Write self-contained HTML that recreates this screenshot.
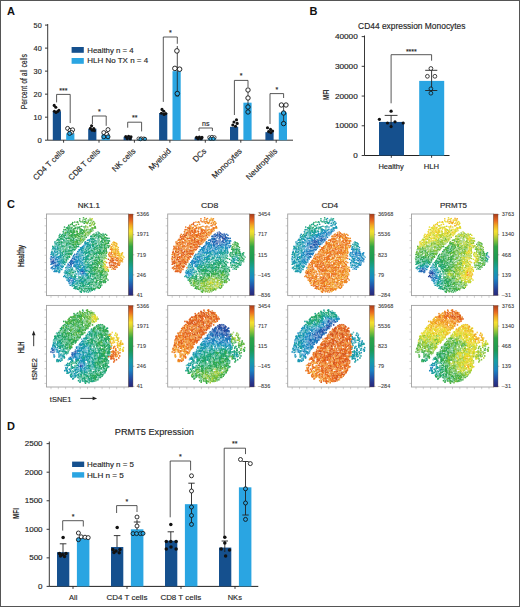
<!DOCTYPE html>
<html><head><meta charset="utf-8"><style>
html,body{margin:0;padding:0;background:#fff;}
body{width:520px;height:607px;overflow:hidden;position:relative;}
svg{position:absolute;left:0;top:0;}
text{font-family:"Liberation Sans",sans-serif;}
</style></head><body>
<svg width="520" height="607" viewBox="0 0 520 607">
<rect x="0.5" y="0.5" width="519" height="606" fill="#fff" stroke="#555" stroke-width="1"/>
<text x="7" y="14.75" font-size="11" text-anchor="start" fill="#111" font-weight="bold">A</text>
<line x1="47.7" y1="24.0" x2="47.7" y2="140.2" stroke="#222" stroke-width="0.9"/>
<line x1="45.0" y1="140.2" x2="47.7" y2="140.2" stroke="#222" stroke-width="0.9"/>
<text x="41.7" y="142.6" font-size="6.8" text-anchor="end" fill="#262626" font-weight="normal" textLength="4.3" lengthAdjust="spacingAndGlyphs" stroke="#262626" stroke-width="0.15">0</text>
<line x1="45.0" y1="117.17999999999999" x2="47.7" y2="117.17999999999999" stroke="#222" stroke-width="0.9"/>
<text x="41.7" y="119.58" font-size="6.8" text-anchor="end" fill="#262626" font-weight="normal" textLength="8.1" lengthAdjust="spacingAndGlyphs" stroke="#262626" stroke-width="0.15">10</text>
<line x1="45.0" y1="94.16" x2="47.7" y2="94.16" stroke="#222" stroke-width="0.9"/>
<text x="41.7" y="96.56" font-size="6.8" text-anchor="end" fill="#262626" font-weight="normal" textLength="8.1" lengthAdjust="spacingAndGlyphs" stroke="#262626" stroke-width="0.15">20</text>
<line x1="45.0" y1="71.13999999999999" x2="47.7" y2="71.13999999999999" stroke="#222" stroke-width="0.9"/>
<text x="41.7" y="73.53999999999999" font-size="6.8" text-anchor="end" fill="#262626" font-weight="normal" textLength="8.1" lengthAdjust="spacingAndGlyphs" stroke="#262626" stroke-width="0.15">30</text>
<line x1="45.0" y1="48.11999999999999" x2="47.7" y2="48.11999999999999" stroke="#222" stroke-width="0.9"/>
<text x="41.7" y="50.51999999999999" font-size="6.8" text-anchor="end" fill="#262626" font-weight="normal" textLength="8.1" lengthAdjust="spacingAndGlyphs" stroke="#262626" stroke-width="0.15">40</text>
<line x1="45.0" y1="25.09999999999998" x2="47.7" y2="25.09999999999998" stroke="#222" stroke-width="0.9"/>
<text x="41.7" y="27.49999999999998" font-size="6.8" text-anchor="end" fill="#262626" font-weight="normal" textLength="8.1" lengthAdjust="spacingAndGlyphs" stroke="#262626" stroke-width="0.15">50</text>
<line x1="47.7" y1="140.2" x2="293" y2="140.2" stroke="#222" stroke-width="0.9"/>
<text transform="translate(26.7,81.6) rotate(-90)" font-size="8.8" text-anchor="middle" fill="#262626" font-weight="normal" textLength="55.2" lengthAdjust="spacingAndGlyphs" stroke="#262626" stroke-width="0.15">Percent of all cells</text>
<rect x="71.60" y="47.00" width="12.20" height="5.80" fill="#15508e"/>
<rect x="71.60" y="58.00" width="12.20" height="5.80" fill="#2aa5e2"/>
<text x="87.3" y="52.5" font-size="7.6" text-anchor="start" fill="#262626" font-weight="normal" textLength="46.4" lengthAdjust="spacingAndGlyphs" stroke="#262626" stroke-width="0.15">Healthy n = 4</text>
<text x="87.3" y="63.2" font-size="7.6" text-anchor="start" fill="#262626" font-weight="normal" textLength="60.8" lengthAdjust="spacingAndGlyphs" stroke="#262626" stroke-width="0.15">HLH No TX n = 4</text>
<rect x="52.80" y="111.19" width="8.20" height="29.01" fill="#15508e"/>
<rect x="66.20" y="133.29" width="8.20" height="6.91" fill="#2aa5e2"/>
<line x1="63.6" y1="140.2" x2="63.6" y2="142.7" stroke="#222" stroke-width="0.9"/>
<text transform="translate(65.2,151.6) rotate(-45)" font-size="8.0" text-anchor="end" fill="#262626" font-weight="normal" stroke="#262626" stroke-width="0.15">CD4 T cells</text>
<rect x="88.20" y="128.69" width="8.20" height="11.51" fill="#15508e"/>
<rect x="101.60" y="134.44" width="8.20" height="5.75" fill="#2aa5e2"/>
<line x1="99.0" y1="140.2" x2="99.0" y2="142.7" stroke="#222" stroke-width="0.9"/>
<text transform="translate(100.6,151.6) rotate(-45)" font-size="8.0" text-anchor="end" fill="#262626" font-weight="normal" stroke="#262626" stroke-width="0.15">CD8 T cells</text>
<rect x="123.60" y="136.75" width="8.20" height="3.45" fill="#15508e"/>
<rect x="137.00" y="138.82" width="8.20" height="1.38" fill="#2aa5e2"/>
<line x1="134.4" y1="140.2" x2="134.4" y2="142.7" stroke="#222" stroke-width="0.9"/>
<text transform="translate(136.0,151.6) rotate(-45)" font-size="8.0" text-anchor="end" fill="#262626" font-weight="normal" stroke="#262626" stroke-width="0.15">NK cells</text>
<rect x="159.10" y="113.04" width="8.20" height="27.16" fill="#15508e"/>
<rect x="172.50" y="71.14" width="8.20" height="69.06" fill="#2aa5e2"/>
<line x1="169.9" y1="140.2" x2="169.9" y2="142.7" stroke="#222" stroke-width="0.9"/>
<text transform="translate(171.5,151.6) rotate(-45)" font-size="8.0" text-anchor="end" fill="#262626" font-weight="normal" stroke="#262626" stroke-width="0.15">Myeloid</text>
<rect x="194.50" y="137.44" width="8.20" height="2.76" fill="#15508e"/>
<rect x="207.90" y="137.90" width="8.20" height="2.30" fill="#2aa5e2"/>
<line x1="205.3" y1="140.2" x2="205.3" y2="142.7" stroke="#222" stroke-width="0.9"/>
<text transform="translate(206.9,151.6) rotate(-45)" font-size="8.0" text-anchor="end" fill="#262626" font-weight="normal" stroke="#262626" stroke-width="0.15">DCs</text>
<rect x="230.00" y="126.85" width="8.20" height="13.35" fill="#15508e"/>
<rect x="243.40" y="102.68" width="8.20" height="37.52" fill="#2aa5e2"/>
<line x1="240.8" y1="140.2" x2="240.8" y2="142.7" stroke="#222" stroke-width="0.9"/>
<text transform="translate(242.4,151.6) rotate(-45)" font-size="8.0" text-anchor="end" fill="#262626" font-weight="normal" stroke="#262626" stroke-width="0.15">Monocytes</text>
<rect x="265.40" y="132.14" width="8.20" height="8.06" fill="#15508e"/>
<rect x="278.80" y="112.58" width="8.20" height="27.62" fill="#2aa5e2"/>
<line x1="276.2" y1="140.2" x2="276.2" y2="142.7" stroke="#222" stroke-width="0.9"/>
<text transform="translate(277.8,151.6) rotate(-45)" font-size="8.0" text-anchor="end" fill="#262626" font-weight="normal" stroke="#262626" stroke-width="0.15">Neutrophils</text>
<polyline points="56.6,102.4 56.6,94.4 70.2,94.4 70.2,123.1" fill="none" stroke="#3a3a3a" stroke-width="0.85"/>
<text x="63.400000000000006" y="92.8" font-size="7" text-anchor="middle" fill="#262626" font-weight="normal" stroke="#262626" stroke-width="0.15">***</text>
<circle cx="54.2" cy="105.4" r="1.55" fill="#111"/>
<circle cx="55.8" cy="107.3" r="1.55" fill="#111"/>
<circle cx="58.9" cy="110.2" r="1.55" fill="#111"/>
<circle cx="54.4" cy="111.3" r="1.55" fill="#111"/>
<circle cx="57.5" cy="111.5" r="1.55" fill="#111"/>
<circle cx="56" cy="112.5" r="1.55" fill="#111"/>
<circle cx="67.6" cy="128.4" r="2.0" fill="#fff" stroke="#111" stroke-width="0.85"/>
<circle cx="70.0" cy="130.4" r="2.0" fill="#fff" stroke="#111" stroke-width="0.85"/>
<circle cx="72.6" cy="129.8" r="2.0" fill="#fff" stroke="#111" stroke-width="0.85"/>
<circle cx="71.4" cy="132.4" r="2.0" fill="#fff" stroke="#111" stroke-width="0.85"/>
<circle cx="69.6" cy="133.4" r="2.0" fill="#2aa5e2" stroke="#111" stroke-width="0.85"/>
<polyline points="92.4,124.0 92.4,116.0 106.2,116.0 106.2,125.8" fill="none" stroke="#3a3a3a" stroke-width="0.85"/>
<text x="99.30000000000001" y="113.9" font-size="7" text-anchor="middle" fill="#262626" font-weight="normal" stroke="#262626" stroke-width="0.15">*</text>
<circle cx="91.6" cy="125.8" r="1.55" fill="#111"/>
<circle cx="90.4" cy="128.4" r="1.55" fill="#111"/>
<circle cx="93.8" cy="128.6" r="1.55" fill="#111"/>
<circle cx="92.2" cy="130.2" r="1.55" fill="#111"/>
<circle cx="94.4" cy="130.6" r="1.55" fill="#111"/>
<circle cx="108" cy="129.6" r="2.0" fill="#fff" stroke="#111" stroke-width="0.85"/>
<circle cx="103.8" cy="132.6" r="2.0" fill="#fff" stroke="#111" stroke-width="0.85"/>
<circle cx="106.8" cy="134.4" r="2.0" fill="#fff" stroke="#111" stroke-width="0.85"/>
<circle cx="103.8" cy="136.8" r="2.0" fill="#2aa5e2" stroke="#111" stroke-width="0.85"/>
<circle cx="108" cy="136.8" r="2.0" fill="#2aa5e2" stroke="#111" stroke-width="0.85"/>
<polyline points="127.7,127.7 127.7,122.2 141.6,122.2 141.6,131.4" fill="none" stroke="#3a3a3a" stroke-width="0.85"/>
<text x="134.65" y="120.0" font-size="7" text-anchor="middle" fill="#262626" font-weight="normal" stroke="#262626" stroke-width="0.15">**</text>
<circle cx="125.8" cy="136.6" r="1.55" fill="#111"/>
<circle cx="128.6" cy="136.2" r="1.55" fill="#111"/>
<circle cx="131" cy="136.8" r="1.55" fill="#111"/>
<circle cx="127.2" cy="138.6" r="1.55" fill="#111"/>
<circle cx="130.2" cy="138.8" r="1.55" fill="#111"/>
<circle cx="138.6" cy="138.6" r="1.6" fill="#fff" stroke="#111" stroke-width="0.75"/>
<circle cx="141.2" cy="138.4" r="1.6" fill="#fff" stroke="#111" stroke-width="0.75"/>
<circle cx="143.8" cy="138.6" r="1.6" fill="#fff" stroke="#111" stroke-width="0.75"/>
<circle cx="140.4" cy="139.2" r="1.6" fill="#2aa5e2" stroke="#111" stroke-width="0.75"/>
<circle cx="145" cy="138.9" r="1.6" fill="#2aa5e2" stroke="#111" stroke-width="0.75"/>
<polyline points="163.3,101.9 163.3,37.0 177.3,37.0 177.3,43.8" fill="none" stroke="#3a3a3a" stroke-width="0.85"/>
<text x="170.3" y="35.0" font-size="7" text-anchor="middle" fill="#262626" font-weight="normal" stroke="#262626" stroke-width="0.15">*</text>
<line x1="177.3" y1="46" x2="177.3" y2="96" stroke="#222" stroke-width="0.8"/>
<line x1="175.6" y1="96" x2="179.0" y2="96" stroke="#222" stroke-width="0.8"/>
<circle cx="162.0" cy="109.4" r="1.55" fill="#111"/>
<circle cx="163.8" cy="111.2" r="1.55" fill="#111"/>
<circle cx="165.8" cy="113.6" r="1.55" fill="#111"/>
<circle cx="161.4" cy="113.2" r="1.55" fill="#111"/>
<circle cx="164" cy="114.4" r="1.55" fill="#111"/>
<circle cx="176.9" cy="50.9" r="2.3" fill="#fff" stroke="#111" stroke-width="0.9"/>
<circle cx="174.9" cy="68.4" r="2.3" fill="#fff" stroke="#111" stroke-width="0.9"/>
<circle cx="179.6" cy="69.2" r="2.3" fill="#fff" stroke="#111" stroke-width="0.9"/>
<circle cx="177.3" cy="93.6" r="2.3" fill="#2aa5e2" stroke="#111" stroke-width="0.9"/>
<polyline points="199.0,131.0 199.0,128.0 212.4,128.0 212.4,131.0" fill="none" stroke="#3a3a3a" stroke-width="0.85"/>
<text x="205.7" y="125.6" font-size="7" text-anchor="middle" fill="#262626" font-weight="normal" stroke="#262626" stroke-width="0.15">ns</text>
<circle cx="196.6" cy="137.4" r="1.55" fill="#111"/>
<circle cx="199.4" cy="137.0" r="1.55" fill="#111"/>
<circle cx="202" cy="137.4" r="1.55" fill="#111"/>
<circle cx="198" cy="138.8" r="1.55" fill="#111"/>
<circle cx="201" cy="138.8" r="1.55" fill="#111"/>
<circle cx="209.4" cy="137.4" r="1.7" fill="#fff" stroke="#111" stroke-width="0.75"/>
<circle cx="212" cy="137" r="1.7" fill="#fff" stroke="#111" stroke-width="0.75"/>
<circle cx="214.4" cy="137.4" r="1.7" fill="#fff" stroke="#111" stroke-width="0.75"/>
<circle cx="210.6" cy="138.8" r="1.7" fill="#2aa5e2" stroke="#111" stroke-width="0.75"/>
<circle cx="213.4" cy="138.8" r="1.7" fill="#2aa5e2" stroke="#111" stroke-width="0.75"/>
<polyline points="234.4,115.0 234.4,80.4 248.0,80.4 248.0,87.0" fill="none" stroke="#3a3a3a" stroke-width="0.85"/>
<text x="241.2" y="78.2" font-size="7" text-anchor="middle" fill="#262626" font-weight="normal" stroke="#262626" stroke-width="0.15">*</text>
<line x1="248" y1="90" x2="248" y2="114" stroke="#222" stroke-width="0.8"/>
<circle cx="236.5" cy="119.8" r="1.55" fill="#111"/>
<circle cx="234" cy="122" r="1.55" fill="#111"/>
<circle cx="237.2" cy="123.4" r="1.55" fill="#111"/>
<circle cx="232.8" cy="125" r="1.55" fill="#111"/>
<circle cx="235.5" cy="126.2" r="1.55" fill="#111"/>
<circle cx="248" cy="90" r="2.2" fill="#fff" stroke="#111" stroke-width="0.9"/>
<circle cx="248" cy="98" r="2.2" fill="#fff" stroke="#111" stroke-width="0.9"/>
<circle cx="248" cy="107" r="2.2" fill="#2aa5e2" stroke="#111" stroke-width="0.9"/>
<circle cx="248" cy="112" r="2.2" fill="#2aa5e2" stroke="#111" stroke-width="0.9"/>
<polyline points="270.0,124.0 270.0,93.6 283.6,93.6 283.6,98.0" fill="none" stroke="#3a3a3a" stroke-width="0.85"/>
<text x="276.8" y="91.6" font-size="7" text-anchor="middle" fill="#262626" font-weight="normal" stroke="#262626" stroke-width="0.15">*</text>
<line x1="283.6" y1="105" x2="283.6" y2="124" stroke="#222" stroke-width="0.8"/>
<circle cx="267.5" cy="127.8" r="1.55" fill="#111"/>
<circle cx="270.5" cy="129.4" r="1.55" fill="#111"/>
<circle cx="272.6" cy="131" r="1.55" fill="#111"/>
<circle cx="268.6" cy="131.6" r="1.55" fill="#111"/>
<circle cx="270.8" cy="132.6" r="1.55" fill="#111"/>
<circle cx="281.4" cy="105" r="2.2" fill="#fff" stroke="#111" stroke-width="0.9"/>
<circle cx="286" cy="105" r="2.2" fill="#fff" stroke="#111" stroke-width="0.9"/>
<circle cx="283.6" cy="113" r="2.2" fill="#2aa5e2" stroke="#111" stroke-width="0.9"/>
<circle cx="283.6" cy="123.6" r="2.2" fill="#2aa5e2" stroke="#111" stroke-width="0.9"/>
<text x="309.6" y="14.75" font-size="11" text-anchor="start" fill="#111" font-weight="bold">B</text>
<text x="358.1" y="28.6" font-size="8.2" text-anchor="start" fill="#262626" font-weight="normal" textLength="107.4" lengthAdjust="spacingAndGlyphs" stroke="#262626" stroke-width="0.15">CD44 expression Monocytes</text>
<line x1="364.5" y1="35.5" x2="364.5" y2="155.5" stroke="#222" stroke-width="0.9"/>
<line x1="361.7" y1="155.5" x2="364.5" y2="155.5" stroke="#222" stroke-width="0.9"/>
<text x="357.8" y="157.95" font-size="6.8" text-anchor="end" fill="#262626" font-weight="normal" textLength="4.5" lengthAdjust="spacingAndGlyphs" stroke="#262626" stroke-width="0.15">0</text>
<line x1="361.7" y1="125.78" x2="364.5" y2="125.78" stroke="#222" stroke-width="0.9"/>
<text x="357.8" y="128.23" font-size="6.8" text-anchor="end" fill="#262626" font-weight="normal" textLength="22.9" lengthAdjust="spacingAndGlyphs" stroke="#262626" stroke-width="0.15">10000</text>
<line x1="361.7" y1="96.06" x2="364.5" y2="96.06" stroke="#222" stroke-width="0.9"/>
<text x="357.8" y="98.51" font-size="6.8" text-anchor="end" fill="#262626" font-weight="normal" textLength="22.9" lengthAdjust="spacingAndGlyphs" stroke="#262626" stroke-width="0.15">20000</text>
<line x1="361.7" y1="66.34" x2="364.5" y2="66.34" stroke="#222" stroke-width="0.9"/>
<text x="357.8" y="68.79" font-size="6.8" text-anchor="end" fill="#262626" font-weight="normal" textLength="22.9" lengthAdjust="spacingAndGlyphs" stroke="#262626" stroke-width="0.15">30000</text>
<line x1="361.7" y1="36.620000000000005" x2="364.5" y2="36.620000000000005" stroke="#222" stroke-width="0.9"/>
<text x="357.8" y="39.07000000000001" font-size="6.8" text-anchor="end" fill="#262626" font-weight="normal" textLength="22.9" lengthAdjust="spacingAndGlyphs" stroke="#262626" stroke-width="0.15">40000</text>
<line x1="364.5" y1="155.5" x2="449.5" y2="155.5" stroke="#222" stroke-width="1.1"/>
<text transform="translate(328.6,94.7) rotate(-90)" font-size="8.4" text-anchor="middle" fill="#262626" font-weight="bold" textLength="10.4" lengthAdjust="spacingAndGlyphs">MFI</text>
<rect x="379.00" y="121.92" width="25.00" height="33.58" fill="#15508e"/>
<rect x="419.20" y="80.90" width="25.00" height="74.60" fill="#2aa5e2"/>
<line x1="391.3" y1="155.5" x2="391.3" y2="157.8" stroke="#222" stroke-width="0.9"/>
<line x1="431.6" y1="155.5" x2="431.6" y2="157.8" stroke="#222" stroke-width="0.9"/>
<text x="378.4" y="168.8" font-size="7.2" text-anchor="start" fill="#262626" font-weight="normal" textLength="25.4" lengthAdjust="spacingAndGlyphs" stroke="#262626" stroke-width="0.15">Healthy</text>
<text x="423.8" y="168.8" font-size="7.2" text-anchor="start" fill="#262626" font-weight="normal" textLength="15.3" lengthAdjust="spacingAndGlyphs" stroke="#262626" stroke-width="0.15">HLH</text>
<polyline points="391.1,103.3 391.1,54.7 431.6,54.7 431.6,60.7" fill="none" stroke="#3a3a3a" stroke-width="0.85"/>
<text x="411.35" y="53.5" font-size="7" text-anchor="middle" fill="#262626" font-weight="normal" stroke="#262626" stroke-width="0.15">****</text>
<line x1="431.6" y1="70.3" x2="431.6" y2="90.5" stroke="#222" stroke-width="0.9"/>
<line x1="425.2" y1="70.3" x2="437.3" y2="70.3" stroke="#222" stroke-width="0.9"/>
<line x1="425.2" y1="90.5" x2="437.3" y2="90.5" stroke="#222" stroke-width="0.9"/>
<circle cx="430.9" cy="68.5" r="1.9" fill="#fff" stroke="#111" stroke-width="0.8"/>
<circle cx="427.4" cy="76.3" r="1.9" fill="#fff" stroke="#111" stroke-width="0.8"/>
<circle cx="434.9" cy="76.3" r="1.9" fill="#fff" stroke="#111" stroke-width="0.8"/>
<circle cx="430.9" cy="88.8" r="1.9" fill="#2aa5e2" stroke="#111" stroke-width="0.8"/>
<circle cx="430.9" cy="93.2" r="1.9" fill="#2aa5e2" stroke="#111" stroke-width="0.8"/>
<line x1="391.1" y1="115.4" x2="391.1" y2="126" stroke="#222" stroke-width="0.9"/>
<line x1="384.7" y1="115.4" x2="397.5" y2="115.4" stroke="#222" stroke-width="0.9"/>
<circle cx="391.1" cy="111.2" r="1.6" fill="#111"/>
<circle cx="379.4" cy="119.3" r="1.6" fill="#111"/>
<circle cx="387.5" cy="123" r="1.6" fill="#111"/>
<circle cx="395" cy="121.8" r="1.6" fill="#111"/>
<circle cx="403.2" cy="123" r="1.6" fill="#111"/>
<circle cx="391.1" cy="126.6" r="1.6" fill="#111"/>
<text x="7" y="207.6" font-size="11" text-anchor="start" fill="#111" font-weight="bold">C</text>
<text x="77.8" y="208.0" font-size="7.9" text-anchor="start" fill="#262626" font-weight="normal" textLength="22.2" lengthAdjust="spacingAndGlyphs" stroke="#262626" stroke-width="0.15">NK1.1</text>
<text x="201" y="208.0" font-size="7.9" text-anchor="start" fill="#262626" font-weight="normal" textLength="17.3" lengthAdjust="spacingAndGlyphs" stroke="#262626" stroke-width="0.15">CD8</text>
<text x="321.5" y="208.0" font-size="7.9" text-anchor="start" fill="#262626" font-weight="normal" textLength="16.8" lengthAdjust="spacingAndGlyphs" stroke="#262626" stroke-width="0.15">CD4</text>
<text x="440" y="208.0" font-size="7.9" text-anchor="start" fill="#262626" font-weight="normal" textLength="27" lengthAdjust="spacingAndGlyphs" stroke="#262626" stroke-width="0.15">PRMT5</text>
<defs><linearGradient id="cbar" x1="0" y1="1" x2="0" y2="0"><stop offset="0" stop-color="#282878"/><stop offset="0.06" stop-color="#26388f"/><stop offset="0.12" stop-color="#2255aa"/><stop offset="0.21" stop-color="#1a86c4"/><stop offset="0.33" stop-color="#16a0a0"/><stop offset="0.45" stop-color="#1b9a55"/><stop offset="0.6" stop-color="#2ea545"/><stop offset="0.68" stop-color="#8cc43a"/><stop offset="0.75" stop-color="#e0d830"/><stop offset="0.79" stop-color="#f5e030"/><stop offset="0.86" stop-color="#f2a822"/><stop offset="0.92" stop-color="#e86820"/><stop offset="1.0" stop-color="#a83c1c"/></linearGradient></defs>
<path d="M44.5 218.50h2M44.5 225.85h2M44.5 233.20h2M44.5 240.55h2M44.5 247.90h2M44.5 255.25h2M44.5 262.60h2M44.5 269.95h2M44.5 277.30h2M44.5 284.65h2M44.5 292.00h2M51.00 295.6v2.2M58.30 295.6v2.2M65.60 295.6v2.2M72.90 295.6v2.2M80.20 295.6v2.2M87.50 295.6v2.2M94.80 295.6v2.2M102.10 295.6v2.2M109.40 295.6v2.2M116.70 295.6v2.2M124.00 295.6v2.2" stroke="#a0a0a0" stroke-width="0.5"/>
<rect x="46.5" y="214.0" width="82.0" height="81.6" fill="none" stroke="#a0a0a0" stroke-width="0.9"/>
<rect x="128.5" y="214.0" width="4.5" height="81.6" fill="url(#cbar)" stroke="#6a5040" stroke-width="0.35"/>
<line x1="133.0" y1="214.6" x2="134.3" y2="214.6" stroke="#777" stroke-width="0.5"/>
<text x="136.8" y="216.35" font-size="4.9" text-anchor="start" fill="#3a3a3a" font-weight="normal" textLength="12.2" lengthAdjust="spacingAndGlyphs" stroke="#3a3a3a" stroke-width="0.08">5366</text>
<line x1="133.0" y1="234.7" x2="134.3" y2="234.7" stroke="#777" stroke-width="0.5"/>
<text x="136.8" y="236.45" font-size="4.9" text-anchor="start" fill="#3a3a3a" font-weight="normal" textLength="12.2" lengthAdjust="spacingAndGlyphs" stroke="#3a3a3a" stroke-width="0.08">1971</text>
<line x1="133.0" y1="254.79999999999998" x2="134.3" y2="254.79999999999998" stroke="#777" stroke-width="0.5"/>
<text x="136.8" y="256.54999999999995" font-size="4.9" text-anchor="start" fill="#3a3a3a" font-weight="normal" textLength="9.149999999999999" lengthAdjust="spacingAndGlyphs" stroke="#3a3a3a" stroke-width="0.08">719</text>
<line x1="133.0" y1="274.9" x2="134.3" y2="274.9" stroke="#777" stroke-width="0.5"/>
<text x="136.8" y="276.65" font-size="4.9" text-anchor="start" fill="#3a3a3a" font-weight="normal" textLength="9.149999999999999" lengthAdjust="spacingAndGlyphs" stroke="#3a3a3a" stroke-width="0.08">246</text>
<line x1="133.0" y1="295.0" x2="134.3" y2="295.0" stroke="#777" stroke-width="0.5"/>
<text x="136.8" y="296.75" font-size="4.9" text-anchor="start" fill="#3a3a3a" font-weight="normal" textLength="6.1" lengthAdjust="spacingAndGlyphs" stroke="#3a3a3a" stroke-width="0.08">41</text>
<path d="M44.5 309.90h2M44.5 317.25h2M44.5 324.60h2M44.5 331.95h2M44.5 339.30h2M44.5 346.65h2M44.5 354.00h2M44.5 361.35h2M44.5 368.70h2M44.5 376.05h2M44.5 383.40h2M51.00 387.0v2.2M58.30 387.0v2.2M65.60 387.0v2.2M72.90 387.0v2.2M80.20 387.0v2.2M87.50 387.0v2.2M94.80 387.0v2.2M102.10 387.0v2.2M109.40 387.0v2.2M116.70 387.0v2.2M124.00 387.0v2.2" stroke="#a0a0a0" stroke-width="0.5"/>
<rect x="46.5" y="305.4" width="82.0" height="81.6" fill="none" stroke="#a0a0a0" stroke-width="0.9"/>
<rect x="128.5" y="305.4" width="4.5" height="81.6" fill="url(#cbar)" stroke="#6a5040" stroke-width="0.35"/>
<line x1="133.0" y1="306.0" x2="134.3" y2="306.0" stroke="#777" stroke-width="0.5"/>
<text x="136.8" y="307.75" font-size="4.9" text-anchor="start" fill="#3a3a3a" font-weight="normal" textLength="12.2" lengthAdjust="spacingAndGlyphs" stroke="#3a3a3a" stroke-width="0.08">5366</text>
<line x1="133.0" y1="326.1" x2="134.3" y2="326.1" stroke="#777" stroke-width="0.5"/>
<text x="136.8" y="327.85" font-size="4.9" text-anchor="start" fill="#3a3a3a" font-weight="normal" textLength="12.2" lengthAdjust="spacingAndGlyphs" stroke="#3a3a3a" stroke-width="0.08">1971</text>
<line x1="133.0" y1="346.2" x2="134.3" y2="346.2" stroke="#777" stroke-width="0.5"/>
<text x="136.8" y="347.95" font-size="4.9" text-anchor="start" fill="#3a3a3a" font-weight="normal" textLength="9.149999999999999" lengthAdjust="spacingAndGlyphs" stroke="#3a3a3a" stroke-width="0.08">719</text>
<line x1="133.0" y1="366.3" x2="134.3" y2="366.3" stroke="#777" stroke-width="0.5"/>
<text x="136.8" y="368.05" font-size="4.9" text-anchor="start" fill="#3a3a3a" font-weight="normal" textLength="9.149999999999999" lengthAdjust="spacingAndGlyphs" stroke="#3a3a3a" stroke-width="0.08">246</text>
<line x1="133.0" y1="386.4" x2="134.3" y2="386.4" stroke="#777" stroke-width="0.5"/>
<text x="136.8" y="388.15" font-size="4.9" text-anchor="start" fill="#3a3a3a" font-weight="normal" textLength="6.1" lengthAdjust="spacingAndGlyphs" stroke="#3a3a3a" stroke-width="0.08">41</text>
<path d="M165.7 218.50h2M165.7 225.85h2M165.7 233.20h2M165.7 240.55h2M165.7 247.90h2M165.7 255.25h2M165.7 262.60h2M165.7 269.95h2M165.7 277.30h2M165.7 284.65h2M165.7 292.00h2M172.20 295.6v2.2M179.50 295.6v2.2M186.80 295.6v2.2M194.10 295.6v2.2M201.40 295.6v2.2M208.70 295.6v2.2M216.00 295.6v2.2M223.30 295.6v2.2M230.60 295.6v2.2M237.90 295.6v2.2M245.20 295.6v2.2" stroke="#a0a0a0" stroke-width="0.5"/>
<rect x="167.7" y="214.0" width="82.0" height="81.6" fill="none" stroke="#a0a0a0" stroke-width="0.9"/>
<rect x="249.7" y="214.0" width="4.5" height="81.6" fill="url(#cbar)" stroke="#6a5040" stroke-width="0.35"/>
<line x1="254.2" y1="214.6" x2="255.5" y2="214.6" stroke="#777" stroke-width="0.5"/>
<text x="258.0" y="216.35" font-size="4.9" text-anchor="start" fill="#3a3a3a" font-weight="normal" textLength="12.2" lengthAdjust="spacingAndGlyphs" stroke="#3a3a3a" stroke-width="0.08">3454</text>
<line x1="254.2" y1="234.7" x2="255.5" y2="234.7" stroke="#777" stroke-width="0.5"/>
<text x="258.0" y="236.45" font-size="4.9" text-anchor="start" fill="#3a3a3a" font-weight="normal" textLength="9.149999999999999" lengthAdjust="spacingAndGlyphs" stroke="#3a3a3a" stroke-width="0.08">717</text>
<line x1="254.2" y1="254.79999999999998" x2="255.5" y2="254.79999999999998" stroke="#777" stroke-width="0.5"/>
<text x="258.0" y="256.54999999999995" font-size="4.9" text-anchor="start" fill="#3a3a3a" font-weight="normal" textLength="9.149999999999999" lengthAdjust="spacingAndGlyphs" stroke="#3a3a3a" stroke-width="0.08">115</text>
<line x1="254.2" y1="274.9" x2="255.5" y2="274.9" stroke="#777" stroke-width="0.5"/>
<text x="258.0" y="276.65" font-size="4.9" text-anchor="start" fill="#3a3a3a" font-weight="normal" textLength="12.2" lengthAdjust="spacingAndGlyphs" stroke="#3a3a3a" stroke-width="0.08">–145</text>
<line x1="254.2" y1="295.0" x2="255.5" y2="295.0" stroke="#777" stroke-width="0.5"/>
<text x="258.0" y="296.75" font-size="4.9" text-anchor="start" fill="#3a3a3a" font-weight="normal" textLength="12.2" lengthAdjust="spacingAndGlyphs" stroke="#3a3a3a" stroke-width="0.08">–836</text>
<path d="M165.7 309.90h2M165.7 317.25h2M165.7 324.60h2M165.7 331.95h2M165.7 339.30h2M165.7 346.65h2M165.7 354.00h2M165.7 361.35h2M165.7 368.70h2M165.7 376.05h2M165.7 383.40h2M172.20 387.0v2.2M179.50 387.0v2.2M186.80 387.0v2.2M194.10 387.0v2.2M201.40 387.0v2.2M208.70 387.0v2.2M216.00 387.0v2.2M223.30 387.0v2.2M230.60 387.0v2.2M237.90 387.0v2.2M245.20 387.0v2.2" stroke="#a0a0a0" stroke-width="0.5"/>
<rect x="167.7" y="305.4" width="82.0" height="81.6" fill="none" stroke="#a0a0a0" stroke-width="0.9"/>
<rect x="249.7" y="305.4" width="4.5" height="81.6" fill="url(#cbar)" stroke="#6a5040" stroke-width="0.35"/>
<line x1="254.2" y1="306.0" x2="255.5" y2="306.0" stroke="#777" stroke-width="0.5"/>
<text x="258.0" y="307.75" font-size="4.9" text-anchor="start" fill="#3a3a3a" font-weight="normal" textLength="12.2" lengthAdjust="spacingAndGlyphs" stroke="#3a3a3a" stroke-width="0.08">3454</text>
<line x1="254.2" y1="326.1" x2="255.5" y2="326.1" stroke="#777" stroke-width="0.5"/>
<text x="258.0" y="327.85" font-size="4.9" text-anchor="start" fill="#3a3a3a" font-weight="normal" textLength="9.149999999999999" lengthAdjust="spacingAndGlyphs" stroke="#3a3a3a" stroke-width="0.08">717</text>
<line x1="254.2" y1="346.2" x2="255.5" y2="346.2" stroke="#777" stroke-width="0.5"/>
<text x="258.0" y="347.95" font-size="4.9" text-anchor="start" fill="#3a3a3a" font-weight="normal" textLength="9.149999999999999" lengthAdjust="spacingAndGlyphs" stroke="#3a3a3a" stroke-width="0.08">115</text>
<line x1="254.2" y1="366.3" x2="255.5" y2="366.3" stroke="#777" stroke-width="0.5"/>
<text x="258.0" y="368.05" font-size="4.9" text-anchor="start" fill="#3a3a3a" font-weight="normal" textLength="12.2" lengthAdjust="spacingAndGlyphs" stroke="#3a3a3a" stroke-width="0.08">–145</text>
<line x1="254.2" y1="386.4" x2="255.5" y2="386.4" stroke="#777" stroke-width="0.5"/>
<text x="258.0" y="388.15" font-size="4.9" text-anchor="start" fill="#3a3a3a" font-weight="normal" textLength="12.2" lengthAdjust="spacingAndGlyphs" stroke="#3a3a3a" stroke-width="0.08">–836</text>
<path d="M285.7 218.50h2M285.7 225.85h2M285.7 233.20h2M285.7 240.55h2M285.7 247.90h2M285.7 255.25h2M285.7 262.60h2M285.7 269.95h2M285.7 277.30h2M285.7 284.65h2M285.7 292.00h2M292.20 295.6v2.2M299.50 295.6v2.2M306.80 295.6v2.2M314.10 295.6v2.2M321.40 295.6v2.2M328.70 295.6v2.2M336.00 295.6v2.2M343.30 295.6v2.2M350.60 295.6v2.2M357.90 295.6v2.2M365.20 295.6v2.2" stroke="#a0a0a0" stroke-width="0.5"/>
<rect x="287.7" y="214.0" width="82.0" height="81.6" fill="none" stroke="#a0a0a0" stroke-width="0.9"/>
<rect x="369.7" y="214.0" width="4.5" height="81.6" fill="url(#cbar)" stroke="#6a5040" stroke-width="0.35"/>
<line x1="374.2" y1="214.6" x2="375.5" y2="214.6" stroke="#777" stroke-width="0.5"/>
<text x="378.0" y="216.35" font-size="4.9" text-anchor="start" fill="#3a3a3a" font-weight="normal" textLength="15.25" lengthAdjust="spacingAndGlyphs" stroke="#3a3a3a" stroke-width="0.08">36968</text>
<line x1="374.2" y1="234.7" x2="375.5" y2="234.7" stroke="#777" stroke-width="0.5"/>
<text x="378.0" y="236.45" font-size="4.9" text-anchor="start" fill="#3a3a3a" font-weight="normal" textLength="12.2" lengthAdjust="spacingAndGlyphs" stroke="#3a3a3a" stroke-width="0.08">5536</text>
<line x1="374.2" y1="254.79999999999998" x2="375.5" y2="254.79999999999998" stroke="#777" stroke-width="0.5"/>
<text x="378.0" y="256.54999999999995" font-size="4.9" text-anchor="start" fill="#3a3a3a" font-weight="normal" textLength="9.149999999999999" lengthAdjust="spacingAndGlyphs" stroke="#3a3a3a" stroke-width="0.08">823</text>
<line x1="374.2" y1="274.9" x2="375.5" y2="274.9" stroke="#777" stroke-width="0.5"/>
<text x="378.0" y="276.65" font-size="4.9" text-anchor="start" fill="#3a3a3a" font-weight="normal" textLength="6.1" lengthAdjust="spacingAndGlyphs" stroke="#3a3a3a" stroke-width="0.08">79</text>
<line x1="374.2" y1="295.0" x2="375.5" y2="295.0" stroke="#777" stroke-width="0.5"/>
<text x="378.0" y="296.75" font-size="4.9" text-anchor="start" fill="#3a3a3a" font-weight="normal" textLength="12.2" lengthAdjust="spacingAndGlyphs" stroke="#3a3a3a" stroke-width="0.08">–284</text>
<path d="M285.7 309.90h2M285.7 317.25h2M285.7 324.60h2M285.7 331.95h2M285.7 339.30h2M285.7 346.65h2M285.7 354.00h2M285.7 361.35h2M285.7 368.70h2M285.7 376.05h2M285.7 383.40h2M292.20 387.0v2.2M299.50 387.0v2.2M306.80 387.0v2.2M314.10 387.0v2.2M321.40 387.0v2.2M328.70 387.0v2.2M336.00 387.0v2.2M343.30 387.0v2.2M350.60 387.0v2.2M357.90 387.0v2.2M365.20 387.0v2.2" stroke="#a0a0a0" stroke-width="0.5"/>
<rect x="287.7" y="305.4" width="82.0" height="81.6" fill="none" stroke="#a0a0a0" stroke-width="0.9"/>
<rect x="369.7" y="305.4" width="4.5" height="81.6" fill="url(#cbar)" stroke="#6a5040" stroke-width="0.35"/>
<line x1="374.2" y1="306.0" x2="375.5" y2="306.0" stroke="#777" stroke-width="0.5"/>
<text x="378.0" y="307.75" font-size="4.9" text-anchor="start" fill="#3a3a3a" font-weight="normal" textLength="15.25" lengthAdjust="spacingAndGlyphs" stroke="#3a3a3a" stroke-width="0.08">36968</text>
<line x1="374.2" y1="326.1" x2="375.5" y2="326.1" stroke="#777" stroke-width="0.5"/>
<text x="378.0" y="327.85" font-size="4.9" text-anchor="start" fill="#3a3a3a" font-weight="normal" textLength="12.2" lengthAdjust="spacingAndGlyphs" stroke="#3a3a3a" stroke-width="0.08">5536</text>
<line x1="374.2" y1="346.2" x2="375.5" y2="346.2" stroke="#777" stroke-width="0.5"/>
<text x="378.0" y="347.95" font-size="4.9" text-anchor="start" fill="#3a3a3a" font-weight="normal" textLength="9.149999999999999" lengthAdjust="spacingAndGlyphs" stroke="#3a3a3a" stroke-width="0.08">823</text>
<line x1="374.2" y1="366.3" x2="375.5" y2="366.3" stroke="#777" stroke-width="0.5"/>
<text x="378.0" y="368.05" font-size="4.9" text-anchor="start" fill="#3a3a3a" font-weight="normal" textLength="6.1" lengthAdjust="spacingAndGlyphs" stroke="#3a3a3a" stroke-width="0.08">79</text>
<line x1="374.2" y1="386.4" x2="375.5" y2="386.4" stroke="#777" stroke-width="0.5"/>
<text x="378.0" y="388.15" font-size="4.9" text-anchor="start" fill="#3a3a3a" font-weight="normal" textLength="12.2" lengthAdjust="spacingAndGlyphs" stroke="#3a3a3a" stroke-width="0.08">–284</text>
<path d="M409.5 218.50h2M409.5 225.85h2M409.5 233.20h2M409.5 240.55h2M409.5 247.90h2M409.5 255.25h2M409.5 262.60h2M409.5 269.95h2M409.5 277.30h2M409.5 284.65h2M409.5 292.00h2M416.00 295.6v2.2M423.30 295.6v2.2M430.60 295.6v2.2M437.90 295.6v2.2M445.20 295.6v2.2M452.50 295.6v2.2M459.80 295.6v2.2M467.10 295.6v2.2M474.40 295.6v2.2M481.70 295.6v2.2M489.00 295.6v2.2" stroke="#a0a0a0" stroke-width="0.5"/>
<rect x="411.5" y="214.0" width="82.0" height="81.6" fill="none" stroke="#a0a0a0" stroke-width="0.9"/>
<rect x="493.5" y="214.0" width="4.5" height="81.6" fill="url(#cbar)" stroke="#6a5040" stroke-width="0.35"/>
<line x1="498.0" y1="214.6" x2="499.3" y2="214.6" stroke="#777" stroke-width="0.5"/>
<text x="501.8" y="216.35" font-size="4.9" text-anchor="start" fill="#3a3a3a" font-weight="normal" textLength="12.2" lengthAdjust="spacingAndGlyphs" stroke="#3a3a3a" stroke-width="0.08">3763</text>
<line x1="498.0" y1="234.7" x2="499.3" y2="234.7" stroke="#777" stroke-width="0.5"/>
<text x="501.8" y="236.45" font-size="4.9" text-anchor="start" fill="#3a3a3a" font-weight="normal" textLength="12.2" lengthAdjust="spacingAndGlyphs" stroke="#3a3a3a" stroke-width="0.08">1340</text>
<line x1="498.0" y1="254.79999999999998" x2="499.3" y2="254.79999999999998" stroke="#777" stroke-width="0.5"/>
<text x="501.8" y="256.54999999999995" font-size="4.9" text-anchor="start" fill="#3a3a3a" font-weight="normal" textLength="9.149999999999999" lengthAdjust="spacingAndGlyphs" stroke="#3a3a3a" stroke-width="0.08">468</text>
<line x1="498.0" y1="274.9" x2="499.3" y2="274.9" stroke="#777" stroke-width="0.5"/>
<text x="501.8" y="276.65" font-size="4.9" text-anchor="start" fill="#3a3a3a" font-weight="normal" textLength="9.149999999999999" lengthAdjust="spacingAndGlyphs" stroke="#3a3a3a" stroke-width="0.08">139</text>
<line x1="498.0" y1="295.0" x2="499.3" y2="295.0" stroke="#777" stroke-width="0.5"/>
<text x="501.8" y="296.75" font-size="4.9" text-anchor="start" fill="#3a3a3a" font-weight="normal" textLength="9.149999999999999" lengthAdjust="spacingAndGlyphs" stroke="#3a3a3a" stroke-width="0.08">–31</text>
<path d="M409.5 309.90h2M409.5 317.25h2M409.5 324.60h2M409.5 331.95h2M409.5 339.30h2M409.5 346.65h2M409.5 354.00h2M409.5 361.35h2M409.5 368.70h2M409.5 376.05h2M409.5 383.40h2M416.00 387.0v2.2M423.30 387.0v2.2M430.60 387.0v2.2M437.90 387.0v2.2M445.20 387.0v2.2M452.50 387.0v2.2M459.80 387.0v2.2M467.10 387.0v2.2M474.40 387.0v2.2M481.70 387.0v2.2M489.00 387.0v2.2" stroke="#a0a0a0" stroke-width="0.5"/>
<rect x="411.5" y="305.4" width="82.0" height="81.6" fill="none" stroke="#a0a0a0" stroke-width="0.9"/>
<rect x="493.5" y="305.4" width="4.5" height="81.6" fill="url(#cbar)" stroke="#6a5040" stroke-width="0.35"/>
<line x1="498.0" y1="306.0" x2="499.3" y2="306.0" stroke="#777" stroke-width="0.5"/>
<text x="501.8" y="307.75" font-size="4.9" text-anchor="start" fill="#3a3a3a" font-weight="normal" textLength="12.2" lengthAdjust="spacingAndGlyphs" stroke="#3a3a3a" stroke-width="0.08">3763</text>
<line x1="498.0" y1="326.1" x2="499.3" y2="326.1" stroke="#777" stroke-width="0.5"/>
<text x="501.8" y="327.85" font-size="4.9" text-anchor="start" fill="#3a3a3a" font-weight="normal" textLength="12.2" lengthAdjust="spacingAndGlyphs" stroke="#3a3a3a" stroke-width="0.08">1340</text>
<line x1="498.0" y1="346.2" x2="499.3" y2="346.2" stroke="#777" stroke-width="0.5"/>
<text x="501.8" y="347.95" font-size="4.9" text-anchor="start" fill="#3a3a3a" font-weight="normal" textLength="9.149999999999999" lengthAdjust="spacingAndGlyphs" stroke="#3a3a3a" stroke-width="0.08">468</text>
<line x1="498.0" y1="366.3" x2="499.3" y2="366.3" stroke="#777" stroke-width="0.5"/>
<text x="501.8" y="368.05" font-size="4.9" text-anchor="start" fill="#3a3a3a" font-weight="normal" textLength="9.149999999999999" lengthAdjust="spacingAndGlyphs" stroke="#3a3a3a" stroke-width="0.08">139</text>
<line x1="498.0" y1="386.4" x2="499.3" y2="386.4" stroke="#777" stroke-width="0.5"/>
<text x="501.8" y="388.15" font-size="4.9" text-anchor="start" fill="#3a3a3a" font-weight="normal" textLength="9.149999999999999" lengthAdjust="spacingAndGlyphs" stroke="#3a3a3a" stroke-width="0.08">–31</text>
<text transform="translate(23.8,256.0) rotate(-90)" font-size="8.8" text-anchor="middle" fill="#262626" font-weight="normal" textLength="21.9" lengthAdjust="spacingAndGlyphs" stroke="#262626" stroke-width="0.3">Healthy</text>
<text transform="translate(23.6,347.4) rotate(-90)" font-size="8.6" text-anchor="middle" fill="#262626" font-weight="normal" textLength="11.6" lengthAdjust="spacingAndGlyphs" stroke="#262626" stroke-width="0.35">HLH</text>
<text transform="translate(36.6,369.0) rotate(-90)" font-size="7.4" text-anchor="middle" fill="#262626" font-weight="normal" textLength="21.7" lengthAdjust="spacingAndGlyphs" stroke="#262626" stroke-width="0.15">tSNE2</text>
<line x1="33.7" y1="346.2" x2="33.7" y2="334" stroke="#222" stroke-width="0.9"/>
<polygon points="33.7,330.4 31.9,335.2 35.5,335.2" fill="#222"/>
<text x="49.8" y="402.1" font-size="7.4" text-anchor="start" fill="#262626" font-weight="normal" textLength="21.7" lengthAdjust="spacingAndGlyphs" stroke="#262626" stroke-width="0.15">tSNE1</text>
<line x1="80.3" y1="398.4" x2="93.5" y2="398.4" stroke="#222" stroke-width="0.9"/>
<polygon points="97.1,398.4 92.6,396.6 92.6,400.2" fill="#222"/>
<g transform="translate(46.5,214.0) scale(0.25)" fill="none" stroke-width="6.8" stroke-linecap="round"><path stroke="#253b91" d="M0 0m27 184h0"/><path stroke="#24459b" d="M0 0m97 198h0m2 5h0m46 27h0"/><path stroke="#2350a6" d="M0 0m101 184h0m3 5h0m-85 3h0m16 5h0m55 9h0m55 31h0m-43 29h0"/><path stroke="#225baf" d="M0 0m104 177h0m-86 5h0m93 0h0m-89 7h0m6 0h0m71-3h0m-74 7h0m2-3h0m1 7h0m-2 2h0m63 4h0m-54 3h0m58 59h0"/><path stroke="#2066b4" d="M0 0m117 183h0m-85 10h0m60 1h0m8 1h0m5 3h0m-70 5h0m3 2h0m9 0h0m93 25h0m-46 34h0m11 1h0"/><path stroke="#1e71b8" d="M0 0m113 161h0m8 2h0m-102 7h0m9 3h0m4-2h0m-12 3h0m93 2h0m-75 5h0m-3 2h0m8 5h0m54 0h0m6 2h0m-7 2h0m11 2h0m-84 2h0m-2 3h0m76 2h0m-52 2h0m-17 5h0m11 1h0m59-1h0m1 0h0m-76 4h0m-4 4h0m3-1h0m105 5h0m10 8h0m13 3h0m-13 6h0m11 0h0m-50 21h0"/><path stroke="#1c7cbd" d="M0 0m109 166h0m-83 7h0m84 5h0m12-2h0m-84 3h0m-2 7h0m87 4h0m-86 4h0m7-3h0m68 1h0m-64 4h0m61 1h0m-91 4h0m68-1h0m-43 5h0m68-2h0m-2 5h0m-74 3h0m62 1h0m15-2h0m41 20h0m-122 0h0m10 0h0m96 10h0m12-1h0m-7 4h0m-45 13h0m-8 4h0m-1 9h0m3-1h0m11 4h0m-8 3h0"/><path stroke="#1a88c2" d="M0 0m125 150h0m-3 7h0m4 3h0m-11 9h0m5 1h0m6-2h0m-19 3h0m-59 6h0m64-2h0m14 0h0m-72 8h0m72 1h0m-16 5h0m20 0h0m-11 3h0m2 4h0m-71 4h0m82 0h0m-78 7h0m29 1h0m42 0h0m-35 5h0m28-2h0m-91 7h0m5 0h0m5-3h0m104 7h0m-107 2h0m104 2h0m5-1h0m6 1h0m1-4h0m-118 7h0m101-2h0m-83 7h0m43 19h0m8 4h0"/><path stroke="#1991c3" d="M0 0m150 125h0m-2 4h0m-5 5h0m-3 7h0m-10 2h0m4-1h0m-3 5h0m7 9h0m-7 4h0m-93 8h0m9 4h0m82 0h0m6 5h0m-91 5h0m74-1h0m11 1h0m10-2h0m-91 9h0m73-2h0m3 0h0m9 1h0m-16 4h0m21-1h0m-14 4h0m7 0h0m2 1h0m-81 5h0m65 3h0m2-1h0m6-1h0m21 3h0m-88 3h0m-10 3h0m15 3h0m61-2h0m22 1h0m-100 2h0m5 0h0m77 1h0m14 1h0m7-2h0m-112 4h0m8 1h0m91 2h0m-47 1h0m42 0h0m14-1h0m-17 9h0m6 5h0m18 0h0m-69 9h0m64-2h0m-68 12h0m28 4h0m-25 5h0m29-2h0m2 0h0m-6 5h0m-15 11h0m12-1h0m-2 3h0m0 5h0"/><path stroke="#1895b7" d="M0 0m164 105h0m4-1h0m6-2h0m-20 12h0m0 4h0m3 2h0m7 2h0m-20 8h0m-8 5h0m3 0h0m4 3h0m-6 3h0m-105 8h0m112 0h0m-122 5h0m107-2h0m-99 3h0m20 1h0m94-1h0m-126 7h0m2-2h0m15 4h0m100 0h0m5 0h0m-112 3h0m20 3h0m6-1h0m75 0h0m14-3h0m-104 8h0m5-1h0m94-1h0m-87 4h0m77 1h0m20 4h0m-32 7h0m-63 3h0m91 2h0m-87 3h0m83 1h0m2 0h0m-79 9h0m53-2h0m13 0h0m4-1h0m11 0h0m-29 7h0m3-3h0m11 3h0m-86 1h0m24-1h0m23 4h0m-46 3h0m79 1h0m10-4h0m-77 5h0m-17 6h0m3 2h0m33 0h0m8 0h0m43 2h0m-89 1h0m16 1h0m74 4h0m30 2h0m-82 2h0m65 4h0m17 0h0m-88 7h0m7 1h0m10 5h0m0 8h0m37 1h0m-7 4h0m-7 3h0m0-2h0m5 2h0m-9 2h0m-10 11h0"/><path stroke="#189aaa" d="M0 0m172 105h0m-16 6h0m16 0h0m-13 6h0m-4 6h0m8 0h0m10 5h0m-136 2h0m113 4h0m-124 1h0m4 1h0m14-2h0m111 7h0m10-1h0m-18 6h0m-104 3h0m97-2h0m-104 5h0m2 1h0m101 1h0m-119 0h0m36 2h0m-30 3h0m3 0h0m-1 4h0m120 4h0m-87 5h0m59 1h0m34 0h0m-7 4h0m8 3h0m-94 5h0m83-1h0m-89 2h0m5 1h0m78 1h0m-89 2h0m84 3h0m-81 4h0m10 13h0m-3 2h0m90-2h0m5 0h0m-72 4h0m37 1h0m33 1h0m-104 4h0m13 2h0m-8 3h0m39-3h0m68 4h0m3-1h0m-116 4h0m31 5h0m6-1h0m76 7h0m-87 6h0m55-3h0m27 5h0m6 2h0m-26 2h0m-47 5h0m62-2h0m-38 6h0m18 5h0m6 1h0m-11 5h0m8 0h0m-24 5h0m2 8h0"/><path stroke="#189e9e" d="M0 0m52 107h0m111 7h0m3 4h0m3 5h0m4 2h0m-7 4h0m-38 1h0m32 1h0m-125 5h0m-10 3h0m5 1h0m4-1h0m123 2h0m-123 5h0m3-3h0m16 3h0m87 0h0m-118 3h0m32-1h0m104 1h0m-114 3h0m109 2h0m11 0h0m-101 1h0m85 2h0m2-3h0m11 3h0m-116 2h0m-20 5h0m14-2h0m3 1h0m13 2h0m77-2h0m23 0h0m-97 3h0m77 3h0m-78 3h0m-2 3h0m94-1h0m-85 6h0m4 3h0m65 1h0m12 1h0m10 4h0m-97 2h0m5 2h0m3-3h0m84 8h0m-89 0h0m12 4h0m81 2h0m7 2h0m-25 1h0m3 0h0m29 1h0m-10 4h0m-81 3h0m27 1h0m33-1h0m23 0h0m-41 5h0m-26 4h0m62 2h0m-65 3h0m33-2h0m-51 7h0m8-1h0m0-1h0m0 6h0m12 2h0m28 0h0m44 0h0m-79 4h0m76 1h0m5 0h0m-19 3h0m-65 5h0m16-3h0m17 3h0m1-3h0m47 4h0m-60 0h0m11 4h0m30-4h0m-8 7h0m13-1h0m9 1h0m-24 5h0m7 4h0m2-3h0m4 2h0m-26 7h0m3 2h0m20-3h0m-29 5h0m-10 3h0m-1 5h0"/><path stroke="#17a291" d="M0 0m188 101h0m-8 2h0m8 6h0m7-2h0m-162 5h0m148 0h0m-14 3h0m21-1h0m-14 8h0m3 2h0m11 2h0m16 0h0m-175 6h0m21 0h0m138-2h0m-28 6h0m6-2h0m23 4h0m-146 0h0m105 1h0m-106 3h0m6 2h0m42 1h0m55 0h0m23 4h0m8-1h0m-102 4h0m83 4h0m-100 6h0m6 3h0m3-3h0m92 7h0m1 4h0m3-2h0m-93 6h0m97 1h0m-107 2h0m99-2h0m19 3h0m-19 5h0m-91 1h0m3 6h0m96-2h0m13-1h0m-107 5h0m3 0h0m-8 3h0m31 19h0m66-2h0m-60 7h0m50-1h0m3-1h0m-63 6h0m21 3h0m44 0h0m9-1h0m-80 8h0m21-2h0m-24 5h0m10 6h0m18-1h0m62 0h0m-89 4h0m44 3h0m14-1h0m-4 10h0m13-1h0m10-1h0m-45 7h0m23-1h0m9 2h0m6-1h0m11 1h0m-39 3h0m-6 3h0m37 1h0m-11 2h0m7 2h0m13 0h0m-30 2h0m-9 5h0m-20 2h0m14 2h0m13 0h0m-21 2h0m8 6h0m58 5h0m11 2h0m-38 5h0"/><path stroke="#19a485" d="M0 0m54 81h0m123 8h0m4 2h0m-93 6h0m89 0h0m-128 4h0m133 0h0m11 3h0m-145 3h0m22-1h0m109 4h0m22-2h0m-166 10h0m3-1h0m5-2h0m24 0h0m-29 4h0m3 3h0m8-2h0m-10 3h0m47 1h0m-61 5h0m19-1h0m14 2h0m8-4h0m99 2h0m20 1h0m-9 2h0m0 3h0m-110 3h0m107-2h0m-122 3h0m31 3h0m86-2h0m3-1h0m-113 6h0m101 2h0m9-3h0m-91 5h0m84-1h0m26 3h0m-130 1h0m96 0h0m14 3h0m-109 1h0m102 0h0m-88 9h0m92 1h0m4-1h0m7-2h0m-106 8h0m93-1h0m8-1h0m-103 4h0m18 1h0m83-2h0m-5 5h0m-5 5h0m4 1h0m6 1h0m-97 6h0m8 3h0m76 0h0m10 10h0m2-4h0m0 4h0m7 0h0m9 1h0m-16 6h0m-33 1h0m44 3h0m-70 17h0m-30 1h0m19 2h0m70-2h0m11 9h0m-2 6h0m-74 2h0m12-2h0m61 3h0m-70 2h0m4 2h0m2-2h0m26 3h0m39-3h0m-46 4h0m13 3h0m-13 1h0m39 0h0m-16 11h0m-21 7h0m-14 4h0m29-1h0m15 0h0m3 1h0m-30 4h0m11-2h0m-6 6h0m32 0h0m-59 3h0m6-2h0m23 1h0m5 0h0m22 1h0m12 1h0m-71 4h0m8-2h0m-2 4h0m56 7h0m-37 4h0m16 1h0m16 1h0"/><path stroke="#1da578" d="M0 0m85 71h0m-17 5h0m17 0h0m121 5h0m0 6h0m18 0h0m-173 6h0m10-2h0m137 1h0m10 1h0m-163 8h0m21-1h0m124-1h0m-121 6h0m115 3h0m55-1h0m-193 7h0m178-2h0m-167 5h0m127-1h0m11 0h0m5 0h0m-139 3h0m25 0h0m112 1h0m20 0h0m-170 6h0m4-3h0m26 2h0m105 0h0m22 2h0m-110 4h0m106-1h0m20 3h0m-171 5h0m55 3h0m96-2h0m5 0h0m-139 5h0m10 0h0m35 0h0m67-1h0m-99 6h0m102-1h0m-115 3h0m20 1h0m14-1h0m70 3h0m-84 3h0m7 1h0m5-2h0m3 1h0m82-1h0m-120 2h0m13 1h0m79 0h0m14 0h0m1-1h0m15 3h0m4-3h0m11 4h0m-119 3h0m8-2h0m90 0h0m-107 4h0m8 7h0m100 0h0m-100 3h0m104 0h0m-31 5h0m20 0h0m5-4h0m-99 5h0m0 4h0m80 4h0m4 2h0m-12 2h0m32 2h0m-26 5h0m28-4h0m-13 9h0m6-1h0m-15 5h0m10 2h0m-4 2h0m7 3h0m-78 8h0m0-4h0m-3 8h0m75-1h0m11 0h0m-6 8h0m6-2h0m6 1h0m-6 2h0m-82 8h0m89 4h0m-22 0h0m0 3h0m7 0h0m18 3h0m-18 2h0m4 1h0m3 1h0m7 0h0m-34 3h0m29-1h0m18 4h0m-42 2h0m-18 6h0m29-1h0m8-2h0m15 1h0m-57 5h0m37-3h0m-29 5h0m3 6h0m8-2h0m2-1h0m35 3h0m-47 1h0m4 4h0m11-1h0m4 0h0m2 1h0m50-1h0m-85 5h0m46-2h0m25 0h0m-66 4h0m-14 2h0m2 3h0m5 1h0m21-4h0m21 1h0m-7 6h0m15-1h0m-40 9h0m21-2h0"/><path stroke="#21a56c" d="M0 0m80 55h0m19 13h0m4 8h0m108 1h0m-21 3h0m8 2h0m-127 2h0m4 1h0m137 0h0m-141 3h0m110 0h0m7 2h0m14-1h0m-146 2h0m16 3h0m5 2h0m49 0h0m57 2h0m2-1h0m25-3h0m40 3h0m-169 2h0m128 2h0m-154 1h0m52 0h0m118 2h0m-150 5h0m7-2h0m13 1h0m15-1h0m80 3h0m-139 0h0m7 1h0m4 1h0m146-1h0m-156 3h0m31 2h0m144-1h0m-174 6h0m27-1h0m103 1h0m-123 3h0m20 1h0m38 0h0m96-2h0m-107 5h0m14 2h0m78-2h0m-141 6h0m33-3h0m0 2h0m6-1h0m99 1h0m9 0h0m11 1h0m-105 0h0m7 2h0m73-1h0m27 3h0m-162 1h0m53 2h0m82 0h0m-106 2h0m14 2h0m5 0h0m77 1h0m12-2h0m20-2h0m2 3h0m-141 2h0m12 3h0m3-1h0m5-3h0m1 2h0m77 1h0m43 0h0m22-2h0m-159 5h0m110 0h0m18 0h0m-13 3h0m7-1h0m0 3h0m7 0h0m-130 4h0m5-3h0m5 3h0m90-1h0m-77 3h0m87 4h0m-110 4h0m9-1h0m6 3h0m86-1h0m8 0h0m9 4h0m15 1h0m-125 1h0m103 7h0m-3 8h0m17-1h0m-29 3h0m19 4h0m-8 8h0m-3 5h0m11-1h0m-8 6h0m17-3h0m-27 6h0m7 3h0m-5 3h0m2 4h0m-86 7h0m101-1h0m-95 4h0m69-1h0m21 2h0m15-1h0m-20 3h0m19 5h0m6 0h0m-12 6h0m11 4h0m-21 5h0m27-1h0m2 1h0m-37 3h0m9 2h0m-8 5h0m4 0h0m43-3h0m3 3h0m-56 4h0m-4 4h0m31 1h0m-27 3h0m35 0h0m-55 1h0m-22 11h0m8 2h0m30 1h0m5 0h0m2-1h0m7 6h0m-43 3h0m2-2h0m33 4h0"/><path stroke="#24a55f" d="M0 0m86 52h0m44 1h0m-47 4h0m14 7h0m43-2h0m-48 6h0m15 0h0m31-2h0m-59 10h0m121 0h0m9-1h0m-134 5h0m142 2h0m10-1h0m9 0h0m-173 1h0m5 3h0m33 1h0m11-4h0m3 3h0m83 0h0m2-1h0m-149 3h0m9 0h0m150 2h0m-123 3h0m14-1h0m-39 6h0m20 0h0m11-2h0m13 0h0m99 3h0m14-3h0m13-1h0m8 2h0m-184 2h0m2 2h0m4 1h0m17-2h0m31 0h0m20 0h0m91 0h0m9 3h0m-188 3h0m79 0h0m111 1h0m13-1h0m-158 2h0m1 3h0m-27 3h0m12-1h0m15 2h0m12-2h0m123 1h0m-144 3h0m19 1h0m11-2h0m13 5h0m67 1h0m5-2h0m37 1h0m-127 3h0m5 2h0m19-2h0m84 2h0m-150 5h0m4 1h0m6 0h0m141 0h0m37-1h0m-145 5h0m126-1h0m3 1h0m3 3h0m-144 1h0m92 6h0m19 0h0m1 5h0m25-3h0m10 3h0m-173 0h0m143 3h0m17-3h0m5 2h0m-140 5h0m127-2h0m-22 3h0m-7 11h0m12 5h0m-20 4h0m26 2h0m-130 3h0m115 1h0m4 1h0m-5 1h0m10 1h0m2 2h0m-7 6h0m4 3h0m-16 4h0m20-1h0m2 6h0m-4 6h0m-13 2h0m-12 6h0m5 5h0m39-1h0m-31 5h0m19 0h0m-106 4h0m69 0h0m29 2h0m-9 3h0m-4 4h0m3 1h0m19-2h0m8 3h0m-35 4h0m31 0h0m19-2h0m-39 10h0m15-3h0m-10 6h0m32 8h0m-71 5h0m25-1h0m15 2h0m15-4h0m4 3h0m-3 4h0m-39 4h0m8-1h0m12-1h0m14 2h0m-31 2h0m8 3h0m13 3h0m-47 3h0m-22 2h0m30 3h0m25 0h0m19-3h0m-66 6h0m2 1h0m11 0h0m2-3h0m1 0h0m12 0h0m-20 9h0"/><path stroke="#28a652" d="M0 0m146 32h0m-43 10h0m-14 3h0m-17 7h0m19-1h0m0 6h0m8 1h0m32-2h0m-44 6h0m20-2h0m9-2h0m-10 6h0m38-1h0m-58 4h0m27 1h0m-46 2h0m33 3h0m9 0h0m-17 5h0m14 0h0m28-4h0m9 1h0m-54 6h0m31 0h0m4 1h0m21-2h0m41 3h0m8 2h0m36 1h0m-138 1h0m38 3h0m86 0h0m-150 1h0m68 0h0m57-1h0m45 3h0m-142 4h0m14 0h0m136 0h0m-145 4h0m45-1h0m83-1h0m-130 4h0m8 3h0m26-1h0m107-3h0m12 4h0m-151 1h0m120 2h0m2-2h0m13 0h0m18 1h0m-142 4h0m-17 4h0m12-2h0m130 2h0m12-2h0m1 3h0m-157 4h0m4-1h0m12 2h0m17-2h0m6 1h0m78-1h0m13 0h0m15 1h0m9-3h0m-23 6h0m8 0h0m-114 4h0m103 1h0m15-2h0m10-1h0m7 0h0m-127 4h0m79 4h0m8 0h0m7-4h0m13 0h0m16 4h0m-166 1h0m18 0h0m125 1h0m-148 4h0m38 1h0m83-1h0m31 6h0m4-3h0m-20 5h0m-13 2h0m25 3h0m-11 4h0m1-2h0m15 3h0m-133 3h0m97 0h0m28-1h0m-3 4h0m3-2h0m-129 7h0m107-2h0m8 1h0m-9 5h0m10 0h0m5 0h0m7 0h0m-2 2h0m-6 11h0m9 2h0m-26 4h0m26-1h0m-31 10h0m22-1h0m-33 4h0m18-2h0m-11 11h0m10-2h0m20 2h0m-27 3h0m25-2h0m-17 7h0m6-1h0m21 5h0m-28 2h0m2 9h0m13-1h0m10 0h0m17-1h0m-22 5h0m4 2h0m-18 4h0m4 0h0m10-2h0m9 2h0m9 3h0m-7 5h0m-12 2h0m4 7h0m-13 3h0m28-1h0m12 0h0m-43 3h0m34 3h0m-18 1h0m-23 3h0m15 1h0m4 10h0m6-1h0m-24 12h0m9-1h0m5 2h0m-30 1h0m6 3h0m6-2h0"/><path stroke="#34a94a" d="M0 0m133 19h0m20 11h0m5 3h0m-53 1h0m46 3h0m-49 2h0m6 8h0m5 0h0m12 6h0m9-2h0m16 0h0m45 2h0m-109 4h0m12-2h0m14 3h0m3-3h0m9 2h0m-54 5h0m106-1h0m-99 1h0m20 5h0m13 2h0m13 0h0m11-1h0m12-2h0m-56 8h0m7-2h0m26-1h0m16 0h0m6 3h0m4-4h0m-2 7h0m-41 3h0m28 2h0m86 0h0m-122 1h0m3 0h0m15 1h0m15-1h0m110 2h0m-147 2h0m12-1h0m6 2h0m16 0h0m-30 3h0m7 1h0m40-2h0m14 3h0m61-2h0m-103 3h0m-27 5h0m59 0h0m76-1h0m-105 5h0m5 3h0m-19 6h0m16 2h0m1-3h0m93 1h0m16-1h0m14-1h0m-145 8h0m24-4h0m-23 9h0m123 1h0m-113 7h0m4 1h0m123 9h0m0 5h0m-22 11h0m9 0h0m-14 6h0m18 4h0m-6 5h0m-21 9h0m-5 3h0m15-2h0m-22 10h0m17-1h0m15 1h0m-17 5h0m-4 8h0m1-2h0m-9 5h0m26 0h0m-24 7h0m-4 6h0m35 1h0m2-1h0m-39 4h0m21 1h0m-9 4h0m28-1h0m-13 5h0m7 0h0m-27 7h0m34-1h0m1 8h0m-29 7h0m12 5h0m8 1h0m18-2h0m-11 7h0m-31 3h0m14 0h0m15 5h0m7 0h0m-17 1h0m-8 4h0m5 14h0"/><path stroke="#48b045" d="M0 0m148 15h0m6 6h0m-21 6h0m24 1h0m-44 4h0m11-1h0m1 3h0m13-3h0m-42 11h0m32-1h0m46-3h0m-33 11h0m53 1h0m-92 3h0m94 3h0m-14 4h0m3-1h0m-75 5h0m24-2h0m15 4h0m-29 2h0m34 0h0m27 0h0m-103 5h0m27-1h0m8 2h0m9-2h0m47 0h0m7-1h0m-102 5h0m56 2h0m7 0h0m-13 0h0m16 0h0m-16 7h0m-9 4h0m27-1h0m-23 3h0m21 1h0m-4 5h0m98 0h0m-137 7h0m137 4h0m-113 2h0m22 2h0m-26 3h0m122 1h0m-127 4h0m3 1h0m124-2h0m1 16h0m-9 4h0m2 16h0m6 3h0m-4 7h0m-2 8h0m-15 10h0m6 2h0m-12 8h0m3-2h0m-6 4h0m11 5h0m-3 6h0m-12 7h0m17-2h0m-18 5h0m17 1h0m-33 7h0m43 0h0m-23 3h0m9 1h0m7 1h0m12 0h0m-29 3h0m19 9h0m13 3h0m-9 8h0m9-2h0m0 6h0m-5 4h0m-7 6h0"/><path stroke="#5db740" d="M0 0m159 18h0m-14 10h0m23-1h0m-1 5h0m-48 11h0m70 0h0m-32 5h0m16-1h0m20 6h0m-1 3h0m-55 3h0m25 2h0m22-3h0m-25 8h0m-7 7h0m12 0h0m9 3h0m-87 8h0m52 1h0m15 0h0m2-2h0m-36 4h0m37 0h0m74 3h0m-105 3h0m27-1h0m1 8h0m-7 4h0m-12 6h0m2-2h0m13-1h0m-34 3h0m15 6h0m101 60h0m-17 21h0m13-2h0m0 23h0m-8 12h0m13 4h0m12 9h0"/><path stroke="#71bd3c" d="M0 0m171 24h0m7 1h0m10 5h0m-25 5h0m1 3h0m29-1h0m-3 5h0m-13 5h0m5 8h0m4 0h0m-33 5h0m20 4h0m4 3h0m-3 4h0m-18 6h0m6-1h0m7 3h0m-33 24h0m4 4h0m101 47h0m-2 14h0"/><path stroke="#8bc538" d="M0 0m177 20h0m3 5h0m-21 11h0m24 1h0m1-2h0m-27 17h0m8 0h0m-5 29h0m-22 21h0m97 74h0m-9 31h0m21 22h0"/><path stroke="#a8ce34" d="M0 0m181 43h0m59 135h0m-6 11h0m-6 9h0m4 3h0m-2 7h0m-3 3h0m18 10h0m2 4h0"/><path stroke="#c6d630" d="M0 0m183 19h0m48 171h0m3 11h0"/><path stroke="#e3de2c" d="M0 0m292 163h0m9 4h0m-69 46h0m1 5h0"/><path stroke="#edd629" d="M0 0m282 129h0m-8 25h0m17 3h0m8 1h0m2 5h0m-66 44h0"/><path stroke="#efc627" d="M0 0m269 112h0m-1 5h0m9-2h0m5 5h0m-4 7h0m-1 11h0m-7 3h0m-3 3h0m14-1h0m7 7h0m-1 3h0m-10 15h0m17 2h0m6 6h0m-60 42h0"/><path stroke="#f0b625" d="M0 0m261 121h0m11 0h0m-4 2h0m4 0h0m3 5h0m12 6h0m0 9h0m-26 7h0m14-1h0m2 6h0m27 0h0m-3 5h0m-12 4h0m7 11h0m4 2h0m5 3h0m-8 5h0"/><path stroke="#f2a622" d="M0 0m279 119h0m-14 9h0m14 0h0m-20 3h0m0 3h0m1 5h0m5 0h0m10 2h0m0 5h0m-6 7h0m17 5h0m-15 3h0m6-2h0m-14 4h0m22 3h0m-35 1h0m15 2h0m6-1h0m19-1h0m2 20h0m-47 26h0"/><path stroke="#f09621" d="M0 0m271 114h0m-10 30h0m-10 12h0m2-2h0m30 3h0m-13 2h0m3-1h0m4 6h0m-9 16h0m21-1h0m7 5h0m7 0h0m-3 5h0m-12 3h0"/><path stroke="#ee8721" d="M0 0m262 143h0m21 5h0m-13 27h0m15 2h0m-25 1h0m27 5h0m-13 11h0m9 4h0m10 2h0m-18 11h0"/><path stroke="#ec7720" d="M0 0m256 141h0m-7 20h0m9 8h0m19 4h0m3 4h0m5-2h0m-22 6h0m17 5h0m3 1h0m-43 7h0m22-4h0m25 6h0m6-2h0m-8 10h0m6 1h0"/><path stroke="#e9681f" d="M0 0m260 155h0m-2 5h0m-5 8h0m5 5h0m17 10h0m8 2h0m-27 7h0m12 2h0m-16 2h0m17 0h0m6 1h0m1 3h0m10 1h0m-21 4h0m4 2h0m9 2h0m2-1h0m-7 6h0"/><path stroke="#df5e1f" d="M0 0m264 177h0m1 10h0m-13 8h0m25 2h0m-24 7h0m2 9h0m12 5h0"/><path stroke="#d5561e" d="M0 0m248 181h0m7 5h0m13 0h0m-6 9h0m-3 9h0m10 0h0m-11 2h0m14 2h0m2 13h0"/><path stroke="#ca4d1e" d="M0 0m260 188h0"/><path stroke="#7487bd" d="M0 0m36 198h0"/><path stroke="#748dc3" d="M0 0m18 188h0"/><path stroke="#7394ca" d="M0 0m25 179h0"/><path stroke="#729bcf" d="M0 0m106 184h0m-4 84h0"/><path stroke="#71a1d2" d="M0 0m115 172h0"/><path stroke="#70a8d4" d="M0 0m16 177h0m3-1h0m12 2h0m7 23h0m49 6h0m9 60h0"/><path stroke="#6faed7" d="M0 0m126 162h0m-91 25h0m9 9h0m-15 14h0m54 1h0m60 30h0m-53 34h0"/><path stroke="#6eb6da" d="M0 0m49 182h0m66 16h0m-80 23h0m17-1h0m77 21h0m7 0h0"/><path stroke="#6dbbdb" d="M0 0m124 178h0m10-3h0m-4 17h0m-73 8h0m-33 22h0m55 0h0m72 20h0"/><path stroke="#6cbdd4" d="M0 0m158 125h0m-6 4h0m-18 21h0m-8 5h0m-94 4h0m9 9h0m100 16h0m-1 17h0m-53 15h0m-4 4h0m44 16h0m26 8h0m-12 6h0m-20 8h0m4 2h0"/><path stroke="#6cc0cc" d="M0 0m153 134h0m-113 5h0m-10 4h0m106 10h0m-84 2h0m-15 5h0m96-1h0m-101 8h0m110 6h0m-86 10h0m6 17h0m-11 11h0m48 6h0m-16 31h0"/><path stroke="#6cc3c5" d="M0 0m176 119h0m-142 5h0m9-1h0m139 12h0m-4 4h0m-141 8h0m110 1h0m-96 10h0m92 3h0m1-1h0m-6 8h0m-75 8h0m86 18h0m3 7h0m-1 3h0m-85 2h0m22 19h0m7-2h0m15 2h0m57-2h0m-121 4h0m27 5h0m28 9h0m16-2h0m-24 7h0m28 3h0m38 3h0m1-1h0m12 12h0m-52 8h0"/><path stroke="#6cc5bd" d="M0 0m176 104h0m-140 11h0m136 1h0m-123 13h0m12 4h0m-38 9h0m142 3h0m-115 3h0m126 5h0m-103 4h0m75 7h0m2 25h0m10 18h0m-45 28h0m39 21h0m-10 8h0m-15 11h0m30 3h0m-35 4h0m-23 4h0"/><path stroke="#6dc6b6" d="M0 0m203 98h0m-145 6h0m-21 6h0m159 0h0m-4 5h0m-121 5h0m141 0h0m-19 9h0m-6 5h0m-134 2h0m112 0h0m-101 5h0m127 8h0m6 15h0m-122 3h0m99-1h0m-96 12h0m87 20h0m8 26h0m-68 2h0m3 3h0m-3 24h0m71 2h0m-12 8h0m-38 5h0m37 2h0m6-3h0m-16 6h0m49 6h0m-71 9h0m-8 6h0m22 5h0m32 10h0"/><path stroke="#6fc7ae" d="M0 0m70 67h0m-1 15h0m4 20h0m134 0h0m-127 7h0m10 2h0m111 1h0m6 1h0m8 4h0m-158 2h0m-24 10h0m20 1h0m24-1h0m9 1h0m119 1h0m-120 10h0m15-2h0m83 0h0m-103 5h0m74 2h0m-72 7h0m16 0h0m83 0h0m-108 29h0m13-1h0m95 1h0m4 4h0m-105 6h0m95-1h0m-76 38h0m63 3h0m-56 7h0m8 43h0m26 0h0m31 10h0m-7 9h0m-30 3h0m23-2h0"/><path stroke="#72c7a7" d="M0 0m199 74h0m7-3h0m20 7h0m-144 4h0m3 0h0m-4 6h0m121 0h0m-125 5h0m72-3h0m-82 5h0m32 3h0m138 3h0m-187 8h0m26-1h0m-7 2h0m142 5h0m-120 9h0m7 1h0m-17 5h0m115-3h0m27 2h0m13 0h0m-136 2h0m-16 3h0m-18 4h0m5 6h0m33 9h0m91-1h0m-10 7h0m-104 7h0m122 1h0m-133 12h0m6 9h0m87 1h0m20-2h0m-2 4h0m-23 5h0m27 27h0m-81 20h0m82 9h0m35 2h0m-49 14h0m10-1h0m6 15h0m7 3h0m-17 2h0m3 3h0m-25 3h0m7-1h0m-25 2h0"/><path stroke="#74c79f" d="M0 0m96 55h0m-13 10h0m-5 2h0m109 21h0m9 8h0m-80 6h0m78-4h0m-78 6h0m90 2h0m5 0h0m-141 10h0m8 19h0m135 2h0m-141 4h0m149 0h0m1 5h0m-116 2h0m95 1h0m-24 17h0m-103 5h0m100 6h0m32 4h0m-35 4h0m26 20h0m-12 2h0m-86 26h0m97-1h0m35 13h0m-41 4h0m8 0h0m14 10h0m-18 4h0m-2 8h0m-12 6h0m2 1h0m7 13h0m5 0h0m-36 15h0"/><path stroke="#76c897" d="M0 0m92 61h0m-12 6h0m2 11h0m149 4h0m-94 0h0m79 3h0m5 3h0m4 5h0m-11 1h0m-123 11h0m40 5h0m111-1h0m-33 3h0m-108 4h0m-27 10h0m150 14h0m-3 9h0m-132 4h0m94 9h0m32 8h0m5-1h0m17-3h0m-46 5h0m27 29h0m-10 34h0m31 7h0m-41 2h0m8-1h0m5 2h0m23 9h0m-27 2h0m1 20h0m-15 5h0m13-1h0m13-1h0m-25 9h0m14 1h0"/><path stroke="#7dc992" d="M0 0m167 24h0m-47 9h0m-26 15h0m18 1h0m9 4h0m31 1h0m-50 7h0m22 0h0m55-2h0m-7 6h0m43 14h0m-51 7h0m-71 5h0m18 2h0m10 1h0m32 2h0m-15 20h0m102 8h0m-124 3h0m126 3h0m-35 12h0m29 1h0m-1 17h0m-17 13h0m-15 5h0m24-1h0m-8 4h0m1 17h0m5 5h0m-10 17h0m7 0h0m-19 6h0m7 25h0m12-1h0m3 10h0m-26 29h0"/><path stroke="#89ce8f" d="M0 0m147 22h0m39 44h0m-16 2h0m-35 17h0m32 1h0m-24 10h0m7 1h0m-24 4h0m106 16h0m-96 3h0m96 44h0m-8 3h0m-12 3h0m17 3h0m-6 7h0m-10 39h0m28 13h0m-7 3h0m-5 23h0"/><path stroke="#96d28c" d="M0 0m181 28h0m-13 33h0m-5 7h0m-14 12h0m17 3h0m-18 4h0m-8 23h0m-4 6h0m91 46h0m-2 19h0m-16 40h0m27 18h0m7-1h0"/><path stroke="#a2d58a" d="M0 0m177 33h0m14 0h0m-19 47h0m-42 14h0m101 86h0m-1 35h0"/><path stroke="#b1da88" d="M0 0m174 17h0m11 23h0m-25 36h0m2 6h0m-21 14h0m93 125h0"/><path stroke="#cbdc5b" d="M0 0m240 225h0"/><path stroke="#dde059" d="M0 0m236 225h0"/><path stroke="#f4e055" d="M0 0m277 134h0m-38 88h0"/><path stroke="#f5d753" d="M0 0m269 119h0m-2 15h0m5 2h0m35 33h0m-71 23h0"/><path stroke="#f6cd52" d="M0 0m281 161h0m29 12h0m-76 40h0"/><path stroke="#f7c450" d="M0 0m266 114h0m-10 22h0m28 3h0m-15 10h0m10-1h0m-14 5h0m18 1h0m13 11h0m-40 9h0m35-2h0m-4 2h0m5 5h0m-31 42h0"/><path stroke="#f6ba50" d="M0 0m255 127h0m42 63h0m7 1h0"/><path stroke="#f5b150" d="M0 0m239 211h0"/><path stroke="#f4a74f" d="M0 0m272 174h0m19 21h0"/><path stroke="#f29e4f" d="M0 0m255 160h0m33 29h0m-18 21h0m13 3h0"/><path stroke="#ec984f" d="M0 0m258 182h0m20 0h0m-21 10h0m-3 15h0m25 7h0m-9 7h0"/><path stroke="#e6944e" d="M0 0m275 201h0m-17 10h0m6 2h0"/></g>
<g transform="translate(167.7,214.0) scale(0.25)" fill="none" stroke-width="6.8" stroke-linecap="round"><path stroke="#253b91" d="M0 0m200 76h0m21 23h0"/><path stroke="#24459b" d="M0 0m206 81h0m11 1h0m-5 3h0m-2 9h0m22 0h0m-5 5h0m-48 11h0m16 6h0m5 0h0"/><path stroke="#2350a6" d="M0 0m209 75h0m2 2h0m16 4h0m-41 2h0m8 2h0m4 0h0m2-1h0m30 2h0m-42 4h0m14-1h0m4-2h0m10 3h0m-25 0h0m29 1h0m-35 6h0m34-2h0m-29 4h0m35-1h0m-4 9h0m-13 4h0"/><path stroke="#225baf" d="M0 0m220 82h0m-43 7h0m33 0h0m-29 2h0m17 1h0m10 1h0m28 0h0m-31 5h0m29-1h0m10 0h0m-56 4h0m21 0h0m21 1h0m-50 1h0m45 1h0m-37 5h0m7-2h0m6 1h0m18 1h0m13 2h0m-38 8h0m36 5h0"/><path stroke="#2066b4" d="M0 0m190 80h0m51 5h0m-11 5h0m-48 11h0m-10 4h0m2-3h0m19 2h0m45-2h0m-48 8h0m49-3h0m-67 4h0m9 1h0m35 0h0m7 1h0m1-1h0m-40 4h0m4-2h0m39 1h0m8 1h0m-52 5h0m15-1h0m10 0h0m28 1h0m-24 4h0m-7 2h0m-95 62h0"/><path stroke="#1e71b8" d="M0 0m198 82h0m38-1h0m-55 7h0m43-1h0m16 9h0m10 1h0m-86 8h0m70 3h0m-78 3h0m11 4h0m-13 3h0m20 4h0m15-1h0m29-1h0m3 0h0m18-1h0m-84 4h0m28 2h0m5 1h0m26-3h0m-15 5h0m-55 2h0m57 0h0m-58 4h0m23 0h0m74 1h0m-81 11h0m-33 14h0m3 9h0m-9 4h0m2 3h0m4-1h0m2 2h0m1 5h0m-25 7h0m3 5h0"/><path stroke="#1c7cbd" d="M0 0m177 97h0m6 1h0m-15 6h0m82 2h0m-16 1h0m12 3h0m-87 7h0m89 0h0m-82 1h0m79 0h0m-82 5h0m14 1h0m48 0h0m-77 5h0m17-1h0m8 0h0m12 1h0m19-3h0m15 3h0m32-3h0m-55 7h0m9 0h0m42 1h0m-58 4h0m-49 3h0m8-2h0m7 2h0m46-2h0m-56 6h0m-5 2h0m18 2h0m29 1h0m-77 28h0m3-2h0m5 5h0m-1 2h0m-25 11h0m13 4h0m-27 33h0m2 2h0"/><path stroke="#1a88c2" d="M0 0m245 105h0m-61 3h0m68 0h0m-98 6h0m9 0h0m84 0h0m-90 6h0m74 0h0m-81 5h0m14-3h0m5 1h0m53 1h0m12 3h0m10-1h0m-94 8h0m26-3h0m27 3h0m10-3h0m5-1h0m3 3h0m29-3h0m-114 5h0m24 1h0m13-1h0m18 0h0m-57 7h0m34 1h0m11 0h0m-48 4h0m30 0h0m11 2h0m10-1h0m-43 6h0m-1 2h0m10 1h0m-35 4h0m51 4h0m-55 1h0m11 4h0m6-2h0m-22 9h0m-3 7h0m25 0h0m-29 4h0m6 2h0m21-3h0m141 0h0m-169 5h0m16 0h0m26-1h0m-41 7h0m12-1h0m-10 6h0m-1 5h0m11 0h0m-10 14h0m-27 12h0m6 0h0m2 4h0m8-2h0"/><path stroke="#1991c3" d="M0 0m232 106h0m7 10h0m-111 14h0m48 4h0m12-4h0m23 4h0m5 0h0m15-4h0m-92 5h0m4 3h0m75 0h0m13-4h0m6 4h0m-100 3h0m28-1h0m3-1h0m23 2h0m6-1h0m34-1h0m8 2h0m-109 2h0m10 3h0m45-1h0m8-1h0m20-2h0m-88 8h0m19-1h0m24 0h0m8-1h0m29 2h0m25-3h0m-101 5h0m24 2h0m0-3h0m11 3h0m7 0h0m-27 1h0m6-1h0m7 2h0m27 0h0m16-2h0m-44 5h0m37 2h0m-45 6h0m14 2h0m-8 4h0m-19 4h0m14-3h0m-10 6h0m-40 6h0m17 2h0m7 2h0m10-2h0m-16 4h0m2 0h0m-19 3h0m11 8h0m5 1h0m-17 4h0m13 2h0m-30 4h0m17 12h0m-24 13h0m10 0h0m7 1h0m-19 6h0m12-2h0"/><path stroke="#1895b7" d="M0 0m173 125h0m-7 4h0m-6 2h0m64 5h0m10-1h0m-77 6h0m14-3h0m35 1h0m-25 7h0m23-1h0m11 0h0m-48 9h0m21-2h0m-66 5h0m39 0h0m46 0h0m32 1h0m-108 2h0m59-2h0m-69 5h0m11 0h0m3 1h0m40-2h0m5 1h0m-65 6h0m55-1h0m-63 3h0m22 1h0m30 1h0m22 1h0m-69 1h0m-1 7h0m34 3h0m23-2h0m-47 4h0m9 2h0m-9 7h0m3-1h0m-27 6h0m35-1h0m-17 10h0m3-3h0m-28 6h0m2 9h0m1 2h0m1 2h0m-11 1h0m7 2h0m-10 3h0m4 1h0m13 0h0m7 1h0m-12 3h0m-9 8h0"/><path stroke="#189aaa" d="M0 0m147 146h0m90 1h0m2-1h0m-33 6h0m4 1h0m17-3h0m-67 5h0m33 0h0m7 2h0m33-2h0m-63 4h0m16 2h0m11-3h0m24 2h0m-86 9h0m23 0h0m29-2h0m12 0h0m-37 4h0m6 0h0m30 2h0m10 0h0m-42 5h0m104-3h0m-116 7h0m23-1h0m91-1h0m-135 4h0m29-2h0m113 1h0m-15 5h0m-127 5h0m22-1h0m101 0h0m-125 3h0m2 1h0m9 1h0m-53 6h0m28 1h0m2-1h0m6-1h0m8 1h0m-43 3h0m0 8h0m28-3h0m-29 12h0m7 7h0m2 10h0m-3 5h0m-9 3h0"/><path stroke="#189e9e" d="M0 0m228 146h0m4-3h0m-20 5h0m3 1h0m25 1h0m-41 0h0m33 2h0m-18 3h0m3 2h0m2-2h0m10 3h0m-58 0h0m6 2h0m24 2h0m-61 2h0m15-1h0m13 1h0m44-1h0m-69 3h0m47 3h0m17-1h0m-69 4h0m48 0h0m-39 5h0m48-1h0m7-2h0m78 3h0m-132 4h0m7-1h0m3-2h0m0 3h0m21-3h0m3 0h0m26 2h0m52-2h0m-116 6h0m14 2h0m35-2h0m75 2h0m-130 2h0m17 1h0m125-3h0m-136 7h0m-4 4h0m-54 3h0m60 5h0m-63 3h0m53-1h0m-32 9h0m0 6h0m-29 5h0m40 2h0m-39 22h0m3 4h0"/><path stroke="#17a291" d="M0 0m241 154h0m-28 3h0m13 0h0m45 4h0m-32 7h0m-76 8h0m22 1h0m12 8h0m1-1h0m4 3h0m-36 4h0m19 2h0m30-2h0m8 1h0m39-2h0m6 4h0m-6 1h0m7 1h0m-140 8h0m-4 4h0m155 0h0m-183 4h0m61 0h0m-60 5h0m30-1h0m5-2h0m4 1h0m23 0h0m-41 5h0m8 0h0m-19 10h0m109-2h0m-108 6h0m-9 12h0m-31 4h0m13 3h0"/><path stroke="#19a485" d="M0 0m224 153h0m-6 11h0m3-2h0m56 2h0m-27 3h0m15 2h0m-87 3h0m42 1h0m4-1h0m53 1h0m-67 4h0m8-2h0m46 2h0m21-2h0m-111 7h0m29-1h0m60 0h0m-75 4h0m30-2h0m6 2h0m-20 4h0m-44 2h0m4 2h0m27-1h0m21 1h0m28 1h0m12 2h0m22-2h0m-116 8h0m27 0h0m20-1h0m15-1h0m-76 3h0m10 1h0m137 1h0m-162 5h0m10-3h0m45 0h0m74-1h0m-112 7h0m8-3h0m32 3h0m6-2h0m40 2h0m-109 5h0m19-1h0m22-2h0m6 0h0m14 2h0m56 1h0m-117 9h0m10 0h0m35 1h0m-40 3h0m6 5h0m-41 17h0m18-2h0m-25 5h0m2 1h0m-6 7h0"/><path stroke="#1da578" d="M0 0m291 157h0m10 3h0m-66 5h0m54-1h0m-59 3h0m47 1h0m-64 5h0m20 0h0m-2 3h0m4 0h0m50 1h0m20 3h0m-92 2h0m42 4h0m28-1h0m-91 1h0m29 2h0m13 1h0m49-2h0m17 2h0m-121 1h0m16 2h0m26-1h0m67 1h0m-136 3h0m21 0h0m11 2h0m17 1h0m27 0h0m24-3h0m23 2h0m-110 5h0m2-4h0m19 0h0m4 3h0m44 0h0m52 0h0m-125 5h0m41-1h0m57-1h0m26 0h0m-118 5h0m1-1h0m49-2h0m13 2h0m39-1h0m9 2h0m-154 3h0m40-1h0m14 2h0m95 1h0m-154 1h0m30 0h0m40 1h0m1-1h0m6 0h0m18-1h0m-57 6h0m-8 6h0m6 0h0m26-3h0m50 1h0m-78 6h0m-33 10h0m17 0h0m-35 8h0m7 5h0m-12 3h0m4 1h0"/><path stroke="#21a56c" d="M0 0m270 141h0m5 0h0m0 8h0m-24 7h0m26-1h0m22 3h0m-29 1h0m7 0h0m15 4h0m-34 6h0m13-1h0m30-1h0m-43 6h0m38 2h0m-56 3h0m8 3h0m-36 5h0m84-2h0m1 1h0m-95 7h0m6-1h0m23-1h0m-81 8h0m47-3h0m12 0h0m5 2h0m13-2h0m50 2h0m6 1h0m-71 2h0m20 1h0m61-1h0m-126 2h0m7 0h0m5 2h0m4-1h0m14-1h0m56 2h0m16 0h0m-90 2h0m28 1h0m13 1h0m15-1h0m-101 3h0m47 2h0m15-1h0m7 2h0m42 0h0m10 0h0m-103 3h0m25 2h0m44-1h0m6 1h0m6 0h0m34 0h0m-131 4h0m38-2h0m29 0h0m26 1h0m-98 2h0m7 3h0m50-2h0m2 1h0m32 0h0m-96 4h0m33 0h0m19 1h0m52-1h0m-90 1h0m10 1h0m88 3h0m-89 5h0m-7 4h0m5 0h0m-49 7h0m7 1h0m10 2h0m1-3h0m-13 4h0m4 5h0"/><path stroke="#24a55f" d="M0 0m279 128h0m-23 13h0m5 3h0m6 0h0m-6 6h0m14-4h0m13 4h0m-35 4h0m7 1h0m26 3h0m18-3h0m-55 6h0m14 2h0m22 3h0m16-3h0m-7 7h0m-7 13h0m5 4h0m-86 10h0m81-1h0m6-2h0m-101 5h0m84 1h0m-11 5h0m-92 2h0m21 1h0m32-1h0m46 1h0m-123 2h0m25 3h0m31 0h0m11 0h0m6-2h0m5 0h0m48 0h0m-71 5h0m-63 6h0m13-1h0m24 0h0m19 0h0m30 1h0m18-1h0m-100 1h0m5 0h0m10 4h0m3-1h0m61 0h0m23 0h0m-110 3h0m8 2h0m26-1h0m5-3h0m6 3h0m14-2h0m6 3h0m45-1h0m-120 6h0m10 2h0m11 0h0m4-1h0m21-2h0m9 1h0m-15 4h0m-54 5h0m126 0h0m5-1h0m-130 3h0m41 2h0m-20 4h0m2 2h0m-23 4h0m-25 2h0m23 1h0m18-2h0m111 0h0m-155 5h0m141 2h0"/><path stroke="#28a652" d="M0 0m271 114h0m8 5h0m-2 19h0m-15 5h0m19 0h0m6 0h0m-4 5h0m-14 5h0m18 0h0m-4 4h0m-25 3h0m15-2h0m-20 10h0m37-1h0m10 9h0m0 1h0m3 7h0m-100 19h0m-2 11h0m-9 7h0m82 0h0m-131 4h0m40 1h0m27 4h0m14-1h0m12 0h0m-69 2h0m40 1h0m10 2h0m7 0h0m-79 3h0m12 0h0m19 0h0m22-1h0m13-1h0m-51 5h0m4 0h0m24 1h0m5-2h0m4 2h0m6-1h0m13-1h0m15 1h0m-103 3h0m12 0h0m17 0h0m4 2h0m5 0h0m36 0h0m4 0h0m2 3h0m24 0h0m2 0h0m-104 3h0m97 2h0m12 3h0m-103 5h0m79-1h0m-102 2h0m133 2h0m-121 8h0m-31 3h0"/><path stroke="#34a94a" d="M0 0m269 112h0m-1 5h0m4 4h0m3 7h0m3-1h0m9 7h0m-27 5h0m14 15h0m15 25h0m-78 47h0m-20 4h0m28 0h0m-26 6h0m9 0h0m30-2h0m-54 6h0m4-2h0m44 3h0m-51 3h0m8-1h0m6 0h0m3 1h0m-45 4h0m87-1h0m-90 3h0m23 0h0m-37 5h0m13 3h0m1-4h0m71 1h0m-75 5h0m9 0h0m4-1h0m66 3h0m-126 3h0m1-1h0m17-2h0m7 3h0m16 1h0m7-2h0m93 0h0m-127 3h0m34 3h0m-32 0h0m111 3h0m8 1h0m1-1h0m-137 5h0m10 2h0m11 12h0m-3 5h0m6 2h0m24 9h0m35 2h0"/><path stroke="#48b045" d="M0 0m277 115h0m5 5h0m-14 3h0m4 0h0m10 6h0m-23 5h0m6 5h0m-57 88h0m-20 9h0m-12 10h0m-15 4h0m28 0h0m13-2h0m-26 3h0m20 3h0m34-2h0m9-2h0m-36 5h0m7-1h0m-112 4h0m109 0h0m27 2h0m-111 5h0m44 1h0m-76 2h0m25 1h0m12 0h0m8-2h0m17 3h0m-44 2h0m13 0h0m94-2h0m-95 6h0m3 2h0m-9 2h0m100 5h0m-92 3h0m-8 2h0m8 6h0m6 6h0"/><path stroke="#5db740" d="M0 0m261 121h0m4 7h0m-6 3h0m-38 104h0m-1 6h0m-9 1h0m8 3h0m6 0h0m-50 4h0m9 0h0m31 0h0m-52 5h0m11-1h0m18 3h0m-18 2h0m49 3h0m-118 4h0m25 1h0m20 0h0m6-1h0m45 1h0m14-3h0m15 3h0m-142 3h0m55-2h0m4 2h0m90 1h0m-123 2h0m19 0h0m8 2h0m85-4h0m-78 5h0m-30 6h0m-16 4h0m27-1h0m28-2h0m64 2h0m-117 4h0m5-2h0m31 3h0m32 0h0m-53 1h0m36 2h0m-37 3h0m15-1h0m73 1h0m1-1h0m4 3h0m-89 1h0m2 3h0m45-3h0m18 3h0m-8 3h0m4 1h0m9-2h0m-50 3h0m-7 4h0m4 3h0"/><path stroke="#71bd3c" d="M0 0m216 243h0m-49 10h0m-17 2h0m45 2h0m-37 4h0m5-3h0m15 1h0m-24 4h0m59-1h0m-111 4h0m57 2h0m54 1h0m19-1h0m-71 5h0m18 0h0m4 0h0m52 1h0m-131 3h0m1-3h0m4 3h0m46 0h0m56-2h0m7 0h0m-80 4h0m9 1h0m31 1h0m8-1h0m-91 5h0m10-2h0m6 2h0m36 0h0m6 1h0m13 4h0m50-1h0m-85 5h0m11-3h0m5 0h0m22 1h0m46 1h0m-84 4h0m57 0h0m9-1h0m-56 4h0m2 1h0m7-3h0m4 3h0m17-2h0m3 1h0m7 1h0m0-3h0m-27 10h0m18-2h0m-21 5h0m9 0h0"/><path stroke="#8bc538" d="M0 0m169 259h0m19 1h0m12 0h0m-17 2h0m23 3h0m-19 3h0m-85 4h0m91 0h0m26-1h0m-87 6h0m85 0h0m-73 2h0m18 1h0m38 2h0m10-3h0m-64 4h0m9 0h0m18 2h0m35 0h0m-63 1h0m4 4h0m11-1h0m3 8h0m-24 2h0m17-1h0m13 2h0m-5 5h0m-15 2h0m18 5h0"/><path stroke="#a8ce34" d="M0 0m181 260h0m5 3h0m-8 3h0m21 3h0m4-2h0m-33 6h0m8-2h0m8 1h0m15 2h0m-65 3h0m8-2h0m24 2h0m5 0h0m23-3h0m-31 7h0m4 0h0m-34 4h0m46-2h0m-45 5h0m28 1h0m25-3h0m13 3h0m-25 3h0m4 1h0m21-1h0m-66 4h0m21 2h0m36 1h0"/><path stroke="#c6d630" d="M0 0m159 273h0m39 6h0m-6 6h0m-16 14h0"/><path stroke="#e3de2c" d="M0 0m173 274h0m39 7h0"/><path stroke="#f2a622" d="M0 0m177 20h0m1 5h0m-14 13h0m-34 15h0m62 3h0m-37 27h0m-73 14h0"/><path stroke="#f09621" d="M0 0m171 24h0m-3 3h0m16 8h0m-56 6h0m62 1h0m-71 1h0m54 4h0m-39 4h0m23 1h0m-74 5h0m113-1h0m-59 3h0m25 2h0m-22 1h0m-20 6h0m34 0h0m27 0h0m-68 6h0m39 18h0m-21 13h0m-32 2h0m-17 34h0m5 20h0m-62 3h0m43 19h0m11 9h0m-27 9h0m11 5h0m14 9h0"/><path stroke="#ee8721" d="M0 0m159 18h0m-5 3h0m29-2h0m-3 6h0m-35 3h0m12 0h0m-44 4h0m40-2h0m5 3h0m9-1h0m21-2h0m-37 7h0m8-1h0m4-1h0m20 2h0m10 0h0m-19 1h0m-66 9h0m42 4h0m43 2h0m2 0h0m-83 5h0m19-2h0m55-1h0m-2 3h0m-40 5h0m29 1h0m-14 2h0m-54 6h0m40 2h0m24-2h0m-101 4h0m69 2h0m25-2h0m-108 5h0m91-1h0m-44 3h0m0 3h0m-41 1h0m52 1h0m13 5h0m20-3h0m-51 7h0m14 0h0m-63 4h0m13-1h0m91-1h0m-80 6h0m67-2h0m-88 4h0m34 0h0m67 0h0m-49 5h0m10 0h0m33 0h0m-100 3h0m9-1h0m60 6h0m18 1h0m-91 2h0m9 3h0m61-1h0m-80 7h0m33-2h0m50 1h0m-13 4h0m-69 5h0m79 1h0m-42 3h0m45 0h0m-58 4h0m33 4h0m-57 3h0m-12 7h0m2-2h0m38 6h0m11 4h0m23 3h0m-37 13h0m12 1h0m-35 6h0m43 2h0m-49 4h0m35-1h0m-15 17h0m-1 5h0"/><path stroke="#ec7720" d="M0 0m148 15h0m-15 4h0m0 8h0m-9 4h0m1 3h0m13-3h0m8 1h0m-50 10h0m-7 3h0m92-2h0m8 0h0m-76 4h0m28 2h0m16-1h0m37 2h0m-122 2h0m19-1h0m11 2h0m63-1h0m-85 3h0m18 0h0m-11 7h0m20-2h0m9-2h0m60 3h0m6-1h0m-85 4h0m52 2h0m-57 2h0m7 0h0m11 1h0m-43 1h0m23 4h0m32-2h0m1-1h0m26-1h0m3 3h0m22-2h0m2 0h0m-91 5h0m21 2h0m28-4h0m9 1h0m30 1h0m-67 4h0m14 1h0m4-3h0m0 4h0m36-1h0m9-2h0m-57 3h0m4 2h0m8 1h0m14 0h0m15 0h0m-59 2h0m12-1h0m24 4h0m-58 4h0m15-2h0m14-1h0m4 1h0m35 0h0m19 1h0m-33 3h0m10 1h0m-46 2h0m40 0h0m23 1h0m-111 5h0m63 1h0m41-2h0m-71 5h0m35-2h0m30 0h0m-107 5h0m28 1h0m1-1h0m44 0h0m-49 5h0m10-2h0m12 1h0m4 0h0m42-2h0m-87 5h0m15 2h0m8-2h0m25 0h0m21 3h0m8-1h0m-63 2h0m8 1h0m18 1h0m2 0h0m6-1h0m42-1h0m-62 3h0m55 4h0m-84 0h0m13 2h0m22-1h0m19 2h0m4-2h0m-69 4h0m4 1h0m36 1h0m-32 2h0m59 0h0m-56 4h0m62 2h0m-25 2h0m3 1h0m3 1h0m14-3h0m-58 6h0m14 4h0m6 0h0m21 3h0m-14 6h0m19 0h0m-54 2h0m10 1h0m9 4h0m10 0h0m-9 5h0m3-1h0m4-1h0m14 2h0m-47 12h0m6 0h0m20 0h0m12-2h0m-23 7h0m26-1h0m7 0h0m-47 3h0m12 1h0m0 6h0m10 0h0m-10 3h0m-12 6h0m12-1h0m8 0h0m5 0h0m-26 4h0m10 3h0m12-1h0m17 5h0m-22 3h0"/><path stroke="#e9681f" d="M0 0m105 34h0m-2 8h0m74 5h0m-91 5h0m39 1h0m-34 4h0m8 1h0m16-3h0m9 2h0m58-2h0m-112 7h0m115-3h0m-108 3h0m29 2h0m4 0h0m24-2h0m-48 5h0m21 1h0m6 0h0m21 0h0m4-2h0m8 0h0m31 1h0m-99 6h0m7-2h0m12 1h0m3 1h0m39-2h0m-65 5h0m5 0h0m13 2h0m11-2h0m44 1h0m9 0h0m-81 3h0m14 1h0m45 1h0m6-4h0m-72 7h0m18-1h0m12-1h0m33 0h0m-80 4h0m41 0h0m23 2h0m4-2h0m9 1h0m14 0h0m-91 5h0m5-2h0m42 0h0m21 0h0m-42 5h0m11 1h0m5-2h0m24-1h0m-61 4h0m6 3h0m4-1h0m15-1h0m18 2h0m39 1h0m6-2h0m-47 4h0m23-1h0m1 2h0m4 1h0m-73 1h0m18-1h0m17 1h0m1 3h0m48-2h0m-90 6h0m5-4h0m37 4h0m34 0h0m1-3h0m-30 5h0m5 1h0m3 1h0m8-3h0m8 0h0m13 1h0m-89 6h0m8-2h0m31 0h0m11 1h0m31-1h0m2 0h0m-20 3h0m14 2h0m-93 4h0m82-1h0m9 0h0m-58 6h0m8-3h0m31 1h0m19 0h0m-81 4h0m9-2h0m61 1h0m6-1h0m7 2h0m-93 3h0m18-1h0m8 0h0m-9 4h0m6 2h0m29 0h0m27 1h0m-82 4h0m64 1h0m3-1h0m-67 5h0m35-3h0m10 0h0m-47 3h0m43 1h0m24 2h0m7 1h0m8-1h0m-76 2h0m3 0h0m16 0h0m19-1h0m32 3h0m-61 3h0m4-2h0m16 3h0m17-1h0m28-1h0m-46 6h0m19-2h0m19 2h0m-66 4h0m18 0h0m17-1h0m16-1h0m8 2h0m1-3h0m-5 7h0m-43 2h0m6 3h0m41-4h0m-67 4h0m60 1h0m2 0h0m-55 10h0m2-3h0m26 1h0m5 0h0m8-1h0m-18 6h0m-27 3h0m22 6h0m4 0h0m-8 4h0m15-2h0m4 1h0m1 4h0m4 2h0m4-4h0m-48 6h0m8 2h0m21 2h0m-14 4h0m8 3h0m5 2h0m-16 1h0m6 0h0"/><path stroke="#df5e1f" d="M0 0m153 60h0m-56 7h0m26 2h0m-14 4h0m55 0h0m-34 5h0m-67 4h0m12 3h0m-4 3h0m85-1h0m-95 4h0m5 0h0m68 0h0m-72 6h0m44-2h0m-57 6h0m30-2h0m31 0h0m-13 4h0m-2 5h0m39 2h0m-76 1h0m15 1h0m42-2h0m6 0h0m-86 8h0m70-4h0m-10 6h0m7 3h0m-58 5h0m80 2h0m-43 5h0m-5 5h0m38 1h0m-56 3h0m32 1h0m-47 4h0m52-1h0m-51 4h0m30 0h0m27-1h0m-2 5h0m-22 5h0m5-3h0m-54 5h0m29-1h0m9 0h0m24 1h0m-42 7h0m-29 0h0m9 3h0m4-2h0m7 3h0m28-2h0m14 2h0m-43 7h0m26-1h0m-37 4h0m8-1h0m1 3h0m18-3h0m7 2h0m-18 3h0m28 1h0m-22 1h0m3 7h0m5-1h0m-39 5h0m55 1h0m-35 3h0m-1 10h0m14 0h0m5 4h0m-3 6h0m-21 4h0m9 1h0m9 4h0m3-3h0"/><path stroke="#d5561e" d="M0 0m102 39h0m-16 18h0m29 28h0m-60 17h0m-17 15h0m20 13h0m33 1h0m-41 7h0m6 1h0m49 2h0m-71 5h0m19 0h0m-15 7h0m40-1h0m-20 3h0m34 2h0m-50 6h0m-22 11h0m39 6h0m21 7h0m-36 4h0m28 4h0m-5 3h0m-30 21h0"/><path stroke="#ca4d1e" d="M0 0m71 84h0m36 18h0m-22 41h0m-53 6h0m35 1h0m-48 42h0m9 5h0m22 3h0m-22 8h0m34 2h0"/><path stroke="#7481b6" d="M0 0m225 93h0"/><path stroke="#748dc3" d="M0 0m199 74h0m16 5h0m6 9h0m-15 18h0m-10 4h0"/><path stroke="#7394ca" d="M0 0m206 71h0m-19 17h0m20 14h0m4 4h0m-10 6h0m6 1h0"/><path stroke="#729bcf" d="M0 0m226 78h0m5 4h0m-35 14h0m18-2h0m-38 10h0m33 8h0m-17 3h0"/><path stroke="#71a1d2" d="M0 0m216 85h0m-13 13h0m-9 0h0m17 17h0m-35 4h0m17 10h0m-40 5h0"/><path stroke="#70a8d4" d="M0 0m202 88h0m35 13h0m5 8h0m-27 8h0m-3 3h0m-25 14h0m-9 5h0m-72 45h0"/><path stroke="#6faed7" d="M0 0m172 116h0m-14 9h0m-6 4h0m44-2h0m40 2h0m-54 6h0m13 17h0"/><path stroke="#6eb6da" d="M0 0m232 117h0m-49 22h0m-29 7h0m-21 13h0m-9 19h0m-29 45h0"/><path stroke="#6dbbdb" d="M0 0m240 124h0m-17 5h0m19 1h0m-77 6h0m0 9h0m57 1h0m-86 7h0m-10 2h0m0 7h0m59-3h0m-43 14h0m-8 2h0m7 9h0m-26 14h0m-42 34h0m10 16h0"/><path stroke="#6cbdd4" d="M0 0m207 142h0m29 1h0m-89 5h0m44 1h0m10 0h0m-67 1h0m10 10h0m53 4h0m-20 2h0m26 1h0m-54 27h0m-62 22h0m18 10h0m-6 7h0m2 8h0m-8 5h0"/><path stroke="#6cc0cc" d="M0 0m205 131h0m16 10h0m3-1h0m-3 9h0m-38 13h0m-35 2h0m-33 8h0m157 2h0m-98 3h0m7 5h0m25-1h0m-35 4h0m87-3h0m-108 7h0m-20 3h0m28 4h0m-59 21h0m-16 3h0m-4 2h0m9 3h0m11 4h0"/><path stroke="#6cc3c5" d="M0 0m213 137h0m-37 16h0m5 0h0m-43 15h0m36-2h0m44 7h0m60 9h0m-115 7h0m94 3h0"/><path stroke="#6cc5bd" d="M0 0m143 161h0m84 1h0m5 2h0m-12 5h0m4-2h0m-33 4h0m21-1h0m17 3h0m-64 25h0m-25 3h0m-57 10h0m178 10h0m-153 8h0m-4 14h0"/><path stroke="#6dc6b6" d="M0 0m235 160h0m-20 10h0m41 4h0m-53 4h0m16 3h0m4-1h0m-38 6h0m-2 1h0m-8 4h0m6 0h0m110 4h0m-71 3h0m55 3h0m-188 6h0m73 0h0m-50 18h0m52 7h0"/><path stroke="#6fc7ae" d="M0 0m307 169h0m-20 5h0m-62 7h0m6-1h0m57 9h0m9 1h0m-145 11h0m-1 3h0m83 9h0m49 0h0m-116 10h0m-52 12h0m2 4h0"/><path stroke="#72c7a7" d="M0 0m284 139h0m-47 27h0m-10 11h0m-30 28h0m28-2h0m-40 4h0m69 0h0m16 3h0m-31 1h0m19 0h0m-28 4h0m49-1h0m-70 7h0m4-2h0m2 1h0m55 1h0m-164 18h0m23 2h0m14 0h0"/><path stroke="#74c79f" d="M0 0m269 149h0m-4 4h0m-10 7h0m26 1h0m15 4h0m-5 7h0m-55 20h0m28 21h0m-42 7h0m17 2h0m-66 2h0m12-1h0m18 3h0m37-1h0m-44 7h0m-69 4h0m107-1h0m5 6h0m-134 12h0m20 7h0"/><path stroke="#76c897" d="M0 0m255 127h0m22 7h0m-21 2h0m23 12h0m25 43h0m-86 9h0m16 21h0m2 4h0m-28 9h0m33-2h0m-90 10h0m92-4h0m-142 48h0"/><path stroke="#7dc992" d="M0 0m266 114h0m6 22h0m38 37h0m-18 6h0m-156 62h0m100-2h0m-83 5h0m45-1h0m8-1h0m-85 7h0m20 1h0m19 1h0m50 0h0m-89 7h0m108 0h0m-4 2h0m-61 3h0m-68 4h0m-6 8h0"/><path stroke="#89ce8f" d="M0 0m269 119h0m14 35h0m-85 95h0m-39 3h0m75 1h0m-108 15h0m-6 3h0m9 4h0m9 19h0m-4 10h0"/><path stroke="#96d28c" d="M0 0m267 134h0m-36 111h0m-41 4h0m-4 3h0m36-2h0m-68 6h0m53-1h0m14-1h0m-9 5h0m-4 16h0m-94 7h0m74 0h0m31-4h0m-95 4h0m57 8h0m-58 4h0"/><path stroke="#a2d58a" d="M0 0m211 244h0m-39 19h0m-70 5h0m67-1h0m-38 21h0m77 0h0m-45 4h0m31-1h0m-37 11h0m1 4h0"/><path stroke="#b1da88" d="M0 0m176 255h0m18 8h0m-12 4h0m-29 6h0m39-2h0m-33 7h0m23 0h0m11 2h0m13-1h0m-66 3h0m38 5h0m-33 12h0m32 10h0"/><path stroke="#cbdc5b" d="M0 0m144 264h0m19 6h0m9-2h0m30 11h0m-7 6h0m-1 2h0m-38 6h0m15-1h0m18-1h0m-25 10h0"/><path stroke="#dde059" d="M0 0m199 289h0"/><path stroke="#eee556" d="M0 0m180 277h0"/><path stroke="#f7c450" d="M0 0m172 80h0m-35 2h0"/><path stroke="#f6ba50" d="M0 0m174 17h0m17 16h0m-97 15h0m27 5h0m-25 2h0m90 11h0m-23 2h0m-3 8h0m6 7h0m-55 10h0m42 3h0m-63 15h0m-15 56h0m-37 34h0"/><path stroke="#f5b150" d="M0 0m147 22h0m20 2h0m14 4h0m-61 5h0m65 7h0m-93 21h0m-14 6h0m92 1h0m-89 20h0m-4 5h0m22 5h0m27 3h0m-68 3h0m58 0h0m-66 5h0m26-1h0m4 1h0m-46 15h0m19 6h0m0 6h0m-16 11h0m67 6h0m-52 2h0m11 21h0"/><path stroke="#f4a74f" d="M0 0m177 33h0m-65 16h0m40 5h0m-50 7h0m22 0h0m55-2h0m-7 6h0m-102 2h0m79 13h0m-64 2h0m79 4h0m-97 9h0m63-1h0m11 2h0m2 0h0m-70 6h0m67 8h0m-39 6h0m-58 7h0m48 1h0m7 1h0m-49 4h0m15 12h0m8 0h0m-42 2h0m76 5h0m-33 9h0m-41 10h0m-16 10h0m15 1h0m-6 1h0m45 0h0m3 3h0m13-1h0m-42 15h0m8 24h0"/><path stroke="#f29e4f" d="M0 0m83 65h0m-3 2h0m82 15h0m5 4h0m-19 1h0m-55 4h0m56-1h0m-28 4h0m29 3h0m-34 5h0m-25 3h0m-54 5h0m94 0h0m-62 0h0m-33 5h0m100 1h0m-79 3h0m79 1h0m-62 6h0m7 4h0m5 0h0m-25 3h0m39-2h0m-22 4h0m6-1h0m-18 4h0m19 3h0m15-2h0m-29 5h0m9 0h0m-30 4h0m-18 11h0m5 1h0m4 8h0m40-2h0m-62 10h0m30 6h0m29-4h0m-43 9h0m41 1h0m-19 12h0m5 0h0m-38 22h0m11-1h0"/><path stroke="#ec984f" d="M0 0m168 61h0m-33 24h0m-65 31h0m68 0h0m-67 4h0m-38 9h0m44 0h0m39-2h0m-76 12h0m49 14h0m-15 18h0m-18 12h0m-38 5h0m18 10h0m10 29h0"/><path stroke="#e6944e" d="M0 0m82 78h0m0 4h0m-13 0h0m-46 60h0m59 11h0m16 0h0m-47 5h0m29 34h0m-14 14h0m-15 5h0"/><path stroke="#df8e4e" d="M0 0m29 210h0"/></g>
<g transform="translate(287.7,214.0) scale(0.25)" fill="none" stroke-width="6.8" stroke-linecap="round"><path stroke="#253b91" d="M0 0m109 115h0"/><path stroke="#24459b" d="M0 0m140 107h0m-25 14h0"/><path stroke="#2350a6" d="M0 0m136 97h0m-16 6h0m11 2h0m-21 2h0m-4 5h0m9-2h0m-8 12h0m-3 1h0m5 2h0m-18 6h0m6 1h0m-20 29h0"/><path stroke="#225baf" d="M0 0m140 92h0m-35 14h0m16-1h0m15 3h0m13-1h0m-49 5h0m10 0h0m7 3h0m5 5h0m-20 3h0m16 2h0m-27 8h0m1 36h0m-7 4h0"/><path stroke="#2066b4" d="M0 0m145 74h0m-11 17h0m-4 8h0m-23 3h0m-12 6h0m4-1h0m35 3h0m-13 0h0m1 4h0m1-3h0m-25 6h0m3 1h0m4-4h0m-10 6h0m17 0h0m12 0h0m4 3h0m-33 8h0m17 0h0m4 1h0m-11 3h0m6-1h0m3 7h0m-34 8h0m6 1h0m8 8h0m8-1h0m-15 4h0m183-2h0m17 24h0m5 4h0"/><path stroke="#1e71b8" d="M0 0m184 58h0m-3 10h0m-19 8h0m-24 9h0m-8 5h0m-5 3h0m-17 4h0m30 5h0m6-2h0m5-1h0m4 1h0m-56 3h0m49 1h0m-67 12h0m4 0h0m47 0h0m-50 4h0m11 1h0m-5 3h0m21 4h0m9 0h0m8 2h0m-43 5h0m12 4h0m16 2h0m-32 3h0m8-1h0m19 2h0m-15 4h0m6-1h0m182 7h0m-200 4h0m5-1h0m195 6h0m12 0h0m-203 6h0m199 7h0m-217 6h0m10 0h0m2 0h0m203 2h0m0 2h0"/><path stroke="#1c7cbd" d="M0 0m152 73h0m17-1h0m-22 5h0m-2 3h0m24-1h0m-27 9h0m14-1h0m-4 5h0m-26 4h0m-47 3h0m20 2h0m26 5h0m11-3h0m-48 7h0m0 4h0m-10 11h0m21 10h0m19 1h0m-36 5h0m23 0h0m-15 4h0m9 0h0m13-1h0m150-1h0m-168 3h0m167 4h0m-194 1h0m7 1h0m4 0h0m9 0h0m14-1h0m173 3h0m-182 3h0m159-1h0m9-1h0m23 2h0m3 1h0m-190 3h0m177-3h0m-191 7h0m8-2h0m10 0h0m177 5h0m13-1h0m-221 10h0m12 0h0m204-2h0m15 1h0m-262 3h0m267 1h0m-2 4h0m-236 3h0m219 14h0m-27 3h0m14 10h0m2-3h0"/><path stroke="#1a88c2" d="M0 0m164 38h0m21 21h0m-36 7h0m10 0h0m5 7h0m10-2h0m2 0h0m-20 6h0m17-1h0m-49 2h0m10 4h0m26-1h0m-45 4h0m9 0h0m7-2h0m24 0h0m-43 5h0m-14 3h0m7 1h0m54 1h0m-65 4h0m23-3h0m-36 5h0m29 0h0m-23 8h0m56 5h0m-50 4h0m32-2h0m-39 5h0m44 2h0m-70 3h0m61 6h0m-63 4h0m14-3h0m4 9h0m180 1h0m31 2h0m-213 4h0m3 1h0m198-2h0m0 3h0m13 1h0m-221 0h0m202 3h0m-219 3h0m13-1h0m24 2h0m12-1h0m192 1h0m13-2h0m-240 3h0m207 3h0m6-2h0m24 1h0m-246 5h0m8 0h0m9-1h0m191-1h0m22 3h0m7-3h0m9 0h0m-228 4h0m185 2h0m13-1h0m23 2h0m-275 0h0m38 2h0m4 0h0m16-1h0m15 2h0m172 4h0m6-2h0m-211 5h0m209 0h0m21-1h0m7 5h0m-274 5h0m33-3h0m5 1h0m11 2h0m209-3h0m-222 5h0m5 2h0m16-1h0m177 0h0m32 0h0m5 2h0m0 6h0m-24 4h0m16 0h0m6 1h0m-233 3h0m211-1h0m9 2h0m2-1h0m-13 10h0m-211 1h0"/><path stroke="#1991c3" d="M0 0m178 25h0m12 17h0m-9 1h0m13 7h0m-18 11h0m6-1h0m-9 4h0m-27 2h0m-7 5h0m10-1h0m-19 8h0m7 0h0m6-3h0m-19 7h0m16-4h0m13 7h0m-59 2h0m12-1h0m9 3h0m13-1h0m-27 3h0m18 0h0m-37 6h0m-37 4h0m45-2h0m-48 6h0m55-1h0m-27 2h0m5 3h0m7-2h0m-24 4h0m4 1h0m11 0h0m-16 5h0m10-2h0m-1 16h0m193 3h0m1 5h0m-193 5h0m200 0h0m20 9h0m-231 3h0m197-2h0m46 4h0m-41 2h0m-201 2h0m9 0h0m-38 5h0m41 3h0m181-3h0m3 1h0m12 1h0m-7 4h0m-207 3h0m229 1h0m16-2h0m4 2h0m-256 5h0m20-2h0m21-2h0m-24 7h0m194 1h0m13 0h0m7-3h0m22 2h0m-217 2h0m220 2h0m-32 5h0m-233 3h0m17 0h0m23-2h0m177 0h0m17 1h0m6 1h0m-249 2h0m26 2h0m9-3h0m12 4h0m203-2h0m-238 5h0m215-1h0m-186 6h0m188 3h0m-236 3h0m255 5h0m-221 4h0"/><path stroke="#1895b7" d="M0 0m159 18h0m29 12h0m-14 8h0m15 5h0m-16 4h0m-16 5h0m8 0h0m30 1h0m-9 2h0m6 1h0m-52 6h0m4 1h0m10 5h0m23-1h0m-110 3h0m38 2h0m17 0h0m1-1h0m-31 7h0m11-2h0m31-2h0m-80 7h0m21-1h0m45 1h0m-4 3h0m-65 9h0m94-3h0m-57 7h0m5-2h0m13 0h0m-50 3h0m2 2h0m8 0h0m3 5h0m-36 7h0m28 1h0m-12 7h0m4 1h0m27 4h0m-22 5h0m220-3h0m4 2h0m-238 5h0m6 4h0m16-1h0m211 1h0m10-4h0m-257 6h0m4-1h0m17-1h0m214 1h0m-228 4h0m11 1h0m213 0h0m20-1h0m-259 6h0m10 0h0m22-1h0m229 0h0m-247 4h0m8 0h0m-24 2h0m38 1h0m-32 4h0m19 0h0m204 2h0m-221 2h0m11-1h0m-1 6h0m16 1h0m4-3h0m243 1h0m-275 6h0m13 1h0m5-1h0m3-1h0m20 0h0m14 2h0m196-1h0m-222 2h0m-17 6h0m210 0h0m15 0h0m-245 1h0m9 2h0m1 5h0m15-1h0m222-1h0m-240 6h0m7 0h0m12-2h0m9 0h0m13-1h0m4 3h0m192-3h0m-239 6h0m34 0h0m15-1h0m190 0h0m12-1h0m13 2h0m-220 2h0m-24 7h0m4 0h0m15 5h0m-14 1h0m-4 6h0m2-2h0m31 0h0m-29 5h0m-14 4h0m5 1h0m3 2h0m5 2h0m-6 1h0"/><path stroke="#189aaa" d="M0 0m180 25h0m-27 5h0m40 7h0m-16 10h0m-43 4h0m59 2h0m-11 2h0m14 1h0m-43 4h0m9 1h0m-85 1h0m57 0h0m-21 6h0m25-2h0m-60 7h0m12 1h0m23 0h0m-45 2h0m11 0h0m-8 8h0m4 1h0m26-2h0m0 3h0m-50 1h0m20 1h0m48-1h0m-53 4h0m6 3h0m-10 7h0m-10 6h0m-6 7h0m5-4h0m218 2h0m-234 6h0m8-3h0m-2 7h0m238-3h0m3 1h0m-14 3h0m-243 6h0m41-3h0m-37 6h0m21 0h0m12-2h0m197 1h0m-224 5h0m-10 3h0m31 0h0m-14 3h0m16 2h0m-20 9h0m19-2h0m-37 9h0m9-1h0m6 5h0m7-1h0m218 15h0m-224 8h0m18-3h0m-6 6h0m212-1h0m-241 4h0m8-2h0m10 4h0m12-4h0m-21 7h0m20-1h0m204 0h0m25 1h0m6 1h0m-262 1h0m29 1h0m13 6h0m202-1h0m-230 1h0m4 3h0m15-2h0m204-1h0m-223 5h0m8 0h0m-21 4h0m9 15h0m6 0h0m13 4h0m3-3h0"/><path stroke="#189e9e" d="M0 0m145 28h0m22 4h0m-4 3h0m20 2h0m-42 12h0m16-1h0m-27 5h0m-43 9h0m50-3h0m-27 5h0m-18 4h0m7 0h0m24 1h0m11-1h0m-49 3h0m24 2h0m-3 5h0m0 2h0m-38 5h0m18-1h0m26-2h0m-56 9h0m5 0h0m26 1h0m-25 5h0m-7 5h0m-7 5h0m-10 10h0m14-3h0m219 0h0m6 1h0m-239 4h0m23 0h0m200 2h0m11 0h0m-233 2h0m9 3h0m4-3h0m-22 13h0m240 5h0m5 0h0m-222 5h0m-31 8h0m-4 8h0m30 8h0m-20 3h0m4-2h0m-12 3h0m-2 27h0m17 2h0m10 0h0m-17 5h0m244 0h0m-213 4h0m4 2h0m-36 4h0m5 0h0m5-3h0m14 0h0m-14 4h0m8 1h0m16 2h0m-29 7h0"/><path stroke="#17a291" d="M0 0m154 21h0m17 3h0m-14 4h0m11-1h0m-43 7h0m26 3h0m33-2h0m-82 4h0m26 2h0m22 10h0m-70 4h0m32 3h0m3-3h0m-45 7h0m36 2h0m-20 3h0m24 2h0m10-1h0m-23 4h0m3 1h0m-15 3h0m4 5h0m9 2h0m-6 4h0m-15 9h0m-33 32h0m221 0h0m10 0h0m-249 7h0m17 3h0m-9 8h0m9 3h0m-18 15h0m23 13h0m-13 6h0m-12 29h0"/><path stroke="#19a485" d="M0 0m183 19h0m-25 14h0m-62 9h0m23 1h0m-11 4h0m-36 5h0m19-1h0m34 2h0m-42 4h0m15-2h0m26 2h0m7-1h0m-24 4h0m9-2h0m-19 6h0m10 4h0m-44 14h0m-3 5h0m-11 14h0m223 22h0m7 5h0m-242 2h0m-7 25h0"/><path stroke="#1da578" d="M0 0m133 19h0m44 1h0m-44 7h0m-9 4h0m14 0h0m21 5h0m-56 6h0m-14 3h0m24 2h0m-27 5h0m5 5h0m8 1h0m-2 9h0m-23 9h0m194 41h0"/><path stroke="#21a56c" d="M0 0m148 15h0m-2 17h0m-41 2h0m-19 23h0"/><path stroke="#24a55f" d="M0 0m102 53h0"/><path stroke="#28a652" d="M0 0m113 32h0"/><path stroke="#f0b625" d="M0 0m133 203h0m17 28h0m-15 21h0m80 3h0m-100 25h0m29-1h0m58 13h0"/><path stroke="#f2a622" d="M0 0m163 114h0m26 7h0m-29 15h0m8 3h0m69 8h0m2-1h0m-79 9h0m57 2h0m-37 6h0m41-1h0m-22 5h0m-1 17h0m26 1h0m-100 10h0m73 0h0m9 2h0m-88 10h0m78 4h0m36 2h0m-109 5h0m110 0h0m-76 2h0m35 1h0m-32 5h0m-7 4h0m71-1h0m-115 5h0m64 0h0m30 6h0m13-1h0m15 1h0m8 4h0m-153 4h0m77 6h0m64-1h0m-46 7h0m18 9h0m-26 8h0m0-3h0m38 1h0m-93 6h0m71 5h0m-33 12h0"/><path stroke="#f09621" d="M0 0m230 90h0m-49 1h0m39 0h0m20 5h0m4 1h0m-23 2h0m-21 17h0m48 1h0m-75 8h0m41-2h0m-66 6h0m57-2h0m-9 6h0m9 0h0m8-2h0m5 7h0m19 0h0m3-3h0m-92 4h0m17 1h0m6-2h0m-41 5h0m10 4h0m18 2h0m-5 2h0m14 3h0m43-1h0m17-3h0m14 4h0m-91 0h0m64 1h0m5 0h0m7 2h0m3 1h0m4-3h0m-77 4h0m34-1h0m-81 8h0m11 4h0m38-1h0m49-1h0m23-1h0m-44 5h0m38 0h0m-77 5h0m38 0h0m25 0h0m8-2h0m-89 7h0m26-2h0m22 1h0m-76 3h0m43 0h0m49 0h0m19 2h0m1-4h0m-116 6h0m7 1h0m12-1h0m17 0h0m88 0h0m-109 4h0m32 1h0m35-3h0m16 2h0m13-1h0m7 0h0m16-1h0m-47 7h0m30 0h0m-24 4h0m2-2h0m42 2h0m-60 1h0m28 3h0m-112 1h0m104 2h0m26 0h0m6-1h0m-68 5h0m16 1h0m42 0h0m29 0h0m-112 1h0m16 1h0m21 0h0m7 3h0m1 3h0m67 0h0m-100 1h0m18 3h0m5 3h0m68 1h0m-91 8h0m7-1h0m30-1h0m16 1h0m4 0h0m-117 3h0m75 1h0m-13 3h0m29 3h0m35-4h0m5 1h0m28 0h0m-144 3h0m14 0h0m120 2h0m0-1h0m-129 4h0m91 3h0m-82 4h0m16-3h0m62 1h0m-23 3h0m38-1h0m8 2h0m19 0h0m-152 4h0m23 1h0m18 0h0m7 1h0m20 0h0m80 0h0m-142 3h0m14-3h0m85 2h0m16-1h0m-44 6h0m20 0h0m4 0h0m45 1h0m-136 4h0m2-3h0m11-1h0m16 2h0m27-1h0m7 2h0m63-2h0m-71 5h0m53 2h0m-65 3h0m20-2h0m18 2h0m19 0h0m16 0h0m7 0h0m-43 4h0m44 0h0m-39 3h0m4 1h0m7 4h0m9-1h0m10-2h0m-78 8h0m28-4h0m12 2h0m0-2h0m18 3h0m6-2h0m-10 6h0m-29 3h0m-3 3h0m16 1h0"/><path stroke="#ee8721" d="M0 0m190 80h0m37 1h0m9 0h0m-50 2h0m12 2h0m43 0h0m-64 4h0m25 0h0m4-2h0m-15 3h0m45 3h0m-59 4h0m6 1h0m27-4h0m40 3h0m-68 4h0m6 0h0m37-3h0m2 1h0m3 3h0m-37 2h0m52 1h0m-66 5h0m5-2h0m6 2h0m29-1h0m15-1h0m-78 3h0m52 0h0m16 1h0m8-1h0m-73 6h0m8-2h0m17 1h0m4-2h0m51 2h0m-73 2h0m28 1h0m37 1h0m-81 5h0m5-2h0m8 0h0m14 1h0m6 1h0m39-1h0m3 0h0m5 0h0m-64 5h0m19 0h0m34 0h0m-69 5h0m26-3h0m0 3h0m12-4h0m15 4h0m28-4h0m16 4h0m3-4h0m-19 4h0m3 1h0m-79 6h0m46-2h0m5 0h0m33 2h0m-99 5h0m5-1h0m2 1h0m32-3h0m49 3h0m4-3h0m-107 7h0m36-3h0m7 2h0m4 0h0m15 1h0m28-1h0m15-2h0m10 3h0m-101 4h0m14 0h0m11 0h0m35-4h0m7 2h0m-84 5h0m16-1h0m10 1h0m45-2h0m7 2h0m7 0h0m32 1h0m-113 2h0m67 1h0m-61 2h0m23 0h0m9 2h0m48-2h0m-83 6h0m19-2h0m-41 4h0m13 2h0m18-1h0m21 1h0m9-2h0m10 1h0m20 1h0m35 0h0m-105 4h0m67-1h0m40 0h0m-117 5h0m90-1h0m-91 3h0m28 2h0m73-2h0m-115 7h0m7-1h0m11-2h0m3 0h0m6 2h0m8-1h0m54-2h0m42 3h0m-127 5h0m48-2h0m11-1h0m19 2h0m38-1h0m17 2h0m-143 4h0m12-1h0m41 1h0m51 0h0m8-3h0m18 0h0m1 3h0m-61 0h0m38 3h0m7-1h0m8 0h0m-131 3h0m10 0h0m17 1h0m1 0h0m50-2h0m12 2h0m24-1h0m-120 5h0m42 0h0m11-1h0m31 2h0m40-2h0m10-1h0m13 2h0m-133 4h0m15-2h0m42 0h0m24 3h0m14-2h0m13 2h0m-107 4h0m30-1h0m32-1h0m24 2h0m12-2h0m5-1h0m3 2h0m17 1h0m6 1h0m13 0h0m-121 2h0m17 2h0m61-1h0m32 0h0m-86 4h0m38-2h0m9 2h0m21 1h0m13-1h0m-149 2h0m8 0h0m13 3h0m19-1h0m8-2h0m3 2h0m45 0h0m5-3h0m2 4h0m13 0h0m17-3h0m11 3h0m11-1h0m-158 5h0m8-1h0m0-1h0m4 1h0m44-2h0m39 0h0m50 3h0m7 0h0m-136 2h0m4 1h0m35-2h0m7 1h0m3 1h0m39 0h0m17-1h0m28-1h0m11-1h0m-140 6h0m6 0h0m39 0h0m30-1h0m15-1h0m6 3h0m9 0h0m29 0h0m-153 5h0m40-2h0m53 1h0m26-1h0m27 1h0m6 0h0m-123 3h0m45 0h0m8 0h0m6 2h0m14-1h0m14 1h0m19-2h0m24 0h0m-156 3h0m6 2h0m16-3h0m13 1h0m5-1h0m14 1h0m46 0h0m54 1h0m-127 2h0m92 3h0m8-2h0m7-1h0m-121 6h0m9-2h0m9 1h0m5 2h0m46 0h0m5-3h0m11 0h0m14 2h0m12 0h0m41-1h0m-155 5h0m25-2h0m2 0h0m43 3h0m27-3h0m3 1h0m15 3h0m5-1h0m7-3h0m33 2h0m-139 3h0m34 3h0m37-4h0m35 3h0m14-3h0m5 2h0m-130 4h0m7 0h0m5 0h0m19 0h0m37 1h0m8-2h0m15 1h0m8 2h0m15-4h0m3 1h0m1 2h0m6-3h0m3 3h0m6 1h0m-126 3h0m27 0h0m32 0h0m49 0h0m-115 3h0m60 0h0m3 1h0m4 0h0m9 0h0m-76 4h0m27-1h0m18 1h0m10-3h0m24 1h0m-41 6h0m5-3h0m8 0h0m-34 4h0m12 4h0m11-3h0m13 1h0m60 1h0m-97 2h0m5 1h0m10-2h0m73 1h0m-84 3h0m2 3h0m15-2h0m37 0h0m5-1h0m-41 10h0m-5 2h0m40 0h0"/><path stroke="#ec7720" d="M0 0m200 76h0m11 1h0m-5 4h0m14 1h0m-8 3h0m-31 3h0m35 2h0m8-3h0m-39 10h0m20 1h0m14-3h0m15 2h0m-25 4h0m-45 4h0m4-1h0m12-1h0m45 1h0m7 2h0m6-4h0m12 4h0m-62 3h0m7-2h0m6 1h0m20-1h0m18 0h0m13 1h0m-98 6h0m69-1h0m23-3h0m-51 6h0m32-1h0m20-1h0m-73 8h0m9-1h0m35-1h0m3 0h0m15 1h0m3-2h0m6-1h0m-81 4h0m5 1h0m19 3h0m-23 2h0m34 0h0m5-2h0m40 0h0m-116 4h0m16 0h0m16 1h0m41-1h0m15 4h0m2-4h0m-79 5h0m4-1h0m0 4h0m30-3h0m18 0h0m-54 6h0m3 0h0m51 0h0m6-1h0m34-1h0m-97 3h0m59 2h0m-62 3h0m13 2h0m38-1h0m30 0h0m-83 4h0m42 2h0m17-2h0m44 0h0m-88 3h0m17 2h0m23-1h0m-71 5h0m18-1h0m40-2h0m6 2h0m9 1h0m-11 1h0m43 2h0m17 1h0m-120 4h0m11-1h0m9 1h0m8-3h0m44 1h0m52 1h0m-85 5h0m27 1h0m27-1h0m12 0h0m-116 4h0m6 1h0m2-3h0m10 1h0m4-1h0m9 2h0m31 1h0m36-4h0m-63 6h0m15 2h0m4-4h0m0 3h0m16 1h0m8-4h0m21 3h0m37-3h0m-129 4h0m15 2h0m7 0h0m25 2h0m4-4h0m6 1h0m20 2h0m9 0h0m-98 1h0m24 4h0m32-1h0m-63 5h0m25-2h0m16 1h0m5-2h0m64 1h0m10 1h0m9-2h0m-121 4h0m5 3h0m47-3h0m-55 6h0m35-1h0m26 2h0m7 0h0m20 0h0m-74 1h0m14-1h0m4 2h0m32 2h0m22-3h0m14-1h0m-99 6h0m11 0h0m30-1h0m40-1h0m56 1h0m-145 6h0m0 1h0m34-2h0m22 1h0m3-3h0m32 2h0m5 1h0m41-2h0m-145 3h0m22 2h0m15-1h0m18 0h0m27 0h0m25 1h0m-48 6h0m13-1h0m20-1h0m29 0h0m24 2h0m-135 0h0m1 2h0m1 2h0m5 0h0m0-4h0m51 0h0m5 4h0m67-1h0m9-1h0m16 1h0m-139 5h0m25-3h0m12 3h0m14-1h0m23 0h0m14-2h0m14 3h0m7-2h0m30 1h0m-150 4h0m110-1h0m-59 5h0m9 0h0m54-2h0m27-1h0m-163 5h0m74 0h0m44 0h0m27 2h0m-137 4h0m12 0h0m33-2h0m29 0h0m4 2h0m28-2h0m17 2h0m-22 4h0m31 0h0m-146 1h0m24 3h0m22 0h0m52-3h0m7 3h0m65-3h0m-160 5h0m9 2h0m13 0h0m49-2h0m-20 4h0m6 2h0m4-1h0m9 0h0m70 2h0m4-1h0m-130 4h0m25 0h0m16 1h0m7-2h0m26 2h0m48-3h0m19 1h0m-118 5h0m12 0h0m8-2h0m17 3h0m84 0h0m-115 2h0m3 0h0m36 1h0m-57 4h0m20 1h0m8-1h0m12-2h0m42 5h0m12-1h0m12 0h0m2 2h0m-117 4h0m16 0h0m110-1h0m-117 4h0m5-2h0m51 3h0m6 1h0m36-1h0m-92 8h0m26-1h0m27 1h0m48 0h0m-95 2h0m27 2h0m11 0h0m17-2h0m3 1h0m7 1h0m-17 4h0m15-1h0m13-1h0m-50 3h0m7 1h0m23-1h0m-33 7h0"/><path stroke="#e9681f" d="M0 0m209 75h0m8 7h0m-23 3h0m6-1h0m30 2h0m-20 3h0m-12 3h0m34 2h0m-42 5h0m-16 3h0m-2 9h0m44 1h0m19 4h0m-81 2h0m3 2h0m51 0h0m4 5h0m22 2h0m17-1h0m-30 7h0m-85 2h0m30-1h0m23 4h0m35-2h0m-67 5h0m2 5h0m22 0h0m4-1h0m19 0h0m11 0h0m-39 3h0m29 2h0m19 3h0m-67 3h0m43-2h0m13 3h0m-43 2h0m27-1h0m24 2h0m-100 3h0m14 1h0m5 0h0m28 0h0m-6 5h0m-33 3h0m33-1h0m51 2h0m-100 3h0m36-2h0m14 2h0m-15 5h0m31-3h0m23 9h0m2 2h0m-108 3h0m23 0h0m41-1h0m4 2h0m27-1h0m-70 4h0m12 0h0m7 1h0m2 0h0m-56 3h0m100-2h0m46 3h0m-88 2h0m10 1h0m-39 6h0m14 0h0m39-2h0m16-1h0m-66 4h0m16-1h0m30 1h0m39 2h0m19-2h0m-80 6h0m10-1h0m62-2h0m-110 8h0m-15 1h0m42 0h0m7 3h0m45 0h0m5-2h0m-51 4h0m65 2h0m-124 1h0m0 3h0m26 0h0m36-4h0m48 6h0m-68 4h0m44 0h0m14 0h0m-93 4h0m55-1h0m2 0h0m33 1h0m8-1h0m19 2h0m0 3h0m-93 5h0m28 1h0m7-4h0m23 3h0m-81 3h0m11 0h0m46 2h0m1-4h0m95 2h0m-86 3h0m1 4h0m-11 4h0m16 1h0m-18 6h0m45-2h0m-48 7h0m-33 4h0m41 0h0m-10 5h0m13 2h0m15-1h0m-51 3h0m18 5h0m19 1h0m10 13h0"/><path stroke="#df5e1f" d="M0 0m198 82h0m-10 8h0m-16 15h0m62 2h0m-53 5h0m17 8h0m-25 8h0m38 6h0m2 8h0m-12 20h0m-31 6h0m61 8h0m-100 19h0m42 0h0m-54 8h0m27 2h0m-47 3h0m74-1h0m17 8h0m-63 5h0m-37 9h0m88 30h0m-84 5h0m-3 4h0m56 1h0m-38 1h0m87 4h0m-73 14h0m46 4h0m-28 8h0"/><path stroke="#d5561e" d="M0 0m208 93h0m-40 50h0m22 26h0m-41 57h0m-69 12h0m35 52h0m32 1h0"/><path stroke="#748dc3" d="M0 0m100 131h0"/><path stroke="#7394ca" d="M0 0m98 125h0"/><path stroke="#729bcf" d="M0 0m126 101h0m-35 23h0"/><path stroke="#71a1d2" d="M0 0m160 76h0m-19 20h0m9 1h0m3-1h0m-37 8h0m-15 12h0m35 0h0m-52 18h0m16 5h0m183 15h0m-208 13h0"/><path stroke="#70a8d4" d="M0 0m149 80h0m-12 2h0m12 8h0m-28 4h0m22 2h0m-27 6h0m24 8h0m-2 6h0m-52 14h0m30-3h0m-10 21h0m-24 5h0m22 0h0m-31 29h0m231 9h0"/><path stroke="#6faed7" d="M0 0m186 66h0m-16 2h0m-8 14h0m4 1h0m-55 10h0m-12 5h0m32 12h0m-41 1h0m46 9h0m-59 9h0m4 1h0m4 11h0m4 12h0m176 0h0m16 8h0m-200 5h0m210 6h0m-228 4h0m7 3h0m8-1h0m210 11h0m-208 3h0m190 18h0"/><path stroke="#6eb6da" d="M0 0m168 61h0m-5 7h0m9 12h0m-37 5h0m32 1h0m-3 0h0m-87 7h0m53 1h0m-50 15h0m-9 11h0m3 6h0m4 9h0m206 4h0m-204 5h0m-43 3h0m36 10h0m182 3h0m17 14h0m15 0h0m-201 7h0m206-2h0m-35 13h0m40-2h0m-6 5h0m-229 5h0m208 21h0"/><path stroke="#6dbbdb" d="M0 0m148 87h0m-57 18h0m-21 11h0m199 3h0m-197 22h0m-42 2h0m41 1h0m198 5h0m38 20h0m-233 2h0m182 3h0m54-1h0m-32 9h0m-234 14h0m231 5h0m-17 10h0m6 2h0m15 1h0m-18 7h0"/><path stroke="#6cbdd4" d="M0 0m177 33h0m14 0h0m-19 32h0m-90 13h0m11 13h0m-20 11h0m-15 2h0m18 4h0m-7 2h0m-33 5h0m-2 9h0m-1 5h0m16 0h0m4 1h0m8 3h0m-8 3h0m203 0h0m-233 6h0m41-1h0m2-3h0m32 15h0m-47 5h0m245 7h0m-255 3h0m-25 9h0m9 2h0m24 3h0m7 1h0m202-1h0m-240 6h0m18 10h0m30 8h0m188 1h0m-202 13h0"/><path stroke="#6cc0cc" d="M0 0m181 28h0m4 12h0m-6 19h0m-94 23h0m-4 6h0m-14 7h0m-30 15h0m20 9h0m-14 4h0m-3 16h0m10 9h0m229 0h0m-242 12h0m-18 16h0m57 12h0m-19 12h0m-28 10h0m22 1h0m232 2h0m-237 14h0"/><path stroke="#6cc3c5" d="M0 0m174 17h0m-7 7h0m-46 29h0m31 1h0m-50 7h0m-19 4h0m-1 17h0m-32 27h0m227 25h0m-10 0h0m-215 21h0m-20 4h0m0 8h0m-1 11h0m4 9h0m3 14h0m-14 21h0"/><path stroke="#6cc5bd" d="M0 0m70 67h0m8 0h0m-9 15h0m197 32h0m-11 13h0m17 9h0m-237 85h0"/><path stroke="#6dc6b6" d="M0 0m124 61h0m-44 6h0"/><path stroke="#6fc7ae" d="M0 0m147 22h0m-27 11h0m-26 15h0m18 1h0m-16 6h0m-4 6h0"/><path stroke="#f6cd52" d="M0 0m210 251h0"/><path stroke="#f7c450" d="M0 0m214 94h0m-9 37h0m31 12h0m-16 26h0m-46 8h0m32 4h0m-43 8h0m-11 12h0m73 2h0m-142 8h0m113 21h0m38 3h0m0 18h0m-70 10h0m-11 10h0m29 5h0m26-3h0m-20 7h0m-54 22h0m43 5h0"/><path stroke="#f6ba50" d="M0 0m203 98h0m-9 0h0m13 15h0m-31 6h0m66 11h0m-60 5h0m-17 10h0m67 19h0m-17 6h0m14 3h0m-26 5h0m24-1h0m-8 4h0m12-1h0m-60 5h0m14 1h0m-36 8h0m16 4h0m53 2h0m21 11h0m-9 4h0m-21 6h0m-130 1h0m9 3h0m148 0h0m-131 1h0m-6 7h0m44 8h0m10 3h0m58 0h0m-25 8h0m-65 6h0m55-3h0m36 4h0m13 1h0m-33 11h0m-102 4h0m39 0h0m51 2h0m-2 10h0m3 3h0m-58 4h0m40-2h0m8 0h0m-7 9h0"/><path stroke="#f5b150" d="M0 0m231 82h0m-6 11h0m-14 13h0m31 3h0m-70 7h0m20-1h0m19 0h0m-59 14h0m84 0h0m-49 5h0m-34 0h0m68 7h0m3-1h0m-90 10h0m47 3h0m-48 6h0m11 1h0m91 0h0m-38 4h0m30-2h0m-24 5h0m-61 6h0m49-2h0m-67 7h0m57 4h0m42-2h0m2 1h0m-75 8h0m33-2h0m-2 4h0m55 1h0m-78 4h0m62 2h0m-69 6h0m46 1h0m-110 2h0m98 0h0m49 6h0m-21 6h0m21 2h0m5 1h0m-129 3h0m57-2h0m36 3h0m37-1h0m-78 7h0m46 2h0m33-2h0m-114 4h0m-26 5h0m138 0h0m4-3h0m-37 4h0m25 3h0m-148 3h0m10-2h0m66 6h0m62 2h0m-49 9h0m22 0h0m-98 4h0m6 1h0m67-1h0m13 0h0m-23 11h0m43 1h0m17-1h0m-20 11h0m-54 10h0"/><path stroke="#f4a74f" d="M0 0m199 74h0m27 4h0m-39 10h0m34 0h0m-25 8h0m41 5h0m-41 9h0m13 2h0m6 5h0m-3 3h0m-54 5h0m35 4h0m30 0h0m-58 7h0m48 1h0m-59 9h0m53-4h0m-16 7h0m-55 4h0m40 0h0m-50 2h0m0 7h0m22 2h0m-10 4h0m39-2h0m47 1h0m-118 17h0m24 8h0m45-1h0m-60 7h0m-28 18h0m128 4h0m-120 3h0m78 1h0m-74 5h0m9 0h0m9 10h0m19 2h0m100-2h0m-38 4h0m-8 6h0m8 0h0m-93 4h0m117-3h0m-15 5h0m-82 5h0m1 8h0m46 0h0m-52 3h0m-6 11h0m92-3h0m-66 3h0m55 3h0m-1 2h0m-38 6h0m38-2h0m-56 3h0m19 8h0"/><path stroke="#f29e4f" d="M0 0m206 71h0m9 8h0m-13 9h0m-26 16h0m25 8h0m31 5h0m8 7h0m-44 3h0m-18 12h0m44 7h0m-75 2h0m74 1h0m-26 3h0m-52 9h0m40 1h0m54 4h0m-122 6h0m97-2h0m6 3h0m-84 2h0m7 9h0m-58 36h0m139 0h0m-37 3h0m-112 9h0m42 3h0m-9 4h0m23 2h0m-25 2h0m37 7h0m19 1h0m-6 5h0m75 2h0m-85 6h0m19 6h0m-62 16h0m30 2h0m77 0h0"/><path stroke="#ec984f" d="M0 0m216 85h0m-10 21h0m1-4h0m-24 37h0m18 10h0m-27 17h0m-34 35h0m20 6h0m-9 35h0m-27 40h0m65 9h0m-31 15h0"/><path stroke="#e6944e" d="M0 0m185 159h0m-86 58h0m22 32h0m72 31h0"/></g>
<g transform="translate(411.5,214.0) scale(0.25)" fill="none" stroke-width="6.8" stroke-linecap="round"><path stroke="#253b91" d="M0 0m85 239h0m-12 7h0"/><path stroke="#24459b" d="M0 0m45 220h0m27 14h0m12-1h0m-4 5h0m-5 1h0m8 6h0m-14 5h0m7 1h0"/><path stroke="#2350a6" d="M0 0m39 225h0m3 2h0m36 4h0m2 1h0"/><path stroke="#225baf" d="M0 0m47 229h0m36-2h0m-42 3h0m37 4h0m10 2h0m-3 8h0m-3 9h0m-3 2h0"/><path stroke="#2066b4" d="M0 0m37 219h0m11 1h0m5 5h0m22 2h0m-38 3h0m16 1h0m27 2h0m8 24h0m10 1h0"/><path stroke="#1e71b8" d="M0 0m44 217h0m6 17h0m42 3h0m0 3h0m1 13h0m4 3h0m4 1h0m-19 7h0"/><path stroke="#1c7cbd" d="M0 0m37 215h0m-3 9h0m58-2h0m-60 7h0m64 1h0m1 3h0m-2 12h0m-9 3h0m14-2h0m5 5h0m-19 5h0m3 4h0m4 5h0"/><path stroke="#1a88c2" d="M0 0m46 215h0m5 0h0m5 4h0m5 3h0m28 1h0m1 6h0m-59 1h0m67 10h0m5 14h0m4 5h0m-21 5h0"/><path stroke="#1991c3" d="M0 0m301 167h0m-243 41h0m-26 10h0m50-4h0m12 50h0m11 1h0m-14 3h0m3 7h0"/><path stroke="#1895b7" d="M0 0m61 198h0m1 12h0m21-2h0m-35 3h0m15 3h0m27 0h0m-63 4h0m67 8h0m5 0h0m5 8h0m-2 14h0m-4 2h0m-10 19h0"/><path stroke="#189aaa" d="M0 0m86 200h0m-32 7h0m-19 4h0m24 1h0m8-2h0m-48 6h0m85 6h0m-11 2h0m6-2h0m12 29h0m1 10h0m-10 5h0m14 3h0m-14 3h0m7 0h0m5 0h0m-22 6h0m13-4h0m-10 11h0m7 0h0m7 1h0"/><path stroke="#189e9e" d="M0 0m100 195h0m-48 6h0m-14 4h0m9 0h0m-19 3h0m11 1h0m51-3h0m-67 6h0m20-1h0m47 2h0m8 4h0m10 13h0m1 4h0m5 12h0m-5 7h0m7-3h0m-2 8h0m-3 4h0m2 0h0m-6 5h0m8 13h0m-2 12h0"/><path stroke="#17a291" d="M0 0m301 160h0m0 3h0m4 17h0m-2 4h0m-240 9h0m-40 3h0m50 6h0m-28 1h0m18 3h0m36 2h0m16 2h0m-38 5h0m27 1h0m9 28h0m10 21h0m-19 12h0m5 0h0m-7 3h0m8 17h0"/><path stroke="#19a485" d="M0 0m304 155h0m-4 22h0m-240 10h0m43 3h0m-78 3h0m67 1h0m-40 3h0m5-1h0m40 2h0m0 3h0m-54 4h0m46-2h0m-54 3h0m74 2h0m3 2h0m-90 5h0m98 25h0m-5 13h0m3 12h0m12 1h0m-2 3h0m-19 1h0m12 6h0m3 2h0m-6 3h0m-7 4h0m-7 3h0m11 2h0m3 5h0m5 1h0"/><path stroke="#1da578" d="M0 0m300 176h0m-264 10h0m19 0h0m55 3h0m-83 1h0m10 4h0m21-3h0m8-1h0m41 4h0m-35 1h0m37 2h0m-91 4h0m3-2h0m5 0h0m24 1h0m17-2h0m-32 5h0m64 0h0m20 0h0m-21 5h0m20-1h0m7 1h0m-28 4h0m21-1h0m6 1h0m4 4h0m-13 13h0m8-2h0m2 45h0m-20 11h0m18 5h0m17 1h0m-21 1h0m23 1h0m-26 8h0"/><path stroke="#21a56c" d="M0 0m125 150h0m-87 29h0m6 3h0m-17 2h0m27-1h0m7 2h0m56-2h0m179 1h0m-274 5h0m21-1h0m5 1h0m23 0h0m26-1h0m2-2h0m5 3h0m12-1h0m-97 4h0m13 1h0m21-2h0m26 1h0m-44 5h0m13-1h0m57 2h0m19-3h0m1 7h0m4 2h0m4-1h0m1 7h0m-15 5h0m4 3h0m-4 2h0m8 0h0m-1 9h0m7-2h0m-5 4h0m2 20h0m6 10h0m5 3h0m0 6h0m6-1h0m-25 3h0m11 0h0m8 2h0m-9 3h0m16-2h0m7 2h0m-26 7h0m17-1h0m-22 18h0m5 1h0m11 6h0"/><path stroke="#24a55f" d="M0 0m164 122h0m-4 9h0m-21 4h0m0 19h0m-13 6h0m-6 10h0m6-2h0m9 1h0m23 0h0m-101 3h0m50-1h0m61 0h0m-87 6h0m29 1h0m175-3h0m-226 5h0m5 0h0m54 1h0m11 1h0m-28 2h0m186-1h0m10 2h0m-230 2h0m56 3h0m177-1h0m-256 2h0m5-1h0m47 2h0m16 0h0m7 0h0m19-1h0m-110 6h0m47-2h0m46 1h0m29 2h0m-39 5h0m6 1h0m12 6h0m7-3h0m3 0h0m130 0h0m-136 7h0m4 1h0m-10 20h0m3 20h0m13 3h0m-13 1h0m4 7h0m25 2h0m3 12h0m-26 8h0m9-2h0m27 3h0m-41 5h0m24-2h0m-24 5h0m5-1h0m-14 2h0m17 1h0m18-1h0m12 0h0m12 3h0m-46 9h0"/><path stroke="#28a652" d="M0 0m159 117h0m-5 1h0m11 10h0m8 0h0m-45 2h0m8 5h0m7 3h0m17-2h0m-5 5h0m4 5h0m-1 3h0m-101 2h0m96 3h0m0-3h0m134 2h0m-224 2h0m220 2h0m16 1h0m-281 4h0m95-1h0m18-1h0m25-1h0m-74 6h0m39-2h0m19 1h0m35-2h0m114 2h0m-261 3h0m20 3h0m10-4h0m51 0h0m53 5h0m115 2h0m-257 1h0m28 3h0m3-1h0m4-1h0m49 2h0m8-2h0m14 0h0m2 2h0m7 0h0m161-2h0m-258 6h0m101-1h0m15 2h0m4-4h0m0 3h0m-140 1h0m17 1h0m33 0h0m10 0h0m33-1h0m15 2h0m32 2h0m4-4h0m121 3h0m-255 4h0m52-2h0m41 0h0m9 2h0m3-1h0m-63 5h0m47-1h0m27 1h0m11-1h0m133 0h0m-155 4h0m7 1h0m2 0h0m133 0h0m-159 7h0m45 2h0m124-2h0m-127 8h0m-16 5h0m12 4h0m-23 2h0m7 3h0m-1 2h0m-9 15h0m12 17h0m13-1h0m10-1h0m-7 7h0m-20 2h0m7 0h0m10 3h0m17 3h0m-34 4h0m2 2h0m9 1h0m8 3h0m2-1h0m-8 8h0m11-1h0m6 1h0m-19 1h0m-14 3h0m8 6h0m2 1h0m28-2h0m5 0h0m-12 6h0m15-1h0m-12 8h0"/><path stroke="#34a94a" d="M0 0m150 125h0m0 9h0m-13 7h0m11-2h0m9 2h0m8-1h0m-35 3h0m10 3h0m5-1h0m2 1h0m-16 1h0m13 2h0m-15 3h0m35 2h0m3 0h0m-80 3h0m61 0h0m143 0h0m-262 2h0m53-1h0m-57 6h0m47 0h0m60-1h0m3 1h0m-97 4h0m31 2h0m60-1h0m148-1h0m-251 5h0m2 0h0m11 1h0m5-1h0m3-1h0m20 0h0m71 0h0m21 1h0m-90 4h0m44-1h0m9 0h0m27-2h0m17 4h0m119-1h0m-200 1h0m63 3h0m-68 2h0m53 1h0m11 0h0m-20 3h0m31 2h0m125-3h0m-147 7h0m27-2h0m4 2h0m-33 2h0m1 5h0m26 2h0m9-4h0m126 2h0m-149 3h0m2 2h0m132 4h0m-132 4h0m3-3h0m15 1h0m109 3h0m-124 1h0m11 0h0m107 3h0m-124 7h0m2-3h0m-5 8h0m2 13h0m-7 9h0m39 1h0m-25 7h0m1 6h0m4-3h0m5 10h0m2 0h0m18 0h0m14-1h0m-49 3h0m29 2h0m-29 2h0m34 2h0m-43 4h0m12 0h0m61 0h0m-55 1h0m11 3h0m-14 9h0m4 3h0m2-3h0m-7 9h0m23-1h0m-12 5h0m15-1h0"/><path stroke="#48b045" d="M0 0m179 110h0m-12 5h0m-10 5h0m17 2h0m105-3h0m3 1h0m-119 3h0m25 3h0m-40 3h0m-82 2h0m110 0h0m0 3h0m-33 0h0m23 0h0m7 1h0m18 0h0m-20 3h0m-123 6h0m10 0h0m110-1h0m17 2h0m-142 4h0m11-1h0m86-1h0m21 0h0m127 3h0m-250 3h0m6-1h0m34 0h0m196 2h0m-244 1h0m108 1h0m6-1h0m6-1h0m7 2h0m4 1h0m116-2h0m-232 4h0m19-1h0m13 3h0m0-2h0m120-1h0m-158 4h0m16 3h0m11-3h0m24 1h0m10 0h0m64 2h0m16-2h0m112 0h0m-238 6h0m19-2h0m19 2h0m23 0h0m28-3h0m5 1h0m14 2h0m28 0h0m100-2h0m-271 3h0m13 1h0m29 1h0m25-2h0m6 3h0m37-1h0m25 1h0m-7 4h0m133 0h0m-125 3h0m22 1h0m2-3h0m110 1h0m-144 6h0m43 0h0m87-2h0m-137 5h0m54-2h0m77 10h0m8 1h0m-112 5h0m-11 2h0m25 0h0m4-1h0m86 1h0m22 1h0m-124 4h0m1-1h0m-14 2h0m20 3h0m-22 3h0m-16 6h0m5 0h0m16-2h0m117 1h0m-124 1h0m13 3h0m5 3h0m3 1h0m-4 2h0m-33 5h0m3 1h0m0 3h0m10 8h0m28 1h0m-38 5h0m30-4h0m2 9h0m5-1h0m-7 8h0m1 11h0m5-3h0m23 0h0m-31 7h0m27 4h0m23 0h0m-13 4h0m-33 3h0m8 0h0m4 1h0m7 4h0m18-2h0m5 2h0m-42 3h0m5 0h0m13 1h0m-4 4h0m9-2h0m-50 3h0m12 2h0m-15 5h0m12-2h0"/><path stroke="#5db740" d="M0 0m188 90h0m-5 8h0m-45 4h0m30 2h0m16 4h0m-30 6h0m27-2h0m-83 5h0m170 0h0m-146 3h0m44-2h0m17 3h0m78 0h0m-152 4h0m60-2h0m4 2h0m41-2h0m58 0h0m-247 6h0m82-1h0m59 1h0m19 0h0m14-1h0m66 0h0m10 0h0m-87 2h0m15 4h0m-159 0h0m22 3h0m39-2h0m113 3h0m59 0h0m-247 2h0m21-2h0m31 3h0m27 0h0m31 0h0m28-2h0m-115 7h0m37-1h0m44-3h0m79 0h0m54 2h0m14-1h0m-259 6h0m58 0h0m6 1h0m82-1h0m8-1h0m11 2h0m-151 2h0m31-2h0m7 2h0m97 2h0m-121 2h0m6 0h0m2-1h0m36 3h0m8-1h0m20 0h0m62-1h0m102 2h0m-266 2h0m6-1h0m61 2h0m84-3h0m15 3h0m87-3h0m-238 6h0m7-1h0m15-1h0m98 1h0m13 1h0m117 2h0m-115 2h0m124 2h0m-217 1h0m8 2h0m93-1h0m8 0h0m-23 4h0m11 6h0m109 5h0m-117 4h0m-14 4h0m21 0h0m24 0h0m4 3h0m61-3h0m12-1h0m9 4h0m10-4h0m-103 7h0m86-1h0m-102 2h0m23 0h0m56 2h0m6 0h0m6 1h0m-92 2h0m85-1h0m14 2h0m-91 4h0m74 1h0m20-2h0m-111 4h0m25 1h0m7-1h0m-47 11h0m11 0h0m-15 4h0m14-1h0m-14 8h0m3 0h0m25-3h0m-6 5h0m15-1h0m-42 5h0m26 2h0m17-2h0m9 1h0m-48 6h0m19 4h0m13-3h0m-26 4h0m8 6h0m25 12h0m-14 8h0m17-1h0m26 1h0m-39 4h0m8-2h0m-18 14h0m34-1h0m10-2h0m-26 4h0"/><path stroke="#71bd3c" d="M0 0m220 82h0m-8 3h0m-84 3h0m82 1h0m-74 8h0m69 1h0m-23 3h0m6 0h0m2-2h0m-65 7h0m11-3h0m28 2h0m8 0h0m2-3h0m-64 5h0m80 3h0m49-3h0m-188 3h0m105 1h0m-77 5h0m14 0h0m24-1h0m8-1h0m38 0h0m84 0h0m24 0h0m6 1h0m-197 5h0m11 1h0m98 0h0m5-2h0m27 1h0m51 1h0m-212 3h0m20 1h0m24-2h0m24 0h0m27 0h0m22 1h0m48 0h0m43-1h0m-147 7h0m158-2h0m3 1h0m-220 1h0m29 1h0m4 0h0m17 0h0m4 1h0m8-2h0m20 0h0m52 3h0m15 1h0m7-4h0m3 3h0m-186 3h0m15 2h0m31-3h0m18 0h0m19 1h0m71 2h0m-155 1h0m9-1h0m62 3h0m9 0h0m77 0h0m6-1h0m4-1h0m55 2h0m4-2h0m5 0h0m10 2h0m-241 5h0m3-3h0m5-1h0m35 2h0m8-1h0m19 2h0m8-1h0m67-1h0m2 3h0m23-1h0m57-1h0m1-1h0m25 0h0m-213 4h0m3 1h0m12 1h0m6-1h0m77 1h0m10-1h0m23 2h0m7-2h0m63 1h0m8-1h0m-261 6h0m65-2h0m14-1h0m87 1h0m18 0h0m63 1h0m-249 1h0m72 3h0m7-1h0m101-2h0m13 3h0m-117 4h0m74-2h0m7 1h0m93-1h0m1 2h0m6-2h0m-249 4h0m35 2h0m149-2h0m65 1h0m-90 3h0m20 1h0m23-1h0m-149 7h0m39-1h0m61 1h0m17-1h0m22 0h0m-35 4h0m10-1h0m8 5h0m5-1h0m-40 3h0m25 1h0m4 1h0m95 2h0m-113 3h0m23 2h0m21 0h0m45 2h0m19 2h0m-95 3h0m94 2h0m-119 1h0m17 5h0m96 1h0m-94 5h0m-16 2h0m7 3h0m-3 2h0m4 1h0m14 0h0m-37 5h0m26-3h0m2 3h0m-5 4h0m-28 1h0m7 6h0m19 0h0m12-1h0m9 5h0m-40 2h0m18 1h0m-14 6h0m23-1h0m-40 5h0m48 2h0m-14 3h0m3 1h0m6 8h0m12 1h0m-21 2h0m8 1h0m15 2h0m10 1h0m-11 7h0m21 2h0m-32 2h0m13 6h0m-9 7h0"/><path stroke="#8bc538" d="M0 0m159 66h0m41 10h0m11 1h0m-51 4h0m30-1h0m8 2h0m-83 3h0m1-1h0m39-1h0m22 6h0m4-1h0m21 1h0m-57 1h0m46 0h0m7 2h0m10 1h0m2 1h0m-111 7h0m11-2h0m115-1h0m-94 7h0m9 2h0m55 0h0m6 1h0m18 1h0m2-2h0m13 0h0m18 1h0m-164 6h0m12-2h0m15-2h0m6 0h0m1 4h0m21-2h0m29-1h0m51 2h0m9-2h0m37 1h0m-164 2h0m25 2h0m54 0h0m16 0h0m27-1h0m12 1h0m9 1h0m-162 2h0m9 1h0m20 1h0m9-1h0m115-1h0m-137 4h0m16 2h0m65 0h0m39-1h0m8 0h0m-172 6h0m8-4h0m139 1h0m14 2h0m59-2h0m-220 7h0m14-3h0m19 2h0m6-1h0m104-2h0m12 1h0m3 3h0m34-4h0m-224 5h0m4 1h0m81-2h0m148 0h0m28 0h0m-262 5h0m31 0h0m20 1h0m-9 4h0m32 1h0m94-1h0m-161 5h0m62-3h0m121 3h0m46 1h0m-194 1h0m143 2h0m-50 2h0m33 0h0m14 2h0m7-2h0m15 3h0m-39 0h0m11 4h0m20-2h0m-22 7h0m19 8h0m52 0h0m-88 3h0m86 2h0m-70 4h0m-13 9h0m10-1h0m67-2h0m-78 7h0m68-1h0m-50 9h0m-23 1h0m-1 7h0m14-2h0m4 0h0m-6 4h0m0 10h0m-37 5h0m23-4h0m6 3h0m20 1h0m6-3h0m-15 9h0m-29 4h0m24 1h0m-27 4h0m28-2h0m-34 5h0m12 5h0m29 1h0m-13 8h0m3 1h0m15 3h0m33-2h0m-56 2h0m42 7h0m-22 6h0m17 14h0"/><path stroke="#a8ce34" d="M0 0m113 47h0m17 6h0m-8 19h0m23 2h0m-15 4h0m13-3h0m2 5h0m61 1h0m21 0h0m9 0h0m-83 4h0m41 0h0m6-1h0m-88 4h0m7-1h0m-47 7h0m47-3h0m15 0h0m25 2h0m61-2h0m-103 3h0m60 3h0m8 0h0m65 0h0m-201 4h0m13 0h0m4-1h0m13-1h0m70 0h0m60 2h0m12-2h0m-116 7h0m2-4h0m14 3h0m25-1h0m47 0h0m32 0h0m20 1h0m5 1h0m-202 1h0m22-1h0m18 4h0m7-2h0m93 1h0m-130 2h0m3 2h0m1-1h0m44 0h0m4 0h0m13-1h0m85 0h0m8 1h0m8 0h0m-167 5h0m26-1h0m18 2h0m8-3h0m79-1h0m7 2h0m40 0h0m-194 6h0m12-1h0m54 1h0m5-2h0m18 1h0m78-1h0m37-2h0m-193 5h0m26 2h0m8-1h0m-42 4h0m160-2h0m47 0h0m-222 6h0m21 0h0m155 1h0m26-3h0m28 1h0m-35 5h0m16-1h0m-147 4h0m113 0h0m33 2h0m31 0h0m-55 4h0m24 1h0m-40 4h0m1 7h0m17 0h0m22 1h0m12-2h0m2-2h0m-32 8h0m14 3h0m28-2h0m-24 5h0m19 1h0m7 0h0m6-1h0m-58 5h0m20 0h0m7 5h0m20 0h0m-42 5h0m6 2h0m44 1h0m-66 1h0m58 1h0m5-1h0m-74 5h0m24-1h0m6 0h0m-7 6h0m38-2h0m-67 7h0m1-4h0m46 3h0m-29 2h0m-9 5h0m13-1h0m10-1h0m3 2h0m6-1h0m-23 6h0m13 0h0m-32 4h0m20-1h0m10-2h0m-17 7h0m-9 3h0m23 2h0m-20 4h0m5-3h0m-44 9h0m30-1h0m20 1h0m9-1h0m-62 4h0m11 1h0m18 0h0m-31 3h0m29 3h0m35-4h0m-22 8h0m6 7h0m8-2h0m10 7h0m-10 5h0m24-1h0m-11 4h0m10 0h0m-9 7h0m-7 2h0"/><path stroke="#c6d630" d="M0 0m108 47h0m33 2h0m53 1h0m-108 7h0m96-2h0m14 1h0m-80 2h0m37 2h0m-76 2h0m63 0h0m4 1h0m-58 4h0m34 1h0m26-2h0m8 2h0m23-1h0m-99 6h0m31 0h0m40-3h0m27 1h0m-97 5h0m58 2h0m19-1h0m53-2h0m-120 6h0m17-1h0m14 1h0m4-3h0m0 4h0m10 0h0m83 0h0m-146 2h0m15 0h0m26-2h0m12 3h0m14 0h0m60 0h0m32 1h0m-159 2h0m21-1h0m2 0h0m12-1h0m9 3h0m27-1h0m64-1h0m10 3h0m8-3h0m-173 6h0m74 0h0m15-1h0m41-1h0m-88 4h0m1 2h0m14 0h0m18-1h0m93-1h0m25 2h0m-199 4h0m13-1h0m32-1h0m40 0h0m14 1h0m-89 2h0m42 2h0m23-1h0m60 0h0m58-1h0m-163 7h0m12-2h0m12 0h0m35 3h0m2-2h0m13-1h0m85 1h0m-188 6h0m200-4h0m-203 5h0m24 0h0m-18 5h0m149 0h0m20 0h0m13 0h0m-192 3h0m173 2h0m-96 3h0m118-1h0m-197 3h0m210 4h0m-19 12h0m4-3h0m5 4h0m3 3h0m35-4h0m-15 9h0m-67 6h0m56 0h0m9-1h0m-40 4h0m35 4h0m-51 6h0m8 3h0m25-1h0m29 1h0m-1 4h0m-51 5h0m1-4h0m-9 7h0m30 0h0m-26 2h0m-2 6h0m21-2h0m7 6h0m-4 7h0m-25 5h0m17-2h0m5 0h0m-26 3h0m2 6h0m-5 16h0m-5 3h0m10 1h0m-1 5h0m-14 15h0m46 0h0m-28 5h0m9-2h0m-2 6h0m19-1h0m5 2h0m-9 4h0m1-1h0m6 1h0m-17 1h0m-2 14h0"/><path stroke="#e3de2c" d="M0 0m148 15h0m29 5h0m-44 7h0m35 0h0m-43 7h0m13-3h0m50-1h0m5 7h0m-3 5h0m-1 1h0m-12 4h0m-105 5h0m14 0h0m5-1h0m34 2h0m9-2h0m16 0h0m15 1h0m28 1h0m-110 4h0m8 0h0m21 1h0m12-1h0m68-1h0m-85 4h0m69 1h0m8-3h0m-50 4h0m39 2h0m-76 3h0m2 1h0m8 0h0m16 1h0m11-1h0m4-2h0m-48 8h0m15-2h0m8 2h0m10-3h0m29 2h0m17-1h0m-84 4h0m7 2h0m70-2h0m11 0h0m-98 4h0m65-2h0m-65 7h0m26-2h0m0 3h0m30-3h0m55 0h0m55 2h0m-190 2h0m79 3h0m26-3h0m74 3h0m-169 1h0m5 0h0m86 1h0m84 1h0m-148 4h0m18-2h0m126-1h0m-176 4h0m97 2h0m74-1h0m-185 6h0m27 0h0m28-2h0m135 3h0m-159 6h0m-35 5h0m23 2h0m175 2h0m-188 5h0m186 9h0m3 3h0m-6 1h0m-7 14h0m17 1h0m-22 1h0m14 0h0m17 12h0m-42 6h0m23 3h0m17 5h0m7 5h0m-34 2h0m35 4h0m-47 3h0m19 3h0m-23 3h0m15-1h0m12 13h0m13 0h0m-18 5h0m2 3h0m-5 4h0m7-1h0m-21 6h0m7-2h0m2 2h0m-12 2h0m10 2h0m-1 5h0m-10 6h0m10-2h0m-8 5h0m19 5h0m-12 2h0m24 1h0m-39 4h0m7-2h0m8 2h0m4 2h0m11 4h0m16-2h0m-27 7h0"/><path stroke="#edd629" d="M0 0m159 18h0m-5 3h0m24 4h0m-65 7h0m33 0h0m-41 2h0m78 3h0m-87 5h0m32-1h0m-39 4h0m30-2h0m-17 10h0m93 0h0m-115 2h0m19 3h0m16-3h0m16 1h0m55-1h0m-116 7h0m17 0h0m50-3h0m25 2h0m23-2h0m-88 5h0m9 0h0m43 2h0m-57 2h0m21 0h0m68 0h0m-114 2h0m107 1h0m-106 5h0m35 0h0m31-2h0m-80 7h0m115-2h0m-106 3h0m5 3h0m30-2h0m-38 4h0m27 5h0m14-1h0m4 1h0m-43 5h0m15-1h0m5 1h0m152 0h0m6-1h0m-159 3h0m149 3h0m-178 5h0m30 0h0m-49 5h0m2 6h0m17-4h0m-14 5h0m206 7h0m-13 8h0m-1 13h0m2 5h0m-6 5h0m-2 15h0m34 1h0m-46 20h0m19-3h0m9 4h0m-28 6h0m23 7h0m-14 10h0m6 5h0m18-1h0m2 4h0m-17 4h0m17 0h0m-26 6h0m-1 6h0m-5 8h0m15 3h0m-20 2h0m13 7h0m18-2h0"/><path stroke="#efc627" d="M0 0m133 19h0m38 5h0m-47 7h0m29-1h0m31 5h0m-82 4h0m1 3h0m71-4h0m-17 10h0m0 4h0m25 8h0m-72 4h0m0 5h0m-25 2h0m12 1h0m3 1h0m39-2h0m25 2h0m-90 3h0m32 2h0m-50 13h0m42 0h0m129 59h0m6 68h0m7 0h0m-18 7h0m2 4h0m12 0h0m-17 16h0m20-1h0m-37 4h0m37 2h0"/><path stroke="#f0b625" d="M0 0m180 25h0m-35 3h0m13 5h0m-7 4h0m8-1h0m5 2h0m17 5h0m-83 12h0m49 22h0m85 157h0m6 0h0m-7 6h0m13 3h0m-12 5h0m2 0h0m0-1h0"/><path stroke="#f2a622" d="M0 0m183 19h0m-26 9h0m10 4h0m-4 3h0m10 12h0m53 194h0"/><path stroke="#f09621" d="M0 0m225 245h0"/><path stroke="#ee8721" d="M0 0m224 234h0"/><path stroke="#7394ca" d="M0 0m307 169h0"/><path stroke="#729bcf" d="M0 0m73 232h0"/><path stroke="#71a1d2" d="M0 0m52 220h0m-6 7h0"/><path stroke="#70a8d4" d="M0 0m310 173h0m-227 75h0"/><path stroke="#6faed7" d="M0 0m35 221h0m48-1h0m10 26h0"/><path stroke="#6eb6da" d="M0 0m88 225h0"/><path stroke="#6dbbdb" d="M0 0m87 216h0m8 7h0m4 6h0m7 10h0m-10 28h0m-6 8h0"/><path stroke="#6cbdd4" d="M0 0m83 211h0m-59 11h0m55 0h0m22 19h0m4 12h0m-3 15h0m-1 18h0"/><path stroke="#6cc0cc" d="M0 0m87 207h0m-36 4h0m57 18h0m-9 4h0m5 10h0"/><path stroke="#6cc3c5" d="M0 0m29 210h0"/><path stroke="#6cc5bd" d="M0 0m62 200h0m4 6h0m33 11h0m6 9h0m15 45h0"/><path stroke="#6dc6b6" d="M0 0m36 198h0m21 2h0m53 25h0m5 10h0m2 4h0m4 10h0"/><path stroke="#6fc7ae" d="M0 0m35 187h0m9 9h0m-6 5h0m83 57h0m4 2h0m-11 22h0m10 0h0m-1 12h0"/><path stroke="#72c7a7" d="M0 0m31 178h0m49 14h0m217-2h0m-170 46h0m2 5h0m0 34h0"/><path stroke="#74c79f" d="M0 0m154 146h0m-21 13h0m163 6h0m-158 3h0m-113 11h0m24 3h0m37-1h0m-30 2h0m50 1h0m24 8h0m174-1h0m-189 7h0m29 66h0m-18 4h0m14 14h0m5 17h0m-11 5h0m23-2h0"/><path stroke="#76c897" d="M0 0m153 134h0m-6 14h0m1 16h0m-116 3h0m9 1h0m74 4h0m-96 4h0m115-1h0m-61 7h0m-55 6h0m58 0h0m212 1h0m-139 5h0m-9 7h0m12 0h0m-1 3h0m-15 37h0m57 39h0m-15 7h0m-40 7h0"/><path stroke="#7dc992" d="M0 0m165 136h0m0 9h0m-115 3h0m84 2h0m-61 7h0m2 10h0m6-1h0m61 7h0m149-1h0m-228 4h0m61 2h0m163-4h0m-217 5h0m8-1h0m214 1h0m-151 5h0m9 5h0m13 0h0m2 9h0m126-3h0m-16 6h0m-5 9h0m-129 40h0m23 13h0m5 4h0m-16 6h0m35 9h0m-57 6h0m50 2h0m18-1h0m-43 4h0m7-1h0m8 0h0m23-1h0m-36 15h0m19 3h0"/><path stroke="#89ce8f" d="M0 0m266 114h0m-108 11h0m-6 4h0m35 5h0m69 2h0m-233 6h0m17-3h0m60 0h0m107 3h0m-170 5h0m242 1h0m-190 5h0m47 0h0m40 0h0m19-1h0m-69 3h0m-94 4h0m94 3h0m17-1h0m1-1h0m41-1h0m96 2h0m-107 5h0m3 0h0m-161 11h0m158 0h0m9 10h0m-8 4h0m6 0h0m-23 5h0m2 11h0m94 0h0m29 6h0m-4 1h0m-18 7h0m9 0h0m-107 49h0m9-2h0m20 3h0m-33 7h0m21-1h0m2 1h0m-18 23h0"/><path stroke="#96d28c" d="M0 0m187 88h0m-57 6h0m46 10h0m31 9h0m-133 13h0m7 4h0m115-3h0m-143 9h0m31-2h0m129 3h0m59-1h0m-208 5h0m114-2h0m5 0h0m-153 4h0m52 10h0m16 0h0m-46 2h0m231-1h0m-246 6h0m37 11h0m198 3h0m-91 8h0m-10 3h0m14 1h0m93-4h0m-14 31h0m-97 10h0m-8 29h0m1-1h0m12 12h0m22 0h0m1 22h0m-6 6h0"/><path stroke="#a2d58a" d="M0 0m215 79h0m6 9h0m-27 10h0m12 8h0m1-4h0m62 17h0m-171 6h0m-49 4h0m67-2h0m120 2h0m-175 4h0m39-2h0m177 3h0m-199 1h0m7 6h0m139-1h0m60-1h0m-213 5h0m9 0h0m26 4h0m85 1h0m78 0h0m-165 4h0m161 0h0m-214 5h0m132 4h0m14 2h0m18 6h0m-24 1h0m21-1h0m-15 35h0m-12 2h0m73 4h0m-68 38h0m-36 7h0m22-1h0m32 20h0m-6 4h0m17-1h0m-25 9h0m14 1h0"/><path stroke="#b1da88" d="M0 0m199 74h0m32 8h0m-146 0h0m68 14h0m43 0h0m7 2h0m11-4h0m-98 8h0m10-1h0m-10 3h0m95 2h0m-15 4h0m-106 1h0m111 1h0m-65 4h0m2 0h0m54-1h0m19 0h0m-140 5h0m65 0h0m40-1h0m36 1h0m-121 4h0m-5 6h0m119 1h0m-23 4h0m-116 3h0m6 3h0m149 0h0m1 5h0m-21 3h0m-20 4h0m22 14h0m17 2h0m17-3h0m-34 60h0m-41 6h0m-19 9h0m39 26h0m24 12h0"/><path stroke="#cbdc5b" d="M0 0m206 71h0m-58 16h0m1 3h0m76 3h0m-75 4h0m87 4h0m-157 8h0m51 1h0m111-1h0m-102 1h0m-70 6h0m102 0h0m-115 3h0m-23 5h0m43 5h0m116 0h0m30 0h0m32-2h0m12 7h0m-31 9h0m-15 6h0m14 11h0m-8 2h0m5 2h0m-8 3h0m5 6h0m-26 5h0m3 3h0m3 40h0m-36 3h0m12-1h0m23 11h0m-22 18h0"/><path stroke="#dde059" d="M0 0m121 53h0m51 12h0m14 1h0m-106 1h0m92 13h0m-5 6h0m49-1h0m-14 3h0m-109 3h0m-26 4h0m32 3h0m22-4h0m20 2h0m2 0h0m-70 6h0m-36 8h0m32 0h0m140 2h0m-108 4h0m114 1h0m17 0h0m-179 13h0m189 0h0m-23 51h0m4-1h0m8 0h0m26 12h0m-39 8h0m2-2h0m5 5h0m-10 17h0m24 2h0m1 3h0m-44 7h0m-43 12h0m45-1h0m8-1h0m16 8h0m-10 9h0"/><path stroke="#eee556" d="M0 0m177 33h0m14 0h0m-79 16h0m-16 6h0m56-1h0m-50 7h0m66 0h0m11-2h0m-96 6h0m-13 2h0m8 0h0m92 1h0m-88 10h0m144 0h0m-144 4h0m67-2h0m13 2h0m-27 3h0m2-3h0m-60 11h0m34 0h0m-53 11h0m33 1h0m-15 3h0m-40 7h0m7 8h0m197 1h0m-207 5h0m222 31h0m-37 13h0m38 1h0m-29 3h0m-2 4h0m-12 38h0m9 1h0m-71 22h0m88-1h0m-41 8h0m12 2h0m-3 4h0m22 3h0"/><path stroke="#f4e055" d="M0 0m167 24h0m-47 9h0m-28 28h0m32 0h0m36 15h0m-91 6h0m97 1h0m-85 5h0m83-2h0m-114 23h0m186 83h0m-2 21h0m5-2h0m-9 4h0m4 6h0m2 4h0m5 7h0m-7 21h0m-13 1h0"/><path stroke="#f5d753" d="M0 0m163 68h0m95 114h0m-47 62h0m14 16h0"/><path stroke="#f6cd52" d="M0 0m147 22h0m34 6h0m53 207h0m2 4h0m7-1h0"/><path stroke="#f7c450" d="M0 0m185 40h0m-91 8h0m137 197h0"/><path stroke="#f5b150" d="M0 0m174 17h0"/></g>
<g transform="translate(46.5,305.4) scale(0.25)" fill="none" stroke-width="6.8" stroke-linecap="round"><path stroke="#24459b" d="M0 0m25 180h0m90 4h0m-12 6h0m35 50h0m0 3h0"/><path stroke="#2350a6" d="M0 0m30 179h0m-12 7h0m98 2h0m20 55h0"/><path stroke="#225baf" d="M0 0m26 178h0m0 10h0m79 2h0m6 2h0m-6 6h0"/><path stroke="#2066b4" d="M0 0m24 174h0m94 20h0m-16 3h0m3 6h0m-10 5h0m11-1h0m39 33h0"/><path stroke="#1e71b8" d="M0 0m118 182h0m-8 14h0m3 1h0m36 36h0"/><path stroke="#1c7cbd" d="M0 0m132 157h0m-12 10h0m-99 5h0m104 7h0m-8 14h0m-87 5h0m84 2h0m-2 5h0m0-3h0m4 7h0m-19 2h0m33 34h0m15-2h0m-8 6h0"/><path stroke="#1a88c2" d="M0 0m32 174h0m89-3h0m7 8h0m0 3h0m-5 4h0m3-3h0m0 10h0m-3 2h0m-91 8h0m88 0h0m0 7h0m-30 2h0m18-2h0m-8 7h0m39 4h0m4 5h0m-8 6h0m-7 8h0m-51 10h0m59 3h0"/><path stroke="#1991c3" d="M0 0m149 154h0m-13 3h0m4 3h0m-114 6h0m105 5h0m3 1h0m14 1h0m-105 8h0m90-2h0m6 2h0m-92 6h0m112 1h0m-31 6h0m7 4h0m-81 4h0m77 1h0m33 8h0m-71 4h0m27 0h0m34 16h0m-1 10h0m-9 9h0m-8 2h0m13 2h0m1-2h0m6 6h0m-34 0h0"/><path stroke="#1895b7" d="M0 0m151 134h0m-10 11h0m5-3h0m-1 10h0m-119 7h0m109 2h0m-11 5h0m29-4h0m5 3h0m-123 3h0m106 1h0m2-1h0m25 0h0m-23 5h0m9 1h0m-114 2h0m100 0h0m-95 3h0m89 2h0m17-3h0m6 3h0m-115 5h0m10-1h0m79 0h0m11-1h0m5 4h0m-15 5h0m14 0h0m26 0h0m-34 2h0m8 2h0m2 0h0m10 1h0m-42 7h0m46 0h0m10-2h0m-141 3h0m102 1h0m7 0h0m-41 5h0m26-2h0m3 1h0m5 0h0m-38 4h0m30 2h0m3 1h0m16-4h0m8 1h0m-110 4h0m94 1h0m8 1h0m3-2h0m5 0h0m-3 5h0m-16 3h0m7-1h0m9 4h0m-21 2h0m-47 5h0m72-2h0m-35 12h0m40 0h0m-6 6h0m14 0h0m-75 2h0m29 0h0m20 0h0m-67 6h0m10-1h0m12 1h0m40-2h0m7 0h0m8 2h0m-69 1h0m46 1h0m2 0h0m9 0h0m7 2h0m-44 5h0m19-2h0m-9 6h0m4-1h0m-11 8h0m6 1h0m-13 2h0m19 0h0m-15 2h0"/><path stroke="#189aaa" d="M0 0m160 126h0m-10 6h0m-115 15h0m10 0h0m8 1h0m-19 4h0m102-1h0m-107 4h0m-1 4h0m30 1h0m95 0h0m-127 5h0m3-2h0m6 1h0m16-1h0m98 3h0m-106 3h0m109-1h0m17 4h0m-1 8h0m-33 5h0m10 1h0m-77 2h0m86-1h0m28 2h0m-23 1h0m-102 7h0m4 0h0m115-2h0m-126 3h0m97 3h0m18-1h0m-102 3h0m4 2h0m4-1h0m62-1h0m9 2h0m4-3h0m8 0h0m4 1h0m9 1h0m10 2h0m-127 0h0m111 1h0m-100 5h0m79 1h0m11-1h0m7-2h0m13 0h0m11 1h0m-139 6h0m74 1h0m30-1h0m12 0h0m6-3h0m7 0h0m-119 5h0m48 1h0m23 0h0m34-1h0m8 3h0m-110 1h0m75 3h0m42-2h0m14 4h0m-1 2h0m-104 10h0m43 9h0m42 0h0m19-3h0m-106 8h0m23-3h0m18-1h0m32 0h0m7 0h0m2 3h0m-47 2h0m13 1h0m-50 2h0m6 7h0m25 0h0m27-2h0m16 0h0m-61 5h0m26 2h0m-31 1h0m29 8h0"/><path stroke="#189e9e" d="M0 0m173 112h0m19 17h0m-31 3h0m-14 11h0m7 1h0m-126 6h0m107 3h0m30-3h0m-123 7h0m99-2h0m5 3h0m4-1h0m11 0h0m8-2h0m-136 6h0m12 0h0m102 4h0m-91 3h0m78 0h0m-83 3h0m90 1h0m37 2h0m-126 8h0m14 0h0m84 0h0m20-3h0m-99 4h0m97 3h0m6-2h0m27 6h0m-36 3h0m16-1h0m-111 4h0m100 0h0m-104 6h0m84 8h0m3-3h0m17 0h0m1 1h0m26 4h0m-149 7h0m13 0h0m44 0h0m-57 5h0m132 2h0m2-3h0m-85 3h0m18 1h0m37-1h0m15 4h0m17 1h0m-2 5h0m-96 5h0m13-3h0m26 1h0m37 2h0m6-1h0m9 0h0m-73 6h0m58 0h0m22 0h0m-101 3h0m29 9h0m66-3h0m-40 6h0m38 0h0m-79 3h0m19-2h0m58 1h0m-20 5h0m5 0h0m-33 9h0m-5 3h0m-22 5h0m14 2h0m-8 7h0m3-2h0m61 2h0"/><path stroke="#17a291" d="M0 0m172 106h0m-113 8h0m106 1h0m7 1h0m1 3h0m10 6h0m-24 2h0m-126 6h0m122-2h0m-118 4h0m121 1h0m28 3h0m-151 5h0m11 1h0m-1 1h0m105 2h0m-94 4h0m96 2h0m8-3h0m5 1h0m-125 4h0m142 2h0m-18 2h0m9 1h0m4-2h0m-129 5h0m17-1h0m97-1h0m12 4h0m-118 6h0m119 2h0m-106 3h0m106-1h0m2 0h0m9-2h0m-111 10h0m99 2h0m15-3h0m64 2h0m-175 2h0m-2 3h0m74 0h0m17 0h0m19 1h0m8-1h0m-30 6h0m7 1h0m12-1h0m-5 4h0m23 3h0m-130 7h0m1-2h0m110 0h0m-36 2h0m46 1h0m-24 5h0m16-2h0m3 4h0m-65 3h0m43 1h0m23-1h0m-146 3h0m63 1h0m79 0h0m-13 5h0m-86 2h0m85 5h0m20 0h0m-99 2h0m23 3h0m8-2h0m66-1h0m-18 5h0m8 2h0m71-1h0m-75 5h0m-76 4h0m74-1h0m27-2h0m16 1h0m-111 11h0m20 4h0m27 1h0m-69 3h0m52 1h0m8 1h0m8-1h0m-50 2h0m28 1h0m11 1h0m-43 3h0m33 0h0m5 6h0m-6 2h0m7 15h0m9 0h0m6 0h0m35 2h0"/><path stroke="#19a485" d="M0 0m181 101h0m5 5h0m-8 1h0m0 4h0m18 3h0m-37 6h0m20 1h0m-143 2h0m3 7h0m30-3h0m178 1h0m-205 5h0m17 0h0m107-2h0m16 0h0m-152 7h0m209-1h0m-197 1h0m14 7h0m100-1h0m13 2h0m25-2h0m-23 4h0m-127 4h0m5-1h0m108 1h0m25 0h0m-134 3h0m130-1h0m-124 4h0m8 1h0m3 2h0m111 2h0m-112 4h0m187 0h0m-178 6h0m4-2h0m119 2h0m-2 5h0m12-4h0m-149 7h0m125-2h0m15 2h0m13-2h0m-147 5h0m148 2h0m-126 4h0m101-1h0m7 0h0m2-2h0m5 2h0m-127 2h0m7 1h0m115-2h0m-5 6h0m23 2h0m-20 2h0m22 2h0m-67 5h0m54 4h0m-74 8h0m-26 8h0m68 0h0m21 3h0m3-4h0m-103 7h0m2-2h0m95 6h0m-16 5h0m18-1h0m6-2h0m-3 5h0m-94 2h0m7 3h0m5 0h0m99 4h0m-17 4h0m5-2h0m-23 5h0m33 0h0m4-1h0m-53 4h0m10-1h0m19 3h0m12-2h0m30 0h0m-90 4h0m2 1h0m21 2h0m8 1h0m59-1h0m-130 6h0m58 0h0m65 1h0m-68 2h0m9 1h0m-5 3h0m18-1h0m-51 6h0m12-1h0m12 0h0m2 0h0m35 2h0m23-1h0m-62 4h0m34 0h0m-54 9h0m27 0h0m27-2h0m-48 8h0m20-1h0m16 3h0"/><path stroke="#1da578" d="M0 0m180 95h0m2 3h0m35 3h0m-139 4h0m-36 6h0m150 3h0m8-1h0m-124 3h0m105-1h0m-137 6h0m5 0h0m3 0h0m5 0h0m127-2h0m7 0h0m7 1h0m-156 3h0m6 0h0m15 2h0m135-1h0m20-1h0m-183 6h0m13 0h0m4 1h0m113-1h0m53-1h0m6-1h0m-37 6h0m-137 5h0m12-1h0m11 0h0m24-1h0m81 0h0m59-1h0m14-1h0m-195 5h0m36 0h0m73 2h0m5-1h0m22 1h0m-139 2h0m13 2h0m162-3h0m-45 4h0m57 3h0m-41 5h0m32-4h0m-163 8h0m119-3h0m11 3h0m-140 7h0m14-1h0m116 0h0m61 0h0m-172 6h0m101-4h0m13 1h0m13 4h0m9 0h0m-26 8h0m21 1h0m3 1h0m4-3h0m-128 5h0m94 0h0m-101 4h0m128 1h0m10 1h0m27-1h0m4 1h0m-28 4h0m24-1h0m5 8h0m-58 5h0m13-3h0m16 3h0m4 0h0m14 0h0m-33 2h0m4 5h0m5-1h0m4 2h0m12 0h0m9 0h0m-179 4h0m136-1h0m18-1h0m9 1h0m19 1h0m-34 2h0m32 0h0m-121 5h0m91 1h0m8-3h0m-17 7h0m-102 8h0m73 7h0m29 5h0m5 2h0m5 0h0m20 2h0m1 1h0m6 6h0m-45 5h0m34-3h0m6 3h0m0 4h0m-58 3h0m37-1h0m3 2h0m-79 5h0m13-1h0m3-1h0m63 0h0m-18 6h0m10-1h0m3 0h0m-44 1h0m33 2h0m-33 4h0m11 0h0m15 1h0m-50 4h0m29-1h0m7 1h0m-26 3h0m43-2h0m-52 4h0m24 1h0m4 0h0m25 0h0m-39 5h0m5 1h0m11-2h0m16 0h0"/><path stroke="#21a56c" d="M0 0m128 74h0m93 6h0m-160 8h0m19 2h0m112-2h0m-136 5h0m5-2h0m156 0h0m24 1h0m3-1h0m-111 11h0m57-1h0m-137 5h0m131 0h0m16-1h0m-2 2h0m9 1h0m10-2h0m-151 4h0m120 3h0m8-2h0m3 1h0m10 2h0m12-3h0m-175 3h0m20 2h0m114-1h0m36 3h0m26 3h0m13 0h0m-220 3h0m146 0h0m42 2h0m24-1h0m-188 2h0m20 2h0m35 0h0m89-1h0m23 0h0m-3 2h0m10 1h0m-171 5h0m12-1h0m150 1h0m1 2h0m9-2h0m5 2h0m-151 1h0m86 2h0m12-2h0m24 1h0m10-1h0m11 2h0m-120 2h0m70 0h0m20 1h0m12-1h0m27-1h0m13 4h0m-190 3h0m20 1h0m7 0h0m88 0h0m22 0h0m27 0h0m-164 2h0m143 2h0m10-1h0m-138 2h0m149 1h0m-140 4h0m145-2h0m21 2h0m-60 2h0m10 2h0m24-1h0m9 4h0m11-1h0m-178 8h0m183-3h0m-43 6h0m12 1h0m34-3h0m-19 4h0m-15 4h0m30 0h0m-37 8h0m21 2h0m20-3h0m-55 6h0m19-2h0m12 3h0m-8 4h0m4-1h0m6 2h0m15-4h0m0 3h0m-50 1h0m20 5h0m8 6h0m11 0h0m-44 2h0m17 0h0m23 2h0m-25 2h0m42 3h0m-49 4h0m19-2h0m2 0h0m-24 6h0m16-1h0m-109 2h0m16 1h0m91 2h0m25-1h0m4-1h0m7-1h0m-41 3h0m24 2h0m-27 4h0m28 1h0m12-2h0m-38 4h0m7 2h0m15 0h0m-32 3h0m2-2h0m23 8h0m10-3h0m0 10h0m-50 2h0m18-1h0m-8 5h0m34 1h0m-42 4h0m2-1h0m15 2h0m8-2h0m-3 7h0m1-3h0m15 0h0m7 2h0m-85 5h0m42-4h0m22 1h0m9 2h0m-43 1h0m51 1h0m-25 5h0m19 0h0m-63 4h0m6-2h0m19 7h0m11 2h0m-28 4h0m18 1h0m-23 7h0"/><path stroke="#24a55f" d="M0 0m125 40h0m11 4h0m-5 3h0m-9 10h0m-44 10h0m2 2h0m48-2h0m23 3h0m-66 1h0m12 0h0m-13 6h0m133 0h0m-142 1h0m2 3h0m4-1h0m28 1h0m92 0h0m11-2h0m-136 7h0m11-1h0m2-1h0m142 1h0m-30 1h0m9 0h0m5 1h0m-137 3h0m17 2h0m70 0h0m39 1h0m18-2h0m-161 5h0m71 1h0m62-2h0m16-1h0m19 1h0m8 1h0m-153 3h0m9 0h0m38 3h0m93-2h0m4 1h0m11 0h0m-142 2h0m27 2h0m74-3h0m36 3h0m-185 4h0m23-1h0m13-2h0m56 4h0m-79 1h0m14 0h0m23 1h0m116 0h0m15 0h0m-179 2h0m84 1h0m91 2h0m18-1h0m-179 4h0m9 1h0m6-1h0m8 1h0m113-2h0m31 0h0m-155 5h0m29-1h0m85 3h0m59-3h0m-180 6h0m15-2h0m50-1h0m65 1h0m-138 4h0m67-1h0m45 4h0m38-2h0m-147 3h0m12 0h0m6-1h0m17 1h0m80 3h0m2-2h0m25 1h0m35-3h0m4 2h0m9 0h0m-204 3h0m59 2h0m6-1h0m3 1h0m6-3h0m124 3h0m-185 2h0m121 3h0m-115 1h0m22 2h0m23 1h0m54 0h0m52-4h0m-39 4h0m12 0h0m36 3h0m16 0h0m-166 5h0m5-4h0m152 0h0m12 1h0m-47 4h0m14 0h0m14 3h0m12-1h0m-166 3h0m20-1h0m110 0h0m28 2h0m22-1h0m-201 2h0m28 2h0m2-1h0m-5 6h0m15 0h0m1-3h0m128 4h0m18-1h0m4 1h0m-161 0h0m138 1h0m15 2h0m17-2h0m-25 7h0m2-4h0m18 1h0m-24 4h0m11-1h0m7 2h0m-40 8h0m20 2h0m25-3h0m-28 6h0m-8 6h0m30 2h0m-31 2h0m-5 3h0m28 8h0m-28 8h0m24-3h0m6 3h0m-35 0h0m15 4h0m7-2h0m-3 4h0m-26 2h0m47 3h0m-35 1h0m6 3h0m23-1h0m7 2h0m-28 2h0m14 1h0m7-1h0m8 1h0m-24 5h0m7-2h0m13 2h0m-1 6h0m-3 5h0m-27 1h0m-12 8h0m20-3h0m-41 11h0m15-1h0m-9 5h0m6-3h0m7 1h0m-30 4h0m15 6h0m21-2h0m-12 3h0m14 6h0"/><path stroke="#28a652" d="M0 0m145 19h0m-35 14h0m9 3h0m-7 4h0m10 1h0m9 4h0m-19 3h0m40 0h0m-45 9h0m8 1h0m-46 6h0m18-1h0m37 0h0m-5 6h0m26 0h0m-35 4h0m-38 4h0m31-1h0m3 1h0m30 0h0m-69 4h0m140-3h0m17 0h0m-124 5h0m5 2h0m17 0h0m25 1h0m19-3h0m64 0h0m3 3h0m-137 1h0m35 0h0m9 0h0m55 3h0m29-2h0m3 2h0m-141 3h0m55-3h0m47 2h0m24-1h0m17 1h0m-152 5h0m10-3h0m6 2h0m96-2h0m39 3h0m-164 5h0m8-4h0m6 2h0m33 1h0m16-2h0m60 0h0m26 1h0m-85 4h0m97 2h0m13-2h0m7 0h0m-154 6h0m15-3h0m85-1h0m-105 7h0m12 0h0m139 0h0m-169 1h0m13 0h0m9 2h0m12 1h0m37-1h0m6 0h0m70 1h0m6-2h0m18 0h0m12 1h0m-188 5h0m62 1h0m95-3h0m-149 5h0m9-1h0m145-1h0m12 1h0m-104 6h0m80-3h0m28 3h0m-153 1h0m25 0h0m123 1h0m12 0h0m-158 4h0m32 0h0m-26 4h0m6-1h0m118 2h0m-137 6h0m7-3h0m4 1h0m11 2h0m10-2h0m3 2h0m97 0h0m22-3h0m-132 5h0m3-1h0m-13 5h0m6 1h0m107 0h0m3 1h0m-120 3h0m154 1h0m-167 0h0m130 3h0m5-2h0m8 2h0m2-3h0m10 1h0m7 4h0m-139 5h0m114 0h0m16 1h0m24 0h0m-162 3h0m134 4h0m-1 12h0m9-2h0m-3 6h0m-5 3h0m7 7h0m2 6h0m-27 9h0m31-2h0m-16 9h0m7 0h0m9 0h0m-36 7h0m33 6h0m-13 2h0m20 9h0m-43 26h0m9 4h0m-24 7h0m7-1h0m1 8h0m0 4h0"/><path stroke="#34a94a" d="M0 0m144 29h0m19 1h0m-39 1h0m23 2h0m-10 2h0m-22 5h0m18-1h0m8 1h0m-15 2h0m14 1h0m-40 4h0m7 1h0m18-1h0m-34 5h0m31 1h0m13-1h0m-30 2h0m7 3h0m16 0h0m10 0h0m-46 4h0m2 1h0m8-3h0m3 2h0m6 0h0m11 1h0m10 0h0m6 0h0m7 1h0m-52 6h0m14-1h0m27 0h0m-35 4h0m20 1h0m-28 2h0m22 1h0m9 1h0m17-1h0m4 0h0m12 2h0m-29 4h0m4-2h0m14 1h0m14-2h0m-44 9h0m13 0h0m8 1h0m24-2h0m-92 4h0m40 2h0m85-3h0m14 2h0m-89 3h0m7 1h0m10-1h0m8 0h0m16-1h0m45 3h0m3-2h0m32 3h0m-182 3h0m15 0h0m50-1h0m24-1h0m10 0h0m65 3h0m14-3h0m10 2h0m-129 3h0m20 2h0m5 0h0m89-2h0m-160 3h0m60 2h0m14-2h0m-60 4h0m35 0h0m93 3h0m22-3h0m-126 5h0m14 0h0m9 0h0m6 2h0m1 0h0m97 0h0m-143 3h0m10-1h0m20 10h0m9-3h0m-30 4h0m5 3h0m108-3h0m-125 3h0m19 5h0m93 6h0m-101 2h0m107 2h0m6-2h0m-112 11h0m6-3h0m111 18h0m13 1h0m12 12h0m-11 18h0m-5 15h0m-11 17h0"/><path stroke="#48b045" d="M0 0m160 20h0m-27 4h0m20 5h0m26 0h0m-23 2h0m-2 7h0m10-3h0m-36 4h0m22 0h0m-44 6h0m5-2h0m39 3h0m13-2h0m-67 3h0m19 0h0m24 1h0m25 0h0m9 0h0m-59 4h0m28 2h0m11-2h0m12 0h0m-75 4h0m8 1h0m39 1h0m-36 4h0m61-3h0m-85 5h0m22 1h0m59-2h0m29 0h0m-101 3h0m9 1h0m21 3h0m9-3h0m15 1h0m20-1h0m3 0h0m-85 3h0m3 1h0m63 1h0m29 1h0m-5 4h0m16 1h0m-96 1h0m74 0h0m11 3h0m-58 0h0m50 2h0m41 1h0m-139 2h0m68 0h0m20 0h0m4 4h0m-65 6h0m7-2h0m48 1h0m5-1h0m62 1h0m-102 6h0m24-1h0m10-2h0m-51 6h0m16 4h0m35 1h0m5-1h0m0-1h0m-66 4h0m21 0h0m35-1h0m-34 5h0m5 2h0m8 3h0m86 1h0m-82 4h0m126-3h0m-152 4h0m25 1h0m-14 7h0m-35 8h0m16 19h0m-1 5h0m141 20h0"/><path stroke="#5db740" d="M0 0m164 18h0m0 5h0m6 2h0m-37 3h0m41 0h0m10 1h0m-48 4h0m39 0h0m3 2h0m-21 5h0m19 0h0m-63 3h0m36-1h0m18 3h0m-34 5h0m26-2h0m-20 4h0m-52 5h0m82-3h0m-33 7h0m-19 3h0m46 0h0m14 2h0m-10 5h0m9 2h0m-64 4h0m14-2h0m28 6h0m-73 5h0m18 2h0m68 0h0m-36 3h0m-25 5h0m-7 3h0m20 8h0m101 41h0m-120 16h0"/><path stroke="#71bd3c" d="M0 0m137 28h0m21 2h0m27-1h0m-39 4h0m35 2h0m-36 4h0m22-1h0m-22 6h0m12-1h0m15 2h0m9-3h0m25 12h0m-32 3h0m-2 12h0m-83 3h0m76 16h0m-38 22h0m-14 10h0"/><path stroke="#8bc538" d="M0 0m186 32h0m0 5h0m-10 11h0m-2 4h0m8 5h0m-14 6h0m10 0h0"/><path stroke="#a8ce34" d="M0 0m192 37h0m-7 9h0m15 11h0m-17 4h0m9 5h0"/><path stroke="#c6d630" d="M0 0m195 40h0m0 10h0m-4 3h0m91 76h0m-13 3h0m-13 6h0m39 35h0"/><path stroke="#e3de2c" d="M0 0m186 45h0m10-1h0m-13 2h0m10 3h0m1 8h0m2-1h0m2 7h0m79 48h0m-3 8h0m8 0h0m-24 6h0m6 11h0m14 3h0"/><path stroke="#edd629" d="M0 0m191 43h0m5 8h0m5 1h0m-15 6h0m101 76h0m-31 11h0m48 7h0m-4 4h0m-11 3h0m2 3h0m17 7h0m-4 7h0m3 3h0"/><path stroke="#efc627" d="M0 0m280 126h0m-21 4h0m6 1h0m20 2h0m-26 2h0m10 4h0m15 0h0m14 3h0m-26 5h0m-11 13h0m23-1h0"/><path stroke="#f0b625" d="M0 0m257 115h0m-6 4h0m37 25h0m9 4h0m-12 5h0m11 2h0m9 0h0m-21 6h0m10-2h0m-2 20h0m14 4h0"/><path stroke="#f2a622" d="M0 0m255 147h0m4 6h0m35-1h0m-9 15h0"/><path stroke="#f09621" d="M0 0m266 187h0m13 2h0m-1 16h0"/><path stroke="#ee8721" d="M0 0m273 164h0m-15 6h0m10 2h0m9 1h0m-1 6h0m-9 6h0m-7 1h0m34 3h0m-34 8h0m19-1h0"/><path stroke="#ec7720" d="M0 0m269 167h0m-3 15h0m20 4h0m2 7h0m-14 3h0m1 5h0m8 1h0m-16 10h0m22-2h0"/><path stroke="#e9681f" d="M0 0m278 180h0m-9 5h0m5 2h0m1 7h0m-9 4h0m27 4h0m-36 0h0m5 3h0m1-2h0m-4 7h0m3 2h0m10 9h0m-3 5h0"/><path stroke="#df5e1f" d="M0 0m267 193h0m-10 12h0m11-2h0m2 11h0"/><path stroke="#d5561e" d="M0 0m249 205h0m9 9h0m22 3h0"/><path stroke="#729bcf" d="M0 0m32 186h0m78 2h0m9-1h0m-17 18h0m34 30h0"/><path stroke="#71a1d2" d="M0 0m20 177h0"/><path stroke="#70a8d4" d="M0 0m31 171h0m85 6h0m-84 4h0m75 8h0m41 49h0"/><path stroke="#6faed7" d="M0 0m137 215h0m4 18h0m3-1h0m4 11h0"/><path stroke="#6eb6da" d="M0 0m153 140h0m-25 27h0m-88 14h0m92 52h0m10 2h0"/><path stroke="#6dbbdb" d="M0 0m28 166h0m98 7h0m-91 3h0m120 5h0m-106 12h0m73 4h0m6 2h0m-99 3h0m94 2h0m5 4h0m-23 3h0m-47 6h0m29 0h0m71 19h0"/><path stroke="#6cbdd4" d="M0 0m141 135h0m-16 30h0m5-2h0m29 7h0m6-4h0m-12 11h0m9 4h0m15 5h0m-38 15h0m-28 53h0m35 1h0m-48 14h0"/><path stroke="#6cc0cc" d="M0 0m164 122h0m-26 27h0m26 24h0m-106 5h0m87 0h0m19 11h0m-111 3h0m100 0h0m-101 4h0m12 12h0m-8 3h0m116 8h0m-15 13h0m-82 8h0m81 3h0m26 6h0m-65 2h0m42 9h0m-40 13h0m-12 6h0"/><path stroke="#6cc3c5" d="M0 0m168 107h0m3 22h0m-135 9h0m0 7h0m1 13h0m25 19h0m77 9h0m39-2h0m-98 12h0m107 0h0m-6 6h0m-14 8h0m9 6h0m3 5h0m-14 8h0m-3 4h0m-33 27h0m35 3h0m-58 7h0m28 1h0m-24 15h0"/><path stroke="#6cc5bd" d="M0 0m178 100h0m3 8h0m-141 4h0m124 13h0m3-1h0m-17 16h0m6 0h0m-2 10h0m-105 6h0m120 4h0m-3 3h0m24 9h0m-33 5h0m27-2h0m-123 19h0m8-4h0m119 9h0m0 7h0m-11 7h0m-51 14h0m48 8h0m3 1h0m7 5h0m-21 7h0m14 1h0m-15 9h0m22-4h0m-15 4h0m-67 6h0m20 20h0m8 7h0m3 5h0m32 2h0"/><path stroke="#6dc6b6" d="M0 0m51 103h0m150-1h0m11 7h0m-163 5h0m125 10h0m-4 9h0m-118 2h0m-24 7h0m133 3h0m78 9h0m-58 7h0m-108 15h0m128 29h0m-9 14h0m-83 8h0m69 2h0m-64 3h0m75 23h0m14 0h0m-56 8h0m30 6h0m-15 3h0m30-1h0m-23 9h0m2-1h0m-37 11h0m34 12h0"/><path stroke="#6fc7ae" d="M0 0m189 112h0m-23 9h0m21-2h0m-128 12h0m146 0h0m-155 4h0m-12 5h0m197 10h0m-167 17h0m126 13h0m46 3h0m-169 6h0m16-1h0m163 10h0m-52 9h0m4 9h0m18 23h0m-106 6h0m92-1h0m-1 10h0m21 2h0m-44 10h0m41-2h0m-49 3h0m13 6h0m43-1h0m-81 9h0m-9 15h0m23-2h0"/><path stroke="#72c7a7" d="M0 0m215 81h0m-132 20h0m122-2h0m8 6h0m-8 1h0m-2 8h0m27 0h0m-44 11h0m-131 1h0m131 3h0m10 0h0m-152 2h0m53-1h0m96 2h0m6 1h0m-132 6h0m15 2h0m90 3h0m59 2h0m-164 2h0m134 0h0m45 2h0m-52 3h0m59-1h0m-82 2h0m-85 8h0m158 3h0m14-1h0m-186 4h0m117 0h0m14 0h0m2 0h0m-120 9h0m119 0h0m-114 3h0m114 1h0m1 16h0m48 2h0m-57 22h0m5 1h0m14-3h0m28 6h0m-138 5h0m136 16h0m-49 9h0m22 1h0m-11 4h0m0 9h0m-49 14h0m7 6h0m-28 4h0m26-2h0m48 0h0m0 6h0m-59 2h0"/><path stroke="#74c79f" d="M0 0m148 61h0m-74 19h0m12 1h0m7 11h0m-27 5h0m131 0h0m-132 3h0m156 4h0m-165 2h0m49 15h0m108 1h0m-95 1h0m-35 6h0m23 0h0m19 4h0m92 0h0m-21 5h0m-119 2h0m-6 3h0m176 3h0m-172 1h0m-10 6h0m9-1h0m176-1h0m-59 6h0m23 8h0m-15 5h0m13-4h0m-130 10h0m9 1h0m154-1h0m-6 16h0m1 9h0m8 28h0m-48 8h0m20-2h0m23 1h0m-15 24h0m-83 27h0m52 15h0"/><path stroke="#76c897" d="M0 0m147 23h0m-28 14h0m1 10h0m-10 5h0m46 5h0m-62 20h0m36-1h0m-26 5h0m17-1h0m12 1h0m87-2h0m-23 7h0m27-3h0m-112 7h0m30 0h0m81-4h0m-151 7h0m50 0h0m-58 12h0m38 1h0m-43 3h0m186 0h0m-5 2h0m-114 6h0m-50 3h0m19 5h0m-3 6h0m135 5h0m-17 5h0m-124 5h0m8 2h0m-2 4h0m5 5h0m128-3h0m11 21h0m-15 12h0m1 31h0m-113 13h0m60 43h0m42-2h0m-18 3h0"/><path stroke="#7dc992" d="M0 0m132 34h0m36 1h0m-16 6h0m3 22h0m-41 5h0m9 4h0m38 0h0m-63 10h0m-25 2h0m42 6h0m38-1h0m14 1h0m-40 2h0m-18 4h0m10 1h0m101 0h0m-115 5h0m8 3h0m-7 3h0m42-1h0m76 3h0m-154 4h0m25 6h0m35 0h0m113-1h0m-134 4h0m19 11h0m75 2h0m7 26h0m17 6h0m17 42h0m-15 19h0m-13 9h0"/><path stroke="#89ce8f" d="M0 0m130 30h0m28 2h0m-33 21h0m-24 1h0m49 3h0m1 11h0m-15 5h0m23-1h0m-47 13h0m26-2h0m-39 9h0m50 1h0m-67 11h0m33 11h0m124 9h0m-123 10h0m-16 8h0m119 12h0"/><path stroke="#96d28c" d="M0 0m190 30h0m-33 29h0m-5 7h0m23-2h0m-7 3h0m-13 5h0"/><path stroke="#a2d58a" d="M0 0m178 22h0m0 20h0m-18 11h0m-26 59h0"/><path stroke="#b1da88" d="M0 0m173 37h0m-5 10h0m12 7h0m-1 5h0"/><path stroke="#cbdc5b" d="M0 0m181 38h0m0 13h0m5 17h0"/><path stroke="#dde059" d="M0 0m203 47h0m-15 5h0m-5 13h0m113 99h0"/><path stroke="#f4e055" d="M0 0m263 108h0m20 41h0"/><path stroke="#f5d753" d="M0 0m269 129h0m20 1h0m-21 20h0m22 23h0m6 6h0"/><path stroke="#f6cd52" d="M0 0m267 144h0m-4 6h0"/><path stroke="#f7c450" d="M0 0m283 116h0m-2 71h0"/><path stroke="#f6ba50" d="M0 0m284 199h0"/><path stroke="#ec984f" d="M0 0m258 172h0m10 36h0"/></g>
<g transform="translate(167.7,305.4) scale(0.25)" fill="none" stroke-width="6.8" stroke-linecap="round"><path stroke="#26267c" d="M0 0m231 85h0"/><path stroke="#253086" d="M0 0m207 78h0m-6 8h0m36 10h0m-37 9h0"/><path stroke="#253b91" d="M0 0m212 79h0m12 9h0m3 2h0m-23 3h0m20 7h0m4 1h0m6-2h0m5 2h0"/><path stroke="#24459b" d="M0 0m221 80h0m-15 5h0m27 1h0m-23 0h0m-4 6h0m6-1h0m17 1h0m-35 3h0m12 0h0m10 1h0m1 5h0m8 5h0m4-2h0m-22 4h0m8 4h0m6 3h0"/><path stroke="#2350a6" d="M0 0m217 77h0m-16 4h0m29 2h0m-38 5h0m3 2h0m20-3h0m-27 5h0m4-2h0m25 1h0m27 0h0m-64 4h0m2 3h0m21-1h0m25 0h0m10 1h0m-51 1h0m-1 7h0m12-4h0m36 3h0m11-1h0m-47 3h0m19-1h0m-23 5h0m39 0h0m-18 6h0m19 1h0m17-2h0m-67 3h0m14 1h0m3-1h0m36 4h0m8 2h0m-21 3h0"/><path stroke="#225baf" d="M0 0m224 78h0m-2 13h0m19 1h0m-12 3h0m-48 6h0m32-1h0m7 2h0m24-1h0m-60 5h0m54-2h0m-65 8h0m19 2h0m5-2h0m33 0h0m-34 2h0m30 3h0m13-2h0m5 1h0m-53 3h0m41 0h0m8 2h0m10 2h0m2 0h0m-51 5h0m41 6h0"/><path stroke="#2066b4" d="M0 0m189 94h0m21 0h0m-38 12h0m19 0h0m9 7h0m7 1h0m12-3h0m18 2h0m-56 2h0m-8 4h0m6 2h0m29 1h0m12-3h0m-41 5h0m39-1h0m7-1h0m-7 6h0m29 0h0m-11 3h0m3 6h0m-28 6h0m27-1h0"/><path stroke="#1e71b8" d="M0 0m190 101h0m-12 6h0m33 7h0m-33 1h0m-19 5h0m55-2h0m39 3h0m-70 4h0m8 1h0m7-2h0m-6 5h0m8-2h0m41 2h0m-91 3h0m11 0h0m5-1h0m21 2h0m25-1h0m9-2h0m10 1h0m17 0h0m-41 6h0m15-1h0m1 2h0m14-3h0m9 1h0m5-2h0m4 2h0m-90 5h0m21-2h0m34 1h0m9 1h0"/><path stroke="#1c7cbd" d="M0 0m178 111h0m8 2h0m-14 3h0m49 10h0m-62 1h0m1-1h0m5 3h0m48-3h0m11 1h0m-69 4h0m19 3h0m8-3h0m-2 7h0m2-2h0m50 0h0m5 2h0m-53 1h0m-28 5h0m23-1h0m36 3h0m13-4h0m23 4h0m-75 4h0m22 0h0m8-1h0m6-2h0m-60 7h0m8-3h0m22 1h0m17 2h0m9-1h0m6 0h0m16 5h0"/><path stroke="#1a88c2" d="M0 0m165 115h0m48 16h0m-62 3h0m7 2h0m20 0h0m-8 4h0m2 1h0m20 0h0m57 0h0m-80 5h0m16 0h0m52-3h0m-87 5h0m21 0h0m12-2h0m37 2h0m1-2h0m4 4h0m15-1h0m-105 4h0m10-1h0m20-2h0m39 4h0m27-4h0m-90 5h0m20 2h0m17-3h0m47 2h0m-23 3h0m11 0h0m10-1h0m10 1h0m-90 9h0m2 5h0m3 0h0m-45 17h0"/><path stroke="#1991c3" d="M0 0m208 140h0m10-1h0m-77 6h0m5-3h0m1 1h0m7 1h0m40 0h0m5 0h0m1 1h0m-31 5h0m13 0h0m12 0h0m-44 7h0m37-2h0m50-1h0m8 4h0m4-3h0m-114 6h0m81-2h0m14 3h0m21-2h0m-77 6h0m75-2h0m-4 2h0m-114 19h0m-15 3h0m-5 4h0m2 5h0"/><path stroke="#1895b7" d="M0 0m149 154h0m8-2h0m73 1h0m16 0h0m-114 4h0m14 1h0m23-3h0m-29 5h0m13 0h0m55 1h0m-84 5h0m23-1h0m6-3h0m5 3h0m30-1h0m3-2h0m10 2h0m5-1h0m19 0h0m9 2h0m-114 2h0m71 0h0m40 2h0m24 0h0m-121 3h0m7 0h0m37 2h0m18-1h0m-56 3h0m35 0h0m-41 5h0m36-2h0m-55 5h0m30 2h0m-31 14h0m-9 3h0m-10 5h0m-2 7h0m2 0h0m2 11h0m-11 15h0m-9 9h0"/><path stroke="#189aaa" d="M0 0m136 151h0m29 1h0m46 2h0m-29 4h0m-18 2h0m13-1h0m44 2h0m21 0h0m-93 5h0m13-4h0m14 1h0m64 0h0m16 1h0m-104 4h0m63 0h0m19-1h0m17 0h0m-130 4h0m10 0h0m23 3h0m15-2h0m44-1h0m29 2h0m8-2h0m-27 4h0m7-1h0m23 1h0m-125 7h0m29-1h0m-52 9h0m21 3h0m6 0h0m-30 4h0m8-1h0m169 0h0m-13 2h0m-146 5h0m13 0h0m145 2h0m-188 7h0m7-1h0m8 8h0m-14 14h0m-10 4h0m1 3h0m17-2h0"/><path stroke="#189e9e" d="M0 0m136 157h0m62 1h0m-25 3h0m-39 7h0m7 1h0m27-1h0m7 6h0m71 0h0m-60 0h0m-61 5h0m8 0h0m6 2h0m48-2h0m10 2h0m-79 1h0m5 4h0m3-3h0m9 2h0m46-2h0m1 6h0m-65 4h0m1 1h0m10 0h0m139-1h0m-144 2h0m151 1h0m-169 2h0m42 3h0m128 0h0m-163 4h0m0-3h0m-6 5h0m10 2h0m-17 3h0m9-2h0m-23 22h0m6 7h0m13 7h0m-21 3h0m23 0h0"/><path stroke="#17a291" d="M0 0m178 166h0m80 4h0m-54 1h0m13 2h0m7 1h0m-47 2h0m17 2h0m12-4h0m1 3h0m31 0h0m17-2h0m-127 4h0m23-1h0m17 2h0m14-1h0m26 1h0m3 1h0m39-2h0m-31 4h0m25 1h0m-26 5h0m24-3h0m-96 7h0m107-3h0m-115 5h0m45 1h0m92-2h0m-159 11h0m30-3h0m117 1h0m5 0h0m-168 14h0m17 1h0m11 0h0m30 1h0m-53 6h0m15-1h0m-18 3h0m1 4h0m-3 6h0m14 5h0m-15 4h0m-19 8h0m23-3h0m-25 7h0"/><path stroke="#19a485" d="M0 0m269 167h0m-42 9h0m-77 6h0m60-3h0m-36 5h0m0 2h0m63-4h0m12 1h0m4 2h0m13-3h0m-119 6h0m12 0h0m27 1h0m9-2h0m13 1h0m52-2h0m14 1h0m-124 3h0m9 0h0m13 3h0m9-1h0m13-2h0m18 1h0m-77 7h0m11-1h0m2 0h0m28-2h0m45 2h0m-56 3h0m81 1h0m-115 2h0m27 0h0m4 2h0m-22 2h0m21 0h0m51 0h0m24 1h0m-111 2h0m3 1h0m5 0h0m25-1h0m49 0h0m3 2h0m-90 3h0m39 2h0m6-3h0m78 3h0m-142 3h0m23 0h0m64 1h0m53-2h0m-92 5h0m58 2h0m-92 1h0m18 0h0m-40 4h0m26 1h0m-8 17h0m-20 6h0m-18 6h0m22 0h0m-14 1h0"/><path stroke="#1da578" d="M0 0m268 172h0m-49 6h0m15 1h0m42 0h0m-134 5h0m26 2h0m99-1h0m2 0h0m-115 2h0m46 2h0m45-1h0m4 1h0m17-2h0m13 2h0m-114 4h0m2-3h0m19 1h0m35 2h0m28-2h0m-85 5h0m7 1h0m19-1h0m8 0h0m62 1h0m-67 3h0m57 0h0m-96 2h0m13 2h0m5-1h0m20 2h0m4-3h0m17 1h0m18 1h0m12 1h0m-123 5h0m33-3h0m18 1h0m45-1h0m-76 6h0m11-1h0m13-1h0m7-1h0m21 1h0m10 0h0m38 2h0m27-1h0m3 2h0m-126 0h0m28 0h0m19 1h0m89 2h0m-158 4h0m14-1h0m16-1h0m13 3h0m44-3h0m-78 7h0m18 4h0m21-3h0m-21 6h0m55-2h0m-79 8h0m13 1h0m30 0h0m-23 3h0m-47 11h0m52-2h0"/><path stroke="#21a56c" d="M0 0m259 153h0m-44 25h0m15 4h0m2-4h0m-43 5h0m22 3h0m15-3h0m60 3h0m-60 2h0m9-2h0m-31 6h0m20 2h0m21-2h0m-75 4h0m43 2h0m4-4h0m10 1h0m2 2h0m-71 1h0m20 2h0m43 1h0m4-1h0m21-2h0m37 4h0m10 0h0m-151 3h0m35 1h0m44-1h0m4 0h0m14 0h0m23 0h0m-114 2h0m2 3h0m20-3h0m12 1h0m24-1h0m-60 3h0m36 1h0m42 2h0m11 0h0m27-1h0m-137 5h0m22 0h0m5-2h0m16 1h0m19 2h0m10-2h0m12 1h0m-81 2h0m19 0h0m101 3h0m-75 2h0m-21 2h0m2 5h0m30 0h0m-14 6h0m25-3h0m34 2h0m-84 4h0m-20 9h0m12 0h0m21-2h0m86 1h0m-161 12h0m1 5h0"/><path stroke="#24a55f" d="M0 0m273 164h0m12 3h0m-8 6h0m1 7h0m-85 9h0m40 4h0m1 9h0m-33 1h0m4-1h0m-72 5h0m126 3h0m-62 2h0m34 1h0m58-3h0m-81 5h0m7 0h0m16 2h0m-92 4h0m5 0h0m22 1h0m106-1h0m-129 5h0m56 0h0m38 0h0m3-2h0m-100 2h0m31 4h0m20 0h0m21-1h0m5 1h0m7-2h0m-89 4h0m51-2h0m60 1h0m-93 4h0m89 2h0m-120 3h0m6 0h0m34 1h0m10 1h0m24-3h0m40 1h0m-100 3h0m34 1h0m-52 3h0m49 2h0m-46 1h0m15 2h0m16 1h0m88-3h0m-112 6h0m-37 12h0m-9 3h0m28 11h0m-9 4h0"/><path stroke="#28a652" d="M0 0m261 160h0m-66 30h0m37 2h0m-1 10h0m-16 0h0m4 11h0m-35 1h0m51 4h0m-29 1h0m20 0h0m-46 7h0m2-3h0m29 2h0m7-1h0m6 0h0m45 2h0m-82 2h0m9 2h0m6-4h0m-74 6h0m39-2h0m72 2h0m-57 4h0m6 1h0m-35 4h0m24-1h0m11-1h0m2 2h0m12-1h0m5-2h0m23 3h0m12-2h0m1 3h0m-113 3h0m8-2h0m24 3h0m11-2h0m11 2h0m9-2h0m51 1h0m5 0h0m-105 5h0m42-4h0m8 2h0m2-2h0m-60 7h0m24-3h0m12 3h0m43-1h0m-103 6h0m3-3h0m25 0h0m35 5h0m64 0h0m-130 5h0m29-2h0m7 2h0m89 4h0m-148 2h0m124 7h0m6-2h0m10 1h0m-111 2h0m14 0h0m36 5h0m-52 3h0m97 1h0m-102 4h0m20 9h0m16-3h0m53 1h0"/><path stroke="#34a94a" d="M0 0m255 147h0m41 8h0m-12 6h0m20 15h0m3 3h0m-1 4h0m-74 4h0m56 6h0m-31 9h0m-42 9h0m25 4h0m-56 10h0m36-1h0m11-1h0m0 1h0m-37 2h0m16 8h0m11-2h0m14 1h0m-45 4h0m15-3h0m10 2h0m-37 10h0m37-2h0m11 1h0m3 0h0m7-1h0m-62 6h0m28-1h0m18 1h0m-71 4h0m4-4h0m9 3h0m4 0h0m-46 2h0m15 4h0m3 2h0m4-2h0m34 2h0m60 0h0m-132 2h0m23 0h0m9 0h0m16 0h0m7 0h0m10-1h0m5 1h0m56 0h0m-90 4h0m-29 7h0m52-4h0m67 0h0m-104 7h0m-22 4h0m17-1h0m-24 4h0m2 1h0m35 0h0m37-3h0m51 1h0m-21 5h0m-96 6h0m89-2h0m2 2h0m-61 8h0m20-1h0m-1 5h0m2 5h0"/><path stroke="#48b045" d="M0 0m298 142h0m-26 5h0m25 1h0m-13 11h0m5 0h0m5 0h0m-2 20h0m-91 11h0m93-1h0m-70 27h0m-5 6h0m-17 7h0m35 8h0m-24 4h0m11-2h0m-20 4h0m7 2h0m-12 6h0m11 2h0m2-2h0m-34 4h0m61 1h0m-27 3h0m-115 5h0m32-1h0m80-1h0m19 0h0m-127 8h0m50-2h0m72 0h0m-108 5h0m27 0h0m8-1h0m-22 3h0m75 3h0m16-3h0m4 2h0m-41 5h0m29-1h0m3 0h0m-98 3h0m12 3h0m88 1h0m-13 9h0m-59 5h0m6 0h0m22-3h0m-14 5h0m5 1h0m22-1h0m-51 3h0"/><path stroke="#5db740" d="M0 0m251 119h0m31 10h0m3 4h0m9 19h0m10 0h0m1 3h0m-14 7h0m17 7h0m-59 36h0m8 0h0m1 9h0m-31 34h0m-20 3h0m22 0h0m3 2h0m1 1h0m-77 4h0m37-1h0m5-2h0m-76 3h0m28 3h0m58-1h0m21 1h0m-50 2h0m55 2h0m-117 5h0m7-3h0m35 1h0m38 2h0m-63 2h0m37-1h0m35 0h0m7 0h0m3 2h0m-116 1h0m0 2h0m37 2h0m2-2h0m14 0h0m23 2h0m15-1h0m-95 2h0m68 1h0m34 2h0m10-1h0m-22 4h0m-60 3h0m41 0h0m26 1h0m-50 4h0m5-1h0m5 0h0m6-2h0m23 2h0m7-1h0m-36 5h0m16-2h0m13 5h0"/><path stroke="#71bd3c" d="M0 0m274 119h0m-15 11h0m6 1h0m-9 7h0m3-3h0m5 1h0m23-2h0m-18 5h0m-13 6h0m29 8h0m15 3h0m-184 106h0m81 0h0m-77 6h0m22 0h0m12 0h0m22 4h0m7-1h0m-25 5h0m46-1h0m-63 7h0m14-3h0m33 0h0m17 0h0m-28 3h0m16 2h0m-55 3h0m40 1h0m9 1h0m10-1h0m-25 4h0m22 4h0m-5 3h0m-28 4h0m18 1h0"/><path stroke="#8bc538" d="M0 0m277 111h0m-20 4h0m25 4h0m-24 6h0m22 1h0m-11 6h0m9 7h0m10 5h0m7 29h0m-76 81h0m-25 11h0m6-2h0m-11 4h0m-8 5h0m17 1h0m3 1h0m-18 4h0m-24 5h0m41 1h0m-50 3h0m2 0h0m27 6h0m-11 6h0m6 4h0m16 0h0"/><path stroke="#a8ce34" d="M0 0m284 139h0m-96 126h0m29 2h0m-67 10h0m45 3h0m-15 10h0m-2 7h0m-8 12h0"/><path stroke="#c6d630" d="M0 0m167 282h0"/><path stroke="#f2a622" d="M0 0m63 184h0m-2 28h0"/><path stroke="#f09621" d="M0 0m192 37h0m-85 11h0m-56 66h0m13 2h0m36 15h0m-12 3h0m9 2h0m-29 22h0m-10 2h0m-23 8h0m56-1h0m-18 6h0m20-1h0m-69 2h0m16 2h0m31 7h0m-24 4h0m29 3h0m4 2h0m-50 6h0m20 0h0m4 4h0m-22 1h0m35 2h0m-36 1h0m11 18h0"/><path stroke="#ee8721" d="M0 0m160 20h0m-2 10h0m37 20h0m-83 7h0m70 0h0m-54 10h0m-40 12h0m-12 7h0m23 2h0m42 2h0m-63 10h0m33 1h0m13 4h0m-55 2h0m44 2h0m-71 2h0m45 1h0m-43 9h0m5 0h0m42 0h0m31 0h0m3 1h0m-86 8h0m30-3h0m31 0h0m-41 6h0m1 3h0m13 1h0m13 2h0m6 0h0m15 0h0m-61 6h0m20 0h0m17 1h0m-2 4h0m11-1h0m-64 1h0m6 2h0m10 0h0m51 0h0m-53 5h0m6-2h0m28 0h0m15 2h0m-29 2h0m3 2h0m20-1h0m-56 3h0m22 0h0m7 2h0m18-1h0m20-1h0m4 1h0m-57 5h0m12-3h0m1 2h0m21 2h0m8-3h0m-53 7h0m24-2h0m11 2h0m29-4h0m-11 4h0m-59 4h0m4 1h0m15 0h0m21 3h0m-48 4h0m24 0h0m10-1h0m23-1h0m3 3h0m-5 4h0m-16 6h0m4 0h0m5 5h0m-16 4h0m21 4h0m-23 9h0m13 0h0m-13 5h0"/><path stroke="#ec7720" d="M0 0m163 30h0m21-1h0m-3 6h0m-59 6h0m-11 2h0m2 0h0m27 0h0m10 3h0m36-1h0m5-2h0m-66 4h0m39 1h0m12 0h0m-23 4h0m-66 5h0m11 0h0m7-3h0m33 3h0m62 0h0m-108 4h0m13 0h0m-6 4h0m64-1h0m5-1h0m-34 5h0m17 2h0m21-1h0m20-3h0m-114 4h0m19 1h0m31 3h0m39-3h0m6 2h0m-47 2h0m-51 3h0m34 3h0m45 0h0m-65 3h0m16 1h0m10-3h0m32 4h0m-86 2h0m6-1h0m13 3h0m1-4h0m15 1h0m39 0h0m20 0h0m10 1h0m-109 5h0m5-2h0m46 2h0m52-2h0m-98 5h0m63 0h0m-52 2h0m42 4h0m17 0h0m-78 4h0m25-1h0m19 0h0m18-1h0m13 0h0m-37 6h0m15-3h0m-30 4h0m7 0h0m3 2h0m12 0h0m10-1h0m19-2h0m-70 11h0m6 0h0m2-1h0m36 0h0m12 0h0m-77 3h0m12 0h0m29 1h0m-42 5h0m17 1h0m5-3h0m20 2h0m44 1h0m-59 1h0m26-1h0m17 4h0m-68 1h0m13 3h0m12-1h0m3-2h0m7 0h0m5 0h0m6-1h0m39 1h0m-80 3h0m9 1h0m51-1h0m-49 5h0m23 0h0m29 3h0m4-3h0m-74 4h0m10-1h0m8 2h0m8 1h0m9-2h0m29 0h0m16 3h0m-66 1h0m12 1h0m40 1h0m-72 2h0m11 1h0m45-2h0m15 4h0m6-3h0m-80 4h0m7 2h0m12 0h0m9-3h0m-19 6h0m37 0h0m20-2h0m-28 5h0m19 1h0m-62 4h0m30-1h0m44 2h0m-26 4h0m-44 3h0m18 1h0m9 1h0m5-1h0m30 2h0m-61 5h0m42 0h0m2 8h0m-7 7h0m8 1h0m-28 13h0m18 0h0m-19 2h0"/><path stroke="#e9681f" d="M0 0m164 18h0m6 7h0m-37 3h0m20 1h0m-43 4h0m36 0h0m-27 3h0m18-1h0m-12 5h0m20-1h0m5 0h0m45 1h0m-89 5h0m39-1h0m12-1h0m24-1h0m15 2h0m-81 3h0m18 3h0m40-2h0m20 1h0m-102 3h0m31 1h0m13-1h0m4 0h0m3 2h0m23-2h0m41 2h0m-99 3h0m15 0h0m6 0h0m9 1h0m37-1h0m20 0h0m2-1h0m-85 5h0m4-3h0m21 3h0m26-2h0m-85 5h0m10-1h0m37 0h0m14-1h0m7 1h0m13 0h0m40 0h0m-112 3h0m7 3h0m26 0h0m6-2h0m15 1h0m23-1h0m-82 4h0m4 0h0m25 2h0m9 0h0m-47 4h0m34 0h0m6 0h0m24 0h0m3-1h0m4 0h0m12 2h0m13-1h0m16 1h0m-117 3h0m10 0h0m4-1h0m49 0h0m28-1h0m-58 4h0m31 4h0m-53 3h0m8 3h0m45-2h0m34 1h0m-78 2h0m6 2h0m1 1h0m40-2h0m15 1h0m5-1h0m-98 6h0m15 0h0m22-2h0m34 0h0m6 3h0m5-1h0m7-2h0m3 0h0m-51 4h0m-48 6h0m70-2h0m29 3h0m-86 1h0m4-1h0m33 2h0m44-1h0m-53 5h0m19 0h0m12 0h0m9 0h0m6 2h0m3-2h0m6 0h0m-93 5h0m28-1h0m8 1h0m26-3h0m-81 6h0m9-1h0m21 2h0m17-2h0m26 0h0m20 3h0m-78 3h0m37-2h0m45 0h0m5-1h0m-93 7h0m87-3h0m-99 8h0m70-3h0m11 0h0m-15 4h0m20 1h0m-81 4h0m21 1h0m8-2h0m26 0h0m25 1h0m3 2h0m-30 4h0m17-2h0m3-1h0m-28 11h0m-2 0h0m-52 7h0m22-1h0m17-1h0m-39 3h0m75 2h0m-21 5h0m0 14h0m5 3h0m-13 18h0m-19 11h0m3 4h0"/><path stroke="#df5e1f" d="M0 0m145 19h0m19 4h0m10 5h0m5 1h0m-55 2h0m12 2h0m20-2h0m19 2h0m-21 5h0m10-3h0m14 0h0m8 2h0m-71 3h0m13-1h0m5 0h0m8 1h0m26-2h0m9 2h0m-45 5h0m5-1h0m13-2h0m23 3h0m13 1h0m-89 1h0m4 0h0m12 1h0m27 0h0m20 0h0m15 4h0m17 1h0m5-2h0m-106 5h0m79-2h0m-75 8h0m8-3h0m81 2h0m3-3h0m-117 6h0m48 0h0m5-2h0m65 1h0m-109 4h0m29 1h0m9 2h0m44-3h0m17-1h0m-33 6h0m32 1h0m-92 4h0m29-1h0m9 1h0m22 4h0m18-2h0m-75 6h0m78-1h0m-51 4h0m13 0h0m8 1h0m32-1h0m-100 3h0m28 1h0m11 4h0m11-1h0m15 2h0m10-2h0m16-1h0m-94 8h0m20-3h0m15 0h0m22 1h0m14 6h0m5 0h0m-68 2h0m13-2h0m56 4h0m2-3h0m10 2h0m0-1h0m-109 6h0m15 0h0m9 0h0m8 2h0m5-2h0m21 3h0m33-2h0m2 3h0m-63 3h0m-3 3h0m-1 5h0m55-1h0m8 1h0m-100 4h0m57 2h0m-34 4h0m54 2h0m-16 3h0m-49 3h0m32 24h0"/><path stroke="#d5561e" d="M0 0m133 24h0m4 4h0m7 1h0m41 0h0m-38 4h0m39-1h0m-23 12h0m4 1h0m-36 2h0m21 1h0m31-2h0m-69 6h0m87 0h0m-100 10h0m77 1h0m-98 6h0m15-2h0m-6 5h0m10 0h0m4 4h0m23 6h0m40 1h0m-26 4h0m19 0h0m-82 10h0m24-2h0m54 4h0m-26 10h0m-17 20h0m1 1h0m6 11h0m6-3h0m-69 14h0m-28 7h0"/><path stroke="#ca4d1e" d="M0 0m112 40h0m14 2h0m6 20h0m13 7h0m-54 6h0m82 7h0m-51 3h0m-4 26h0m-11 5h0"/><path stroke="#bf451d" d="M0 0m157 40h0"/><path stroke="#7481b6" d="M0 0m223 86h0m-3 11h0"/><path stroke="#7487bd" d="M0 0m224 83h0m0 27h0"/><path stroke="#748dc3" d="M0 0m215 81h0m5-2h0m-19 23h0m29 12h0m13 5h0"/><path stroke="#7394ca" d="M0 0m197 97h0m8 2h0m16 5h0m-40 4h0m24-2h0m35 5h0m-53 8h0m52 5h0"/><path stroke="#729bcf" d="M0 0m197 86h0m-19 14h0m35 5h0m-45 2h0m44 2h0m33 0h0m-56 3h0m-22 12h0m3 9h0"/><path stroke="#71a1d2" d="M0 0m203 114h0m10 8h0m-42 7h0m46 4h0m-14 3h0"/><path stroke="#70a8d4" d="M0 0m174 124h0m22 5h0m-3 3h0m6 1h0m32 13h0m4 4h0m11 0h0"/><path stroke="#6faed7" d="M0 0m164 122h0m2-1h0m-2 4h0m22 0h0m-45 10h0m55 3h0m-43 2h0m57 1h0m-49 4h0m40 3h0"/><path stroke="#6eb6da" d="M0 0m205 131h0m22 5h0m-71 4h0m91 6h0m-8 8h0m11-3h0m3 1h0"/><path stroke="#6dbbdb" d="M0 0m186 129h0m-36 11h0m22 4h0m-18 6h0m65 4h0m6 0h0m-56 6h0m-44 5h0m41-2h0m-1 3h0m24 2h0m23-2h0m-125 51h0"/><path stroke="#6cbdd4" d="M0 0m194 153h0m-23 1h0m20 3h0m-10 4h0m-51 2h0m114 2h0m-118 8h0m64-1h0m-74 5h0m29 1h0m17 3h0m-55 8h0m3-1h0m67-2h0m-55 11h0"/><path stroke="#6cc0cc" d="M0 0m138 149h0m72 13h0m4 3h0m44-1h0m-99 6h0m40 0h0m4-2h0m-75 40h0m-23 3h0"/><path stroke="#6cc3c5" d="M0 0m205 168h0m22 0h0m-63 5h0m-7 4h0m47 0h0m32-2h0m-83 17h0m-51 13h0m21-1h0m-14 27h0"/><path stroke="#6cc5bd" d="M0 0m128 167h0m56 8h0m-29 6h0m-16 5h0m39-2h0m-59 3h0m45 2h0m-36 10h0m125 0h0m-148 31h0m9 2h0"/><path stroke="#6dc6b6" d="M0 0m258 172h0m-13 4h0m-41 5h0m-23 21h0m103-3h0m-16 9h0m-159 19h0m17 0h0m-51 13h0"/><path stroke="#6fc7ae" d="M0 0m153 177h0m41 3h0m27 7h0m-34 9h0m-48 5h0m111-3h0m-62 8h0m13-1h0m-64 10h0m28 14h0m-33 4h0m4 2h0m6 0h0m16 1h0"/><path stroke="#72c7a7" d="M0 0m240 183h0m-1 9h0m-72 18h0m35 6h0m-10 3h0m4 2h0m47 4h0m-102 8h0m21 0h0m54 5h0m-68 0h0m-34 7h0m34-2h0m-2 12h0"/><path stroke="#74c79f" d="M0 0m281 187h0m-76 10h0m35 4h0m-42 6h0m-21 6h0m67-3h0m-65 11h0m-1 8h0m51 0h0m19 0h0m-104 3h0m13 0h0m17 3h0m26 2h0m43-1h0m-23 3h0m-64 4h0m21 6h0m-8 9h0m-36 35h0"/><path stroke="#76c897" d="M0 0m176 216h0m-4 3h0m29 3h0m5 22h0m35 2h0m-124 5h0m88 3h0m-107 15h0"/><path stroke="#7dc992" d="M0 0m268 150h0m-80 49h0m34 19h0m-7 1h0m-38 17h0m43-1h0m-36 6h0m-21 7h0m-52 6h0m73 0h0m42 2h0m-97 4h0m30 0h0m-57 4h0m62-1h0m-42 21h0m-12 2h0m24 4h0m-1 6h0"/><path stroke="#89ce8f" d="M0 0m263 150h0m-81 99h0m-20 9h0m30-3h0m11 0h0m11 1h0m-11 4h0m-56 3h0m35 3h0m41-2h0m-104 9h0m43-1h0m7 2h0m61-2h0m-123 7h0m23 12h0m77 6h0"/><path stroke="#96d28c" d="M0 0m289 130h0m-22 14h0m23 29h0m6 6h0m-190 91h0m101 21h0m-67 5h0m8 3h0m20 3h0m29 0h0"/><path stroke="#a2d58a" d="M0 0m283 116h0m0 33h0m13 15h0m-68 96h0m-51 9h0m-43 2h0m77 1h0m-18 3h0m-44 6h0m20-1h0m-24 7h0m16 2h0m2 5h0m2 4h0"/><path stroke="#b1da88" d="M0 0m263 108h0m-89 159h0m13 6h0m-16 6h0m-17 4h0"/><path stroke="#cbdc5b" d="M0 0m189 255h0m14 14h0m-11 2h0m-33 20h0"/><path stroke="#dde059" d="M0 0m269 129h0"/><path stroke="#f7c450" d="M0 0m32 181h0m39 8h0m-22 4h0m31 3h0"/><path stroke="#f6ba50" d="M0 0m93 92h0m33 25h0m-95 54h0m27 7h0m11 12h0m-40 12h0"/><path stroke="#f5b150" d="M0 0m178 42h0m8 26h0m-113 16h0m10 17h0m22 1h0m-56 12h0m6 12h0m-11 5h0m53-1h0m-30 9h0m0 9h0m27 0h0m-57 10h0m-9 8h0m40 1h0m4 1h0m-37 8h0m27 1h0m29 0h0m-1 3h0m-58 6h0m55 2h0m-26 6h0m-9 2h0m4 15h0"/><path stroke="#f4a74f" d="M0 0m147 23h0m11 9h0m-39 5h0m49-2h0m-8 18h0m21-2h0m-33 10h0m3 7h0m10 4h0m-87 8h0m47 0h0m-9 5h0m55 5h0m-95 3h0m50 0h0m27 0h0m-83 4h0m53 0h0m-43 23h0m19 0h0m14 3h0m-26 6h0m42 4h0m-75 2h0m2 0h0m-14 5h0m39 0h0m-49 2h0m8 3h0m50 1h0m-21 7h0m-16 3h0m-29 21h0m53-1h0m12 1h0m-45 4h0m13 11h0m11 16h0m-6 9h0"/><path stroke="#f29e4f" d="M0 0m130 30h0m2 4h0m41 3h0m-21 4h0m-32 6h0m48 0h0m-43 6h0m55 1h0m-79 0h0m49 3h0m6 0h0m-1 15h0m-61 5h0m36-1h0m-44 5h0m12 1h0m35-1h0m9 9h0m-43 2h0m28 0h0m-62 8h0m-14 3h0m5 3h0m3 3h0m56 6h0m-10 6h0m13 2h0m-59 8h0m33 0h0m36 3h0m-46 7h0m18 1h0m-26 10h0m18 0h0m5 5h0m-15 19h0"/><path stroke="#ec984f" d="M0 0m190 30h0m13 17h0m-15 5h0m-31 7h0m-2 4h0m20 1h0m-7 3h0m-45 5h0m36 0h0m-47 18h0m41-1h0m-44 7h0m-45 9h0m18-1h0m20 2h0m-62 6h0m30 2h0m64-2h0m-4 8h0m-35 5h0m11 4h0m-70 9h0m80-4h0m-45 9h0m4 4h0m11 15h0"/><path stroke="#e6944e" d="M0 0m178 22h0m3 16h0m-71 14h0m69 7h0m4 6h0m-47 8h0m-32 8h0m34 2h0m-25 22h0m-7 3h0"/><path stroke="#df8e4e" d="M0 0m152 66h0m-38 2h0m1 22h0m33 17h0"/></g>
<g transform="translate(287.7,305.4) scale(0.25)" fill="none" stroke-width="6.8" stroke-linecap="round"><path stroke="#253086" d="M0 0m165 88h0"/><path stroke="#253b91" d="M0 0m159 87h0m-19 19h0"/><path stroke="#24459b" d="M0 0m168 63h0m16 15h0m-18 5h0m1 5h0m-26 22h0m-5 8h0m-23 2h0m-21 19h0"/><path stroke="#2350a6" d="M0 0m163 67h0m29-1h0m-34 13h0m15 3h0m-8 2h0m-10 3h0m-21 8h0m4 6h0m10-2h0m-13 7h0m-6 3h0m19 1h0m-18 6h0m7 2h0m-31 5h0m29 3h0m-45 9h0"/><path stroke="#225baf" d="M0 0m162 59h0m1 5h0m-3 3h0m12 2h0m-13 22h0m6 1h0m-33 5h0m10-2h0m12 0h0m-27 4h0m6 3h0m12-3h0m-17 5h0m-9 3h0m34 1h0m-35 3h0m-11 5h0m2 0h0m16 6h0m1 4h0m-5 4h0m9-3h0m-17 3h0m5 16h0"/><path stroke="#2066b4" d="M0 0m183 61h0m-6 5h0m-33 6h0m23-1h0m9 2h0m-8 4h0m-14 4h0m8-2h0m-21 11h0m8 6h0m9-2h0m-44 8h0m17 0h0m-7 3h0m-11 4h0m30-2h0m10 2h0m-10 2h0m-8 4h0m4 1h0m-17 5h0m-10 8h0m21 0h0m-4 1h0m-41 4h0m23 1h0m-15 4h0m11 0h0m12 2h0m6-3h0m-42 8h0m5 4h0m4-1h0m7-2h0m-4 5h0m-4 5h0m-28 27h0"/><path stroke="#1e71b8" d="M0 0m186 58h0m-8 5h0m9 0h0m-14 10h0m-26 13h0m-16 1h0m9 0h0m-9 4h0m-7 5h0m-13 5h0m10-1h0m34-1h0m-57 14h0m1-1h0m28-2h0m-25 7h0m19-1h0m-33 5h0m13-1h0m13-2h0m-29 9h0m40 1h0m-25 3h0m22 4h0m-20 3h0m-26 5h0m14 0h0m4 1h0m15-1h0m6 7h0m-39 5h0m24 3h0m6-3h0m-21 5h0m11 3h0m-1 10h0"/><path stroke="#1c7cbd" d="M0 0m165 52h0m4 2h0m-11 9h0m40 0h0m-47 7h0m-8 6h0m12 2h0m-41 10h0m3 7h0m-24 4h0m4 6h0m9 2h0m-64 4h0m66 1h0m-32 4h0m14 0h0m55 0h0m-65 7h0m-3 6h0m23-2h0m5 7h0m-32 3h0m24-1h0m-41 3h0m30 0h0m24 2h0m6-1h0m-63 3h0m11 0h0m41 3h0m0 2h0m3-1h0m-7 6h0m-16 1h0m-23 5h0m38 5h0m-23 6h0m24-2h0m-16 6h0m-5 13h0m5 3h0m-19 12h0m5 8h0"/><path stroke="#1a88c2" d="M0 0m174 52h0m0 5h0m8 0h0m-37 6h0m-9 14h0m3-1h0m-12 12h0m8 1h0m-74 2h0m25 2h0m-9 4h0m17 0h0m7-2h0m-29 3h0m25 5h0m18 1h0m-30 2h0m6 4h0m-5 3h0m1-1h0m4 9h0m-28 4h0m-15 4h0m-15 4h0m39 2h0m5 0h0m23 0h0m-54 10h0m20 0h0m49-1h0m-45 3h0m-2 11h0m12 0h0m-15 3h0m13-3h0m211 1h0m-260 4h0m29 2h0m14-1h0m4 0h0m-20 4h0m27 0h0m2-1h0m-12 6h0m4-2h0m3 2h0m13-1h0m-48 7h0m42 4h0m-14 8h0m3-1h0m-6 6h0m1 8h0m186-2h0m-204 17h0"/><path stroke="#1991c3" d="M0 0m159 48h0m5 0h0m31 2h0m-4 3h0m5-2h0m5 1h0m5 2h0m-10 2h0m4 1h0m-60 11h0m5 1h0m-15 11h0m14 1h0m-83 7h0m38 0h0m36-1h0m-79 6h0m39-1h0m12 1h0m-14 3h0m-15 4h0m-2 11h0m7 0h0m-39 3h0m20 2h0m4-2h0m13 0h0m-7 7h0m6-1h0m-44 3h0m35 1h0m6 0h0m-25 6h0m17-3h0m1 2h0m-8 2h0m26-1h0m-58 8h0m53-4h0m173 4h0m0 7h0m32-1h0m-207 6h0m174-3h0m-227 3h0m28 2h0m5 0h0m-35 7h0m28-1h0m-28 7h0m66-3h0m-28 5h0m32 3h0m-72 4h0m45 3h0m-43 1h0m4 1h0m13 2h0m23 1h0m212-2h0m29-1h0m-289 7h0m24 0h0m10-1h0m23-1h0m-49 4h0m21-1h0m220 6h0m-210 4h0m4 0h0m-29 6h0m31 0h0m-2 14h0m-13 2h0"/><path stroke="#1895b7" d="M0 0m167 45h0m-15 3h0m1 4h0m-15 5h0m56 0h0m-66 17h0m-2 1h0m-49 6h0m10 4h0m35 0h0m-42 5h0m-13 1h0m-6 5h0m45 0h0m-50 5h0m28-2h0m15 0h0m-46 7h0m25-1h0m-9 2h0m-7 4h0m4-1h0m-15 4h0m1 7h0m5 0h0m8-1h0m217-1h0m-240 4h0m6 0h0m232 3h0m-241 4h0m3 3h0m217-3h0m10 2h0m-232 3h0m25 2h0m3-2h0m194 0h0m-208 4h0m218 0h0m-234 5h0m263-2h0m-263 5h0m10-1h0m16 3h0m236-1h0m-253 4h0m250 0h0m-246 3h0m-20 4h0m5 2h0m25-1h0m7 3h0m-39 3h0m9 2h0m8 1h0m48-2h0m178 0h0m-237 7h0m35 0h0m-27 2h0m264 0h0m-247 5h0m14 2h0m196 2h0m2 0h0m-201 3h0m226 1h0m-214 3h0m-50 6h0m244-2h0m-220 6h0m13 3h0m195 0h0m16 0h0m-11 7h0m3 2h0m-227 3h0m-1 2h0m6 5h0m8-1h0"/><path stroke="#189aaa" d="M0 0m174 28h0m-25 14h0m1 4h0m35 0h0m-9 2h0m-34 6h0m-4 8h0m-35 14h0m3 1h0m-39 4h0m59 1h0m-50 4h0m13-2h0m11-1h0m5 2h0m10-3h0m-48 5h0m14-1h0m15 1h0m-18 3h0m9 4h0m-16 7h0m1 7h0m205 3h0m-218 3h0m-10 7h0m202-2h0m23 0h0m-241 5h0m225 1h0m-223 4h0m24 4h0m-9 5h0m10-2h0m204 0h0m23-2h0m-245 4h0m242 1h0m-228 6h0m-3 3h0m219-1h0m-13 6h0m26 0h0m-245 3h0m256-1h0m9 0h0m-260 6h0m216-1h0m23-1h0m0 2h0m-249 3h0m13 0h0m225 0h0m18-2h0m-236 4h0m203 4h0m27-3h0m23 2h0m-287 3h0m30-1h0m217 1h0m9 1h0m18 0h0m-243 9h0m224-3h0m16 0h0m-6 7h0m20-3h0m-228 4h0m188 0h0m8 0h0m5 2h0m-19 8h0m19-1h0m-13 2h0m-3 5h0m5 0h0m-237 3h0m41 2h0m187 2h0m-198 2h0m197 2h0m22 3h0m-219 2h0m-19 5h0m227 2h0"/><path stroke="#189e9e" d="M0 0m145 19h0m34 10h0m-1 6h0m14 2h0m-47 7h0m12-1h0m-18 5h0m54 1h0m-65 8h0m9 1h0m-32 3h0m31 0h0m-67 3h0m63-2h0m-52 7h0m13 0h0m14-1h0m27 0h0m-24 5h0m-1 8h0m-45 21h0m-15 7h0m208 6h0m-213 6h0m19 0h0m-6 6h0m225 2h0m-17 2h0m20 2h0m-240 14h0m-11 5h0m270 0h0m-262 5h0m258-1h0m-6 3h0m-243 4h0m5 9h0m-31 8h0m241 2h0m9 12h0m0 7h0m8 1h0m10 0h0m-44 3h0m8 0h0m5 7h0m27-2h0m-17 11h0"/><path stroke="#17a291" d="M0 0m164 18h0m6 7h0m14 4h0m-74 4h0m26 0h0m18 5h0m32-1h0m-36 2h0m-14 5h0m4-1h0m46 2h0m10-1h0m-23 4h0m-34 4h0m-49 4h0m2 5h0m-5 2h0m-1 3h0m42 1h0m-29 5h0m-15 5h0m28 0h0m10 0h0m-47 1h0m203 61h0m-229 12h0m-20 4h0m231 31h0m28 7h0m-238 5h0"/><path stroke="#19a485" d="M0 0m160 20h0m-27 8h0m4 0h0m7 1h0m41 0h0m-39 4h0m1 0h0m39-1h0m-49 3h0m4 5h0m4-1h0m12 1h0m10-2h0m-54 5h0m50 1h0m9 1h0m19-2h0m-58 7h0m-42 2h0m44 0h0m-23 5h0m-1 4h0m-34 3h0m1 3h0m17 0h0m24 2h0m-22 2h0m-25 6h0m41-1h0m-32 4h0m7-1h0m-38 127h0"/><path stroke="#1da578" d="M0 0m133 24h0m31-1h0m-1 7h0m-7 1h0m19 2h0m6 2h0m-66 5h0m18-1h0m43 1h0m19 0h0m-64 5h0m50-3h0m-69 6h0m13-1h0m58-1h0m-96 11h0m20 0h0m15 0h0m-28 5h0m7 0h0m14-4h0m-16 7h0m25-2h0m-8 7h0m9-3h0m-47 3h0m3 1h0m8 1h0m30 1h0"/><path stroke="#21a56c" d="M0 0m153 29h0m5 1h0m-46 10h0m10 1h0m-11 2h0m-4 5h0m8-1h0m16 0h0m-17 5h0m8 1h0m-24 4h0m4 2h0m15 5h0m-32 7h0"/><path stroke="#24a55f" d="M0 0m124 31h0m-5 5h0m45-1h0m-36 4h0m-22 6h0m20-3h0m-30 5h0m4 0h0m5 7h0m17 8h0m-31 13h0"/><path stroke="#28a652" d="M0 0m125 40h0"/><path stroke="#f2a622" d="M0 0m100 217h0m3 14h0m-12 8h0m10 31h0m25 18h0"/><path stroke="#f09621" d="M0 0m213 126h0m-62 8h0m60 47h0m-93 13h0m103 3h0m-73 10h0m-17 19h0m68 0h0m-97 1h0m140 10h0m-52 4h0m6-2h0m-93 12h0m18-1h0m-6 5h0m1 7h0m11 1h0m52 0h0m-88 5h0m51 5h0m-42 3h0m-1 9h0m14 2h0m-5 5h0m20 9h0m35 4h0"/><path stroke="#ee8721" d="M0 0m234 99h0m-34 14h0m-41 7h0m23 11h0m-35 12h0m7 1h0m76 9h0m-98 4h0m42 9h0m51-3h0m17 10h0m-65 3h0m55 2h0m-64 8h0m76-2h0m5-1h0m-90 5h0m27 3h0m-40 6h0m67 1h0m16-1h0m-124 1h0m11 7h0m4-2h0m22 2h0m-22 5h0m51-2h0m45-1h0m20 1h0m-96 5h0m42-2h0m10 0h0m-75 7h0m11 0h0m63-3h0m-94 11h0m22 6h0m16 0h0m-21 10h0m39-1h0m49-1h0m41 2h0m-113 3h0m15-2h0m81 2h0m-149 5h0m41-3h0m40 0h0m86 1h0m-94 4h0m3-2h0m9 3h0m50-2h0m-84 5h0m-50 2h0m44 0h0m53 2h0m33 0h0m-124 5h0m20-2h0m5 2h0m29-2h0m21 0h0m15 0h0m-54 5h0m4-1h0m-9 6h0m19-1h0m64 1h0m15-2h0m-76 7h0m73 0h0m-95 1h0m14 0h0m26 0h0m50 0h0m-89 5h0m55-2h0m15 3h0m36-2h0m-72 4h0m17 1h0m-19 4h0m5 4h0m16-2h0m-34 8h0m9-4h0m24 1h0m2 10h0"/><path stroke="#ec7720" d="M0 0m227 90h0m14 2h0m-35 3h0m10 1h0m21 0h0m-13 4h0m20 1h0m-72 5h0m54 11h0m8 1h0m10-2h0m-46 4h0m3-1h0m31 0h0m8 2h0m-49 5h0m7-2h0m54-1h0m-52 4h0m24 0h0m17 2h0m-80 3h0m87-1h0m-68 7h0m52-2h0m5-1h0m18 1h0m-85 4h0m-29 5h0m5-3h0m33 1h0m-10 7h0m37-1h0m-2 5h0m4-1h0m23-3h0m-33 8h0m51-3h0m-114 6h0m78-2h0m3 0h0m-69 6h0m93-2h0m9 1h0m7 0h0m-115 5h0m2-1h0m48-1h0m24 1h0m19-1h0m-100 5h0m83 1h0m7 1h0m-84 2h0m46-2h0m21 3h0m12 1h0m34-3h0m-120 4h0m1 2h0m5 0h0m12-3h0m17 2h0m19-1h0m-64 7h0m19-2h0m47-1h0m12 7h0m7-2h0m24-1h0m3-1h0m14 3h0m-146 1h0m14 3h0m29 0h0m4-3h0m22 3h0m40-2h0m-110 6h0m8-1h0m80 0h0m-32 2h0m35 2h0m38 2h0m3 0h0m-129 1h0m7 2h0m65 1h0m15-1h0m33 0h0m-109 4h0m54-2h0m-80 5h0m129 1h0m21 0h0m-96 1h0m8 1h0m16 1h0m4-2h0m25 2h0m11-1h0m16 1h0m16-1h0m-118 6h0m14-1h0m3 1h0m13-2h0m54 0h0m-63 7h0m37 0h0m2-3h0m2 2h0m53 1h0m-85 0h0m18 1h0m1 3h0m20 0h0m11-1h0m0-3h0m10 3h0m-121 4h0m2-2h0m56 2h0m18-3h0m68 3h0m4-1h0m-158 5h0m72-2h0m42-1h0m20 2h0m14 0h0m-147 4h0m17-2h0m26 1h0m3 1h0m10 0h0m7 0h0m32 0h0m36 1h0m29-2h0m-138 7h0m32-3h0m42 3h0m26-3h0m11 1h0m-132 5h0m16-3h0m12 3h0m75-3h0m41 2h0m-147 6h0m69 0h0m11-4h0m6 3h0m33-2h0m11 2h0m9 1h0m13-1h0m1 1h0m7-4h0m-149 5h0m29 0h0m78 0h0m-125 6h0m22 0h0m40-2h0m104 1h0m-158 2h0m16 2h0m39-1h0m9 2h0m7-2h0m45-1h0m12 0h0m21 1h0m-88 5h0m47-1h0m45 2h0m-152 2h0m4 0h0m25 3h0m39-2h0m26 0h0m5 0h0m-42 4h0m14 0h0m23 2h0m40-2h0m-120 3h0m8 2h0m6 1h0m11-2h0m20 2h0m67-1h0m6 0h0m-117 3h0m37 1h0m59-1h0m7 0h0m-99 2h0m37 1h0m14 0h0m28 3h0m21-2h0m15 0h0m-111 6h0m38-1h0m29-1h0m10 0h0m-4 5h0m16-1h0m-22 3h0m10 0h0m-21 4h0m13 0h0m5 1h0m-23 7h0"/><path stroke="#e9681f" d="M0 0m206 85h0m25 0h0m-30 1h0m14 1h0m9 1h0m-32 2h0m20 1h0m5 0h0m-37 4h0m23 2h0m7-3h0m28 4h0m-57 3h0m9 0h0m38 0h0m-42 5h0m14-1h0m25 1h0m4-2h0m9 0h0m-21 2h0m20 7h0m2 2h0m-66 4h0m11 0h0m7 0h0m62 2h0m-74 3h0m4 1h0m35-2h0m7-1h0m20 3h0m5-2h0m-85 6h0m27 0h0m9-1h0m23 0h0m-58 3h0m55-1h0m10 1h0m5 0h0m-54 5h0m41 2h0m16-1h0m3-3h0m-77 7h0m21-2h0m22 1h0m10-1h0m11 2h0m-60 5h0m25-2h0m34-2h0m12 7h0m-105 4h0m10-1h0m7 2h0m5-2h0m25-2h0m64 3h0m-96 4h0m32 1h0m5-3h0m38 1h0m12-2h0m-64 7h0m4-2h0m25 0h0m28-1h0m0 4h0m3-3h0m18 1h0m-127 6h0m34-1h0m76 0h0m-100 3h0m18 0h0m16 0h0m10-2h0m53 3h0m-110 2h0m24 2h0m3 0h0m6 1h0m21 0h0m21-1h0m8-2h0m9 0h0m37 0h0m-56 7h0m12-4h0m17 1h0m-98 4h0m3 0h0m22 3h0m32-3h0m26 1h0m22 2h0m20-3h0m-115 6h0m76 1h0m26-4h0m-121 6h0m31 0h0m48-1h0m23 2h0m8-1h0m-121 2h0m62 0h0m27 0h0m1 0h0m29 4h0m8-2h0m21-2h0m-115 5h0m10 2h0m28-2h0m-62 5h0m107 1h0m25-3h0m-115 5h0m15-1h0m8 0h0m4 1h0m43 0h0m4-1h0m16 3h0m10-1h0m8 1h0m-133 2h0m44 3h0m11-3h0m21 1h0m30-1h0m-115 4h0m2 1h0m26-2h0m3 1h0m18-1h0m5 2h0m13-1h0m46 1h0m5-1h0m9 2h0m7 0h0m-138 2h0m2 0h0m30 2h0m34 0h0m6-3h0m44 3h0m34 0h0m-115 2h0m16 2h0m21 1h0m1 0h0m22-1h0m21-2h0m-104 6h0m44-1h0m24 0h0m34 2h0m4-1h0m13-1h0m7-1h0m-98 4h0m16 3h0m38-2h0m30 2h0m-132 2h0m69-1h0m50 0h0m6 3h0m11-2h0m-121 5h0m70 0h0m12-1h0m8 1h0m15-3h0m-83 6h0m40 1h0m6-1h0m56-1h0m6 2h0m6-1h0m-98 3h0m24 3h0m8-2h0m23 0h0m43 0h0m13 1h0m-143 4h0m19 0h0m19 1h0m23-1h0m27-1h0m26 2h0m-122 4h0m54-1h0m55-2h0m8 1h0m-103 6h0m28-3h0m38 0h0m61 1h0m-156 4h0m59-1h0m70 0h0m17 2h0m7 0h0m-107 2h0m59 2h0m6 0h0m34-3h0m-111 8h0m23-3h0m11 1h0m3 0h0m43 2h0m26-2h0m-22 6h0m-101 0h0m28 1h0m22 2h0m8-1h0m33 1h0m12 1h0m1-3h0m19 2h0m-59 3h0m24-1h0m7 1h0m-36 3h0m6 1h0m2-2h0m10 0h0m-49 5h0m50 1h0m9 1h0m6 0h0m17-1h0m-57 4h0m6-2h0m20 3h0m24 4h0m-59 5h0m11-1h0m3 3h0m27 0h0"/><path stroke="#df5e1f" d="M0 0m201 81h0m6-3h0m5 1h0m9 1h0m12 6h0m-23 0h0m-4 6h0m38-1h0m-50 4h0m34 2h0m-11 4h0m3 1h0m14 3h0m11-1h0m-38 4h0m-34 4h0m13 1h0m8-2h0m13 3h0m4 0h0m4-2h0m4-1h0m11 1h0m3-1h0m-68 4h0m31-1h0m19 3h0m-7 5h0m6-4h0m-55 9h0m1-1h0m58 2h0m29 0h0m-97 4h0m5-1h0m19 3h0m-16 2h0m93-2h0m-79 7h0m12-2h0m36 1h0m-35 6h0m15-1h0m11-2h0m27-1h0m13 4h0m-75 4h0m7-4h0m15 4h0m14-3h0m8 1h0m1-2h0m4 4h0m-89 1h0m24 0h0m5 1h0m34 2h0m12 0h0m3-1h0m-78 4h0m5-2h0m20 2h0m17-3h0m67 4h0m-105 2h0m13 0h0m11 0h0m44 1h0m15-3h0m-35 6h0m3-2h0m10 2h0m5-1h0m-86 4h0m131 0h0m4 2h0m-124 2h0m10 1h0m105 2h0m-71 2h0m52 0h0m3-2h0m-102 8h0m29-1h0m13-2h0m27 2h0m13-2h0m24 0h0m-116 3h0m8 1h0m19 3h0m29 0h0m7-3h0m38 0h0m7 0h0m27 2h0m-67 4h0m7 0h0m7 0h0m42-3h0m3 2h0m-119 5h0m2 1h0m53-2h0m64 0h0m4-1h0m-114 7h0m29-2h0m6 0h0m13 0h0m34-2h0m-70 7h0m99 0h0m4-1h0m-138 2h0m21 1h0m29 2h0m5-1h0m5-1h0m41 0h0m2-1h0m28 3h0m-148 3h0m45-1h0m66 0h0m-98 3h0m63 0h0m64 3h0m-115 2h0m64-1h0m-83 6h0m4-1h0m19 1h0m34-1h0m83 0h0m-121 5h0m98 0h0m2 0h0m11 0h0m9 0h0m-125 3h0m25-1h0m54 0h0m2 4h0m-68 2h0m118-1h0m-58 6h0m49 0h0m-151 4h0m102-2h0m-15 5h0m11 2h0m27-1h0m18 0h0m15 0h0m-107 4h0m37 1h0m22-4h0m6 3h0m-66 3h0m0 1h0m93-2h0m-91 10h0m12 0h0m19 1h0m31 1h0m34 2h0m-75 3h0m4 2h0m8 1h0m35 0h0m10 2h0m14-3h0m-104 7h0m100 0h0m-43 1h0m28 3h0m-14 7h0m-8 3h0m5 1h0m-44 10h0m39-3h0m1 4h0m-36 3h0"/><path stroke="#d5561e" d="M0 0m224 78h0m6 5h0m-35 7h0m9 3h0m18-2h0m7 1h0m-47 6h0m7-4h0m40 1h0m-42 4h0m26 1h0m-29 6h0m14-4h0m-20 5h0m13-1h0m-13 5h0m14 3h0m5-2h0m-25 4h0m6-1h0m3 0h0m70 1h0m-31 3h0m17 4h0m-50 10h0m25-1h0m1-1h0m-6 6h0m15-1h0m15 2h0m-45 3h0m57 0h0m-93 3h0m43 0h0m16 2h0m22-3h0m-87 5h0m-1 6h0m16-4h0m17 2h0m-36 6h0m75 3h0m-72 5h0m4-4h0m9 0h0m83 4h0m-76 6h0m9 2h0m77 1h0m-40 3h0m-100 6h0m59 0h0m-20 3h0m28 2h0m-71 3h0m21 1h0m27-3h0m6 3h0m39-1h0m-91 5h0m10-2h0m48 2h0m27-1h0m29-1h0m-62 5h0m60 0h0m-29 2h0m-63 5h0m20 0h0m-20 4h0m64 1h0m5-1h0m5-1h0m-60 7h0m40 1h0m28-3h0m16 2h0m4 1h0m-88 1h0m79 0h0m22 3h0m-29 0h0m5 6h0m-38 2h0m-14 12h0m35-4h0m-35 15h0m-16 5h0m37-1h0m-17 4h0m41 6h0m-34 4h0m36 4h0m-37 7h0m14 12h0m1 5h0m-63 8h0"/><path stroke="#ca4d1e" d="M0 0m217 77h0m-25 11h0m-4 4h0m51 9h0m-41 6h0m23 8h0m-42 6h0m42 5h0m-43 10h0m68 0h0m-75 12h0m-2 7h0m73 6h0m-66 2h0m62 14h0m-107 8h0m90 8h0m12 0h0m-55 7h0m-20 10h0m26 21h0m14 51h0"/><path stroke="#bf451d" d="M0 0m194 150h0"/><path stroke="#748dc3" d="M0 0m115 115h0"/><path stroke="#7394ca" d="M0 0m186 68h0m-44 22h0m6 17h0m-22 10h0"/><path stroke="#729bcf" d="M0 0m179 59h0m-4 5h0m8 1h0m-15 2h0m-15 22h0m14 1h0m-18 3h0m-15 19h0m-25 11h0"/><path stroke="#71a1d2" d="M0 0m161 72h0m-48 33h0m-8 16h0m13 2h0m7 10h0m-9 1h0m-34 7h0m4 5h0m6 6h0"/><path stroke="#70a8d4" d="M0 0m136 73h0m-30 35h0m-11 12h0m11 9h0m-9 1h0m-3 18h0m-54 33h0"/><path stroke="#6faed7" d="M0 0m157 59h0m-6 9h0m4 4h0m4 0h0m-44 18h0m7 3h0m5-1h0m-18 4h0m10 1h0m11 23h0m-47 9h0m9 2h0m36 3h0m-28 8h0m-25 5h0m22 10h0m-11 5h0m-17 28h0m11 6h0"/><path stroke="#6eb6da" d="M0 0m160 53h0m-10 4h0m5 6h0m-22 18h0m-34 11h0m-48 11h0m31 1h0m20 2h0m3-4h0m-29 18h0m19 5h0m-59 13h0m41 2h0m-49 2h0m40 25h0m4 1h0m-52 9h0m42 0h0m11-1h0m9 0h0m3 1h0m-14 12h0m-10 5h0m-32 8h0"/><path stroke="#6dbbdb" d="M0 0m148 61h0m4 5h0m-79 18h0m-14 25h0m-19 3h0m229 17h0m-210 2h0m-7 4h0m15 4h0m-31 6h0m35-2h0m196 1h0m-202 9h0m-37 13h0m3 5h0m4 5h0m23 2h0m33-1h0m-4 11h0m-23 20h0m-8 3h0"/><path stroke="#6cbdd4" d="M0 0m203 47h0m-23 7h0m1-3h0m-25 6h0m-35 23h0m-51 34h0m219 16h0m-245 1h0m23 17h0m7 4h0m-37 6h0m-5 23h0m58-1h0m191 7h0m-228 5h0m-1 4h0m6 21h0"/><path stroke="#6cc0cc" d="M0 0m188 52h0m-58 24h0m-56 4h0m30 1h0m8 4h0m26-2h0m-26 7h0m-40 3h0m21-1h0m-27 5h0m-2 8h0m-8 1h0m-7 8h0m234 2h0m-228 10h0m-5 9h0m-12 5h0m225 10h0m5 0h0m-219 6h0m241 17h0m6 6h0m-264 7h0m17 7h0m235 6h0m-16 9h0"/><path stroke="#6cc3c5" d="M0 0m168 35h0m0 12h0m-103 53h0m18 1h0m180 7h0m20 41h0m13 15h0"/><path stroke="#6cc5bd" d="M0 0m178 22h0m12 8h0m-17 7h0m-21 4h0m-29 31h0m-37 9h0m12 1h0m160 90h0"/><path stroke="#6dc6b6" d="M0 0m178 42h0m-64 26h0m-20 9h0"/><path stroke="#6fc7ae" d="M0 0m147 23h0m-17 7h0m28 2h0m23 6h0m-71 14h0"/><path stroke="#72c7a7" d="M0 0m132 34h0m-7 19h0m-24 1h0"/><path stroke="#74c79f" d="M0 0m120 47h0"/><path stroke="#76c897" d="M0 0m119 37h0"/><path stroke="#f7c450" d="M0 0m102 264h0m4 6h0"/><path stroke="#f6ba50" d="M0 0m212 166h0m38 32h0m-145 32h0m4-3h0m65 8h0m-99 5h0m114 15h0m-91 14h0m109 28h0"/><path stroke="#f5b150" d="M0 0m170 133h0m65 17h0m-76 20h0m30-2h0m-27 13h0m59 6h0m-68 5h0m34 4h0m14 9h0m-24 8h0m-35 22h0m58 2h0m-89 17h0m6-3h0m111 9h0m-25 9h0m-34 5h0m-62 5h0m15 5h0m23 3h0m-12 6h0m0 3h0m30-2h0m5 8h0"/><path stroke="#f4a74f" d="M0 0m205 99h0m8 6h0m-20 27h0m-37 8h0m54 1h0m36 9h0m-52 3h0m25 1h0m-94 11h0m41-2h0m-40 10h0m38 0h0m-7 4h0m-2 4h0m-16 20h0m101 0h0m13-2h0m-125 9h0m70-1h0m-31 3h0m-30 5h0m39 1h0m39 3h0m-89 8h0m52 2h0m-69 2h0m5 1h0m30 0h0m13 0h0m5 1h0m15 3h0m39 2h0m4-3h0m-106 10h0m127 1h0m-57 8h0m8 1h0m22 1h0m-32 10h0m41-2h0m-49 3h0m-40 4h0m28 1h0m25 1h0m-16 6h0m-17 4h0m-44 3h0m24 4h0m-4 1h0m10 5h0m8 3h0"/><path stroke="#f29e4f" d="M0 0m215 81h0m-18 5h0m26 0h0m-26 11h0m-19 3h0m23 2h0m-33 5h0m13 1h0m24-2h0m-39 15h0m47 1h0m-46 2h0m19 5h0m-45 6h0m55 3h0m-35 7h0m70 1h0m16 0h0m-109 3h0m101 5h0m14-2h0m-39 13h0m30 0h0m14-1h0m-130 3h0m77 1h0m22 0h0m-111 9h0m37 0h0m31-2h0m20 6h0m-65 5h0m101-3h0m-130 5h0m12 9h0m83 0h0m-17 2h0m-65 5h0m65 2h0m-83 5h0m139-1h0m-22 8h0m-30 1h0m4 2h0m5 1h0m42 3h0m-111 8h0m9 0h0m-5 2h0m107 1h0m-95 2h0m72 1h0m-72 4h0m8 0h0m50 1h0m-29 5h0m5 0h0m-36 6h0m57 0h0m2-1h0m21 2h0m-97 4h0m30 0h0m10-2h0m34 2h0m-39 3h0m-45 10h0m30 8h0m12 8h0m-2 2h0m48 0h0m-42 7h0"/><path stroke="#ec984f" d="M0 0m220 79h0m4 4h0m-3 21h0m24 5h0m-42 5h0m27 0h0m10-3h0m-53 8h0m-23 6h0m10-1h0m12 1h0m53-1h0m-43 5h0m3 4h0m6-2h0m12 2h0m-67 7h0m3 0h0m1 10h0m17 4h0m20 3h0m34-3h0m-56 6h0m-39 3h0m35 3h0m25 6h0m-45 6h0m91-3h0m9 1h0m-67 8h0m-59 3h0m58-1h0m62 6h0m-111 7h0m53 3h0m-79 3h0m-15 12h0m115-1h0m-30 3h0m7 2h0m69 8h0m-64 12h0m-21 7h0m-1 10h0m15 11h0m15 2h0m19 1h0m-18 3h0m-24 5h0m28 22h0"/><path stroke="#e6944e" d="M0 0m224 110h0m-35 2h0m-18 17h0m32 7h0m24 0h0m-55 8h0m29 4h0m49 3h0m-69 10h0m18 9h0m4-2h0m1 9h0m-10 3h0m-87 9h0m57 0h0m1 40h0m-7 7h0m-11 27h0m83 9h0"/><path stroke="#df8e4e" d="M0 0m220 97h0m-8 12h0m-48 13h0m79-3h0m-33 43h0m19 67h0"/></g>
<g transform="translate(411.5,305.4) scale(0.25)" fill="none" stroke-width="6.8" stroke-linecap="round"><path stroke="#1e71b8" d="M0 0m83 249h0"/><path stroke="#1a88c2" d="M0 0m86 241h0m-9 9h0m3 4h0m-7 7h0"/><path stroke="#1991c3" d="M0 0m82 240h0"/><path stroke="#1895b7" d="M0 0m91 239h0m-13 19h0m3 4h0"/><path stroke="#189aaa" d="M0 0m85 232h0m6 1h0m-10 4h0m18 1h0m0 8h0m7 3h0m-22 16h0"/><path stroke="#189e9e" d="M0 0m97 226h0m-4 5h0m10 0h0m-3 6h0m-2 17h0m5-3h0m-12 4h0m-8 5h0m8 8h0m10 2h0m-19 1h0m4 0h0"/><path stroke="#17a291" d="M0 0m90 212h0m11 8h0m1 7h0m2 19h0m8 12h0m-17 3h0m2 3h0m7-1h0m5 2h0m-9 11h0"/><path stroke="#19a485" d="M0 0m61 217h0m32-2h0m2 0h0m20 40h0m-4 19h0m-11 0h0m-3 10h0"/><path stroke="#1da578" d="M0 0m112 205h0m-17 3h0m5 9h0m-39 2h0m-5 4h0m63 9h0m-5 10h0m14-2h0m-17 9h0m5 13h0m10 15h0m-30 2h0m30 9h0"/><path stroke="#21a56c" d="M0 0m134 168h0m-18 20h0m43 0h0m-31 6h0m-18 2h0m2 6h0m8 1h0m20 4h0m-79 5h0m64-2h0m-82 7h0m-1 2h0m11 0h0m52 0h0m0 6h0m10 2h0m13 5h0m2 13h0m-12 2h0m3 3h0m-1 5h0m0 13h0m8 7h0m-18 7h0m19-3h0m-16 8h0m25 0h0"/><path stroke="#24a55f" d="M0 0m145 173h0m3 0h0m-14 8h0m11 5h0m-28 7h0m15 0h0m-30 4h0m11 0h0m10-2h0m23 2h0m-92 5h0m51-4h0m-42 5h0m42 0h0m11 2h0m15-2h0m-25 4h0m27 0h0m-36 4h0m2 1h0m29-1h0m-11 7h0m3-3h0m-72 4h0m74 2h0m6-2h0m8 1h0m-88 4h0m88 19h0m9 0h0m-20 6h0m11 4h0m-8 3h0m-6 2h0m13 1h0m-6 4h0m9 0h0m-14 4h0m-9 6h0m27 0h0m-5 5h0m-33 3h0m11-2h0m6 1h0m-5 4h0m-11 10h0m39 4h0m11 3h0"/><path stroke="#28a652" d="M0 0m176 150h0m-40 1h0m-4 6h0m8 3h0m1 9h0m11-1h0m-12 8h0m35 0h0m-36 5h0m12-3h0m6 3h0m11-1h0m-45 6h0m-55 2h0m8 2h0m27 0h0m23 3h0m-69 4h0m78 1h0m-21 2h0m-47 5h0m66-2h0m21-1h0m-104 4h0m22 2h0m48 2h0m20 3h0m-16 7h0m-4 4h0m2 16h0m15 9h0m-1 3h0m4 3h0m-2 6h0m4-2h0m-15 4h0m25 0h0m-35 7h0m25-2h0m-8 4h0m47 0h0m-42 4h0m2 6h0m-42 3h0m35 0h0m25-2h0m6 1h0m28 0h0m-92 2h0m49 1h0m-42 5h0m64 0h0m-37 10h0"/><path stroke="#34a94a" d="M0 0m185 146h0m-14 2h0m-19 6h0m5-2h0m-129 7h0m107 2h0m18-1h0m24-1h0m31 2h0m-55 1h0m-33 5h0m23 1h0m-9 4h0m-77 9h0m68-2h0m8 0h0m-91 7h0m73-2h0m11-1h0m5 2h0m4 0h0m-88 2h0m100 1h0m-42 2h0m6 2h0m7 2h0m28-1h0m4-3h0m15 3h0m-95 3h0m-20 2h0m-18 5h0m34-1h0m5 2h0m71 1h0m-111 1h0m85 3h0m-8 1h0m17 7h0m33 2h0m-116 5h0m89 2h0m9 0h0m-5 6h0m-10 7h0m20 1h0m-7 3h0m6 7h0m-8 13h0m4 4h0m11 1h0m12 2h0m13 2h0m25 2h0m-51 3h0m3-1h0m29 6h0m6-3h0m-21 3h0m-39 5h0m39 1h0m30 0h0m-49 4h0m5 0h0m6-2h0m20 3h0m10-2h0m5 1h0m0 4h0m9 1h0m-75 4h0m16 1h0m28-3h0m25 0h0m-36 4h0m2 2h0m27-2h0m-56 4h0"/><path stroke="#48b045" d="M0 0m165 129h0m-4 3h0m9 8h0m-23 3h0m7 1h0m-4 4h0m-49 5h0m48 1h0m33-4h0m12 0h0m10 4h0m4-1h0m3 1h0m-182 1h0m121 2h0m28-3h0m35 5h0m-178 5h0m112 1h0m27 1h0m32-3h0m-123 5h0m-62 4h0m11 2h0m89-3h0m10 0h0m10 1h0m37 2h0m117-1h0m-118 3h0m-152 4h0m20-1h0m83 0h0m0 3h0m42-3h0m122 0h0m-174 3h0m24 2h0m12 3h0m5 3h0m8 0h0m-137 8h0m108-3h0m10 2h0m-2 5h0m21 2h0m-96 6h0m62 1h0m13-1h0m-18 8h0m16-4h0m3 3h0m-3 4h0m8-2h0m-19 8h0m16 6h0m-11 7h0m34 2h0m-14 5h0m-6 6h0m10 0h0m-6 5h0m-11 7h0m24-3h0m-10 6h0m38 2h0m-47 2h0m21-1h0m-13 5h0m6 4h0m19-2h0m25 3h0m-31 1h0m9 3h0m-34 2h0m26 1h0m9 1h0m14-1h0m9 0h0m-57 8h0m25 1h0m18-3h0m-46 8h0m18-3h0m21 0h0m-31 5h0m27 0h0m-29 7h0"/><path stroke="#5db740" d="M0 0m159 127h0m-4 4h0m32 2h0m-90 3h0m54-2h0m7 2h0m20 0h0m-13 5h0m7 0h0m-31 4h0m28 1h0m25-2h0m-25 6h0m14-4h0m-149 6h0m101 1h0m10-1h0m15-1h0m5 1h0m17 0h0m-114 6h0m68-1h0m5-2h0m5 3h0m15-1h0m8-2h0m18 0h0m11 3h0m-172 1h0m36 0h0m16-1h0m7 2h0m79 0h0m9 1h0m29-2h0m14 0h0m-158 6h0m66 1h0m34-1h0m18-2h0m25 1h0m-124 6h0m-26 1h0m16 3h0m87 0h0m15-2h0m44-1h0m-189 3h0m280 2h0m-261 5h0m9 1h0m14 0h0m84 0h0m37-3h0m-169 7h0m34-1h0m122 1h0m132-3h0m-280 5h0m52-1h0m2 0h0m92 6h0m9-1h0m-120 5h0m109-1h0m1 1h0m-24 4h0m11-3h0m7 2h0m110 1h0m-103 2h0m96 0h0m-107 4h0m-3 3h0m-6 5h0m7 2h0m6-3h0m-26 7h0m4 5h0m45 11h0m-35 4h0m25 5h0m-11 3h0m-18 5h0m11-4h0m-10 11h0m25-1h0m-16 3h0m20 0h0m-25 5h0m22 10h0m34 0h0m16-1h0m-71 2h0m40 1h0m3 2h0m-27 0h0m29 2h0m22-1h0m-42 7h0m36-2h0m-34 4h0m-13 2h0m13 5h0m-28 7h0m16 3h0"/><path stroke="#71bd3c" d="M0 0m52 121h0m39 0h0m10-1h0m73 14h0m-74 1h0m80 3h0m2-2h0m-90 3h0m4 0h0m6-1h0m5 1h0m85 2h0m-87 5h0m41-4h0m10 2h0m44 1h0m-155 1h0m0 1h0m153 3h0m-137 2h0m104-2h0m-123 7h0m43-3h0m97 4h0m-149 3h0m32 0h0m-39 4h0m3-2h0m22 0h0m14 0h0m7 1h0m4 0h0m20-1h0m53 3h0m13-4h0m111 2h0m-238 4h0m20-2h0m113 2h0m10-2h0m13 1h0m40 2h0m27 1h0m50-1h0m-40 3h0m9 1h0m-237 3h0m29 1h0m125 1h0m13-1h0m-181 1h0m37 6h0m8-1h0m4 1h0m93 2h0m6-2h0m7-1h0m86 2h0m-182 5h0m-12 1h0m7 1h0m186 6h0m17 4h0m10 0h0m-135 1h0m99 2h0m-109 2h0m5 0h0m-2 5h0m13-1h0m7-1h0m36 0h0m63 4h0m-123 5h0m52 7h0m-50 4h0m3-4h0m19 4h0m-17 1h0m-1 4h0m20 9h0m-23 8h0m3-2h0m13 3h0m6 0h0m6 2h0m-2 6h0m-2 2h0m49 5h0m-25 5h0m8-2h0m7 0h0m-22 6h0m12 1h0m1-3h0m1 4h0m6 2h0m3 0h0m-71 12h0m31 10h0m5 1h0"/><path stroke="#8bc538" d="M0 0m76 116h0m102-1h0m-129 6h0m149-1h0m-92 3h0m77 2h0m8 1h0m-134 1h0m12 0h0m-36 6h0m67-2h0m50 1h0m16-1h0m16 0h0m-152 7h0m7-3h0m23 1h0m13 1h0m17-2h0m-48 3h0m4 7h0m30-2h0m103 0h0m20 1h0m12-1h0m4 3h0m-180 1h0m18 1h0m28 2h0m27-3h0m104 0h0m-184 3h0m21 1h0m165 2h0m-174 3h0m36-1h0m4 3h0m216-3h0m-251 6h0m13-1h0m236-1h0m-246 5h0m140 0h0m3-2h0m-165 4h0m17 3h0m13-1h0m8-1h0m21 0h0m6 0h0m143 0h0m51 0h0m-229 5h0m17 1h0m4-2h0m3 2h0m15 0h0m1-3h0m100 3h0m21 0h0m-132 1h0m101 0h0m-156 5h0m152 0h0m15 2h0m11-1h0m7-2h0m61 1h0m31 0h0m-118 4h0m30 0h0m18-1h0m32 3h0m17 1h0m-100 3h0m46-2h0m17 2h0m17-2h0m28 2h0m-45 2h0m39 2h0m-124 3h0m12-1h0m98 1h0m1-2h0m-113 11h0m87 0h0m13 0h0m16 0h0m-108 2h0m1 1h0m11 0h0m24-1h0m53 3h0m8 2h0m-99 4h0m19 2h0m4-3h0m89 2h0m-115 5h0m1 0h0m106-1h0m-123 3h0m24 0h0m7 2h0m2-3h0m2 2h0m85 1h0m-99 1h0m21 3h0m-21 7h0m-8 4h0m6-1h0m9 0h0m-15 6h0m8-2h0m66 0h0m-62 6h0m12-4h0m2 19h0m40-3h0m6 7h0m-18 4h0m14-3h0m-14 6h0m-23 13h0"/><path stroke="#a8ce34" d="M0 0m190 101h0m10 4h0m-14 8h0m-56 3h0m-67 5h0m2-1h0m9 1h0m117-2h0m29 0h0m-184 4h0m12 0h0m29 1h0m102 0h0m19 0h0m-146 6h0m48-3h0m92 2h0m-87 5h0m-55 4h0m12-1h0m3-2h0m7 0h0m11-1h0m124 3h0m-151 2h0m69-1h0m59 1h0m2 0h0m-151 5h0m18-1h0m3 2h0m8-2h0m30 1h0m15-1h0m6 1h0m-45 3h0m18 3h0m11-3h0m6 1h0m101 1h0m-162 3h0m12 0h0m39 0h0m104 2h0m95-2h0m-246 3h0m189-1h0m63 2h0m-246 2h0m167 3h0m2-3h0m10 1h0m56 0h0m-197 3h0m148 1h0m9 1h0m7 0h0m35-2h0m-190 6h0m114 0h0m54-1h0m-94 7h0m67-1h0m-15 3h0m28-1h0m-45 4h0m1 2h0m67-1h0m-191 3h0m124 3h0m15-3h0m40-1h0m-84 7h0m11 0h0m2-2h0m5 2h0m1 1h0m7-2h0m66-1h0m5 2h0m-46 4h0m-50 3h0m30 2h0m47-1h0m-82 3h0m53 2h0m3 0h0m12-1h0m-41 1h0m34 3h0m24-2h0m-113 7h0m42 1h0m5 1h0m5-1h0m13 0h0m4 2h0m-47 1h0m25 2h0m11-1h0m-20 6h0m18-2h0m3 0h0m32 0h0m7 3h0m-81 8h0m17 1h0m20 0h0m-22 5h0m25 2h0m-23 8h0m20-3h0m40 2h0m-48 1h0m6 3h0m-9 8h0m19 2h0m17 2h0m7 0h0m3-1h0m-45 5h0m3-3h0m12 0h0m21 1h0m4 2h0m-45 2h0m28 0h0m-34 4h0m36 4h0"/><path stroke="#c6d630" d="M0 0m61 88h0m142 9h0m-139 5h0m8-4h0m25 5h0m27 2h0m4-1h0m44 2h0m66-2h0m-166 4h0m41 1h0m6-2h0m88 1h0m-141 2h0m17 1h0m25 1h0m65 0h0m21-1h0m-135 3h0m48 2h0m32 0h0m26-1h0m50 2h0m11 0h0m-182 4h0m44 0h0m71-1h0m14-1h0m41-1h0m-181 6h0m9-1h0m21 2h0m8-1h0m150 2h0m29-3h0m-215 6h0m4 1h0m9-1h0m29 0h0m35 0h0m13-1h0m5-1h0m3 2h0m27-3h0m41 2h0m12-2h0m-171 7h0m20-2h0m169 0h0m-154 4h0m11-1h0m23 1h0m112 3h0m16-1h0m3-3h0m9 0h0m-135 6h0m102-1h0m11 2h0m20 0h0m-183 4h0m17 1h0m7-3h0m28 3h0m110-4h0m10 0h0m60 0h0m-237 7h0m54 1h0m131 3h0m13 0h0m26 0h0m19-1h0m-213 5h0m9 1h0m205-3h0m-44 5h0m-161 4h0m125-1h0m20 3h0m6 1h0m4 2h0m-162 3h0m111-1h0m20 3h0m-18 0h0m17 1h0m30 0h0m-21 3h0m17 5h0m-31 6h0m8-1h0m16-2h0m18 0h0m-65 4h0m9 2h0m20 2h0m8-2h0m21-2h0m14 3h0m-77 3h0m27-2h0m62 2h0m-29 4h0m-73 6h0m24-3h0m56-1h0m-75 9h0m49 2h0m58-3h0m-80 7h0m22 0h0m27-3h0m-32 5h0m-19 7h0m4-1h0m9-1h0m20 0h0m-53 4h0m7-2h0m2 4h0m6-1h0m15 1h0m7-2h0m-38 2h0m24 4h0m25-1h0m11-2h0m-56 6h0m5-3h0m10 0h0m24 2h0m-41 3h0m2 2h0m6-2h0m40 1h0m-43 4h0m18 1h0m9 5h0m-21 1h0m8 0h0m3 2h0m5-1h0m4 2h0m20 2h0m-31 4h0m-8 3h0m23 14h0"/><path stroke="#e3de2c" d="M0 0m114 88h0m78 0h0m3 2h0m-109 3h0m158-2h0m-183 5h0m26-2h0m7 3h0m30-1h0m8 1h0m50 1h0m24-3h0m31 1h0m-181 5h0m37-2h0m6 0h0m28 0h0m4 3h0m50-1h0m63 0h0m-129 3h0m20 2h0m-86 3h0m20-2h0m16-1h0m6 4h0m87-3h0m20 0h0m-136 4h0m24 2h0m41-3h0m51 1h0m22 2h0m7 1h0m8-2h0m22 1h0m-186 1h0m13 2h0m4-2h0m13 0h0m28 2h0m63 0h0m24-2h0m25 1h0m30 1h0m-138 4h0m9 1h0m3 1h0m54-1h0m-99 2h0m5 4h0m36 3h0m79-3h0m24 0h0m-165 6h0m29-3h0m41 0h0m83 2h0m24-1h0m-114 4h0m110 1h0m-181 3h0m35 0h0m24 2h0m9 0h0m89-1h0m80 4h0m-196 5h0m128-1h0m1-2h0m19 3h0m-10 4h0m-124 2h0m139 3h0m4-3h0m-19 3h0m0 4h0m12-1h0m9-1h0m33-1h0m0 2h0m-50 4h0m16 6h0m-16 8h0m10 5h0m9 1h0m-18 1h0m-41 4h0m18 1h0m9 2h0m0 4h0m6-2h0m2 2h0m-4 3h0m21-2h0m-50 4h0m17 1h0m2-1h0m6 3h0m15 3h0m-1 5h0m27-1h0m-78 2h0m59 3h0m-24 5h0m5 2h0m7-1h0m0 1h0m-19 5h0m3 7h0m22 1h0m-35 3h0m27 5h0m15 3h0m-32 3h0m17 0h0m4 3h0m7-4h0m-42 5h0"/><path stroke="#edd629" d="M0 0m89 72h0m-22 9h0m134 0h0m6-3h0m14 2h0m-134 5h0m35 0h0m111 1h0m-137 1h0m39 2h0m66-3h0m9 0h0m17 4h0m-171 3h0m5-2h0m6 0h0m40 2h0m24-2h0m57 1h0m16 1h0m2-1h0m-105 3h0m5 1h0m28-1h0m60 0h0m22 1h0m12 1h0m-157 4h0m40 0h0m3 1h0m19 0h0m5-1h0m17-2h0m58 1h0m15 1h0m-175 5h0m145-4h0m31 2h0m-88 6h0m2-3h0m5 3h0m43-4h0m-149 5h0m34 0h0m22 2h0m20-2h0m74 3h0m5-2h0m22-1h0m-175 3h0m46 2h0m12 1h0m19-1h0m24 0h0m36-1h0m53 3h0m5-3h0m-159 5h0m121-1h0m31 0h0m21 2h0m-127 5h0m99-4h0m12 1h0m-167 6h0m171 0h0m6-1h0m-134 2h0m100 1h0m8-1h0m38 0h0m-37 6h0m15 2h0m9-2h0m-26 4h0m31 6h0m-26 4h0m30-3h0m42 1h0m-66 2h0m-6 6h0m21 18h0m-27 4h0m19-1h0m-8 5h0m20-3h0m-5 9h0m-59 3h0m59 1h0m-47 4h0m-5 4h0m28 1h0m10 3h0m-15 3h0m-6 5h0m14 1h0m16 0h0m-5 5h0m5-3h0m-22 9h0m-16 2h0m37 6h0m3 7h0m1 3h0m-28 2h0m34 1h0m-55 3h0m38 5h0"/><path stroke="#efc627" d="M0 0m91 52h0m10 10h0m23 1h0m-46 7h0m-6 7h0m19-2h0m31 2h0m-41 3h0m7-1h0m42 1h0m32-1h0m50 0h0m-136 7h0m24-3h0m15-1h0m51 1h0m-86 7h0m1-4h0m46 2h0m28-1h0m60 0h0m-120 5h0m97-2h0m20 1h0m5 0h0m5 0h0m-129 5h0m24-1h0m25 0h0m47-1h0m21 0h0m28 4h0m-160 2h0m6-1h0m37 1h0m24-1h0m3 0h0m69 2h0m17-2h0m5 2h0m-161 4h0m19 0h0m43 1h0m44 0h0m2 0h0m39 0h0m9-1h0m-128 2h0m47 2h0m0-1h0m64-2h0m-118 6h0m134-1h0m-98 4h0m2 3h0m107-2h0m-187 5h0m127-2h0m24 3h0m37 3h0m7-2h0m-117 3h0m83 2h0m6 0h0m58 1h0m-34 2h0m-11 4h0m50-1h0m-18 5h0m-32 4h0m-7 31h0m-38 31h0m33 0h0m18 0h0m-31 2h0m3 8h0m22 11h0m-16 6h0m21 5h0m-12 4h0"/><path stroke="#f0b625" d="M0 0m87 57h0m3-1h0m17 1h0m-15 4h0m2 1h0m-25 2h0m8 0h0m61-2h0m-60 5h0m8-1h0m7 3h0m23 1h0m9-3h0m9 1h0m-15 5h0m25-1h0m-60 5h0m19-1h0m3 1h0m7-1h0m55 1h0m49 0h0m-142 1h0m34 3h0m45 0h0m70-3h0m-135 6h0m16 1h0m125-2h0m-163 4h0m64 0h0m4 0h0m32 1h0m57 0h0m-65 3h0m6 1h0m64 0h0m12 0h0m-164 5h0m72-1h0m9-2h0m71 1h0m-42 4h0m37 1h0m-137 12h0m56-1h0m68 3h0m19-2h0m47-1h0m-141 7h0m-22 0h0m126 3h0m42-2h0m-64 4h0m47 8h0m20 2h0m-30 3h0m9 0h0m14 3h0m6 0h0m-28 6h0m16 2h0m-48 69h0m-11 25h0m14 7h0"/><path stroke="#f2a622" d="M0 0m124 31h0m-12 9h0m-6 5h0m20-3h0m-30 5h0m26 6h0m13-1h0m-23 5h0m25 1h0m1-1h0m-36 2h0m3 2h0m6 0h0m4-3h0m-28 5h0m12 2h0m-19 4h0m27-1h0m-26 3h0m4 0h0m25 2h0m2 4h0m14-2h0m17 1h0m-66 5h0m49 1h0m32-3h0m-11 7h0m18-2h0m-66 4h0m60-1h0m-81 3h0m76 5h0m26 0h0m40 7h0m25 2h0m-116 5h0m128 6h0m17 4h0m-16 6h0m22 1h0m-24 12h0m-32 101h0m2 6h0"/><path stroke="#f09621" d="M0 0m133 24h0m46 5h0m-60 7h0m73 1h0m-77 3h0m7 1h0m3-1h0m3-1h0m-15 4h0m18 2h0m-31 2h0m42 7h0m-44 3h0m7-3h0m17 3h0m14 4h0m-19 3h0m15-2h0m26 1h0m5 1h0m5-1h0m-73 4h0m24 2h0m9-2h0m12 1h0m5 1h0m15-2h0m12 2h0m20-3h0m-95 5h0m2 1h0m29 2h0m39-3h0m9 2h0m-40 4h0m3-1h0m16 2h0m29 0h0m-40 3h0m62 4h0m25 0h0m-91 2h0m25 1h0m-24 2h0m110 29h0m18 13h0m-10 3h0"/><path stroke="#ee8721" d="M0 0m160 20h0m-27 8h0m20 1h0m5 1h0m-48 3h0m31 7h0m8 2h0m47 2h0m-89 4h0m5 0h0m13-1h0m-11 5h0m25 0h0m14 0h0m48 0h0m-73 5h0m34 2h0m-17 4h0m33 0h0m-27 7h0m12-3h0m14-1h0m-4 16h0"/><path stroke="#ec7720" d="M0 0m145 19h0m19-1h0m-27 10h0m37 0h0m10 1h0m-48 4h0m50-1h0m-49 3h0m17 3h0m-4 1h0m-10 4h0m5 1h0m41 1h0m-55 2h0m2 3h0m19-2h0m7 0h0m5 0h0m1 4h0m9 0h0m22-1h0m4 6h0m-14 1h0m-64 4h0m51 11h0"/><path stroke="#e9681f" d="M0 0m164 23h0m-18 10h0m1 0h0m9-2h0m19 2h0m-11 2h0m14 0h0m8 2h0m-53 2h0m24 1h0m19 0h0m-65 3h0m25 1h0m14 2h0m-35 1h0m58 1h0m3 0h0m7-2h0m12 4h0m-26 4h0m5 3h0m8 0h0m1 4h0m4 2h0m11 0h0"/><path stroke="#df5e1f" d="M0 0m170 25h0m-26 4h0m19 1h0m22-1h0m-4 6h0m-36 4h0m50 1h0m-38 3h0m10 2h0m14-3h0m-42 6h0m54 1h0m-2 4h0m3 4h0m2-1h0"/><path stroke="#d5561e" d="M0 0m172 45h0m13 1h0m6-3h0m15 11h0"/><path stroke="#ca4d1e" d="M0 0m167 38h0m-4 6h0"/><path stroke="#6cbdd4" d="M0 0m75 240h0"/><path stroke="#6cc3c5" d="M0 0m111 254h0"/><path stroke="#6cc5bd" d="M0 0m109 231h0m-7 33h0m-4 5h0m8 1h0m1 9h0"/><path stroke="#6dc6b6" d="M0 0m58 217h0m29 0h0"/><path stroke="#6fc7ae" d="M0 0m109 227h0m20 33h0"/><path stroke="#72c7a7" d="M0 0m139 186h0m-17 11h0m-20 8h0m21-1h0m-67 7h0m49 0h0m0 19h0m9 2h0m0 13h0m3 6h0m5 33h0m11 9h0m0 3h0"/><path stroke="#74c79f" d="M0 0m164 173h0m-11 4h0m-46 12h0m12-2h0m9 12h0m17 88h0m-15 4h0m29 0h0"/><path stroke="#76c897" d="M0 0m130 163h0m35 3h0m-49 11h0m39 4h0m7 0h0m-52 7h0m-49 6h0m3 14h0m62 19h0m6 6h0m45 36h0m-58 4h0m50 1h0m-59 12h0m24 4h0m27-1h0m-13 10h0m17-1h0m3 4h0"/><path stroke="#7dc992" d="M0 0m169 160h0m-44 5h0m-57 2h0m60 0h0m31 3h0m-33 3h0m-53 3h0m223 3h0m-132 10h0m-115 4h0m4-1h0m-1 4h0m76 12h0m9 7h0m4 18h0m3-1h0m-2 3h0m6 3h0m0 5h0m14 15h0m-15 5h0m-13 8h0m15 10h0m-9 15h0m23-2h0"/><path stroke="#89ce8f" d="M0 0m153 140h0m19 4h0m-34 5h0m43 12h0m-15 2h0m44-1h0m-138 6h0m73 10h0m-113 8h0m145 0h0m-108 4h0m84 2h0m-14 9h0m53 70h0m1 4h0m-24 5h0m2-1h0m-17 4h0m43 19h0"/><path stroke="#96d28c" d="M0 0m170 133h0m-29 2h0m9 5h0m6 0h0m-2 10h0m40 3h0m-23 1h0m125 10h0m-268 2h0m171 4h0m-42 7h0m27-2h0m-144 6h0m154-1h0m-123 9h0m210-2h0m-109 32h0m-36 16h0m38 0h0m-11 13h0m14 1h0m-31 6h0m13 5h0m23 6h0m-8 1h0m-12 5h0m25 1h0m20 24h0"/><path stroke="#a2d58a" d="M0 0m38 140h0m29 8h0m134 0h0m-136 5h0m-28 5h0m12-2h0m142 1h0m28-3h0m-30 14h0m14 0h0m2 0h0m-15 4h0m-170 5h0m38 1h0m-26 3h0m58-1h0m-3 8h0m-7 8h0m-51 6h0m147 14h0m3 5h0m-10 37h0m-5 5h0"/><path stroke="#b1da88" d="M0 0m105 121h0m61 0h0m-2 4h0m22 4h0m-127 2h0m-23 7h0m160 0h0m-129 1h0m15 2h0m-46 4h0m125 0h0m-86 2h0m17 5h0m5 5h0m-11 5h0m158 3h0m-213 6h0m259 2h0m-208 3h0m3 1h0m119 0h0m-26 7h0m43 3h0m-16 10h0m-24 5h0m7-3h0m62-1h0m34 1h0m-96 7h0m-21 4h0m10 3h0m25 3h0m-10 3h0m-34 17h0m19 0h0m7 5h0m-28 2h0m50 1h0m-14 11h0m11 0h0m20 9h0m-12 8h0m-4 19h0"/><path stroke="#cbdc5b" d="M0 0m64 105h0m100 17h0m-69 3h0m14-2h0m58 1h0m19 1h0m-131 1h0m138 6h0m-143 3h0m153 1h0m-132 7h0m15 3h0m-12 6h0m140 13h0m-2 1h0m46 6h0m-223 4h0m27 1h0m29 0h0m96 19h0m14 9h0m67 3h0m-72 13h0m5 1h0m14-3h0m-50 10h0m83 0h0m-91 3h0m5 1h0m79 13h0m-59 3h0m2 5h0m30 2h0m14 4h0m-25 9h0m27 3h0"/><path stroke="#dde059" d="M0 0m119 97h0m101 0h0m-169 6h0m19 11h0m119-2h0m14 2h0m-77 3h0m-50 3h0m111-1h0m-69 4h0m56 1h0m-91 5h0m88 0h0m25 0h0m-104 2h0m33 2h0m74 0h0m-83 1h0m94 7h0m-110 1h0m-6 6h0m159 4h0m-28 2h0m2 14h0m9 7h0m9 1h0m-5 7h0m-1 9h0m-41 15h0m46 3h0m-66 19h0m42 6h0m23 1h0m-54 19h0m16-1h0"/><path stroke="#eee556" d="M0 0m73 84h0m39 6h0m-3 6h0m69 4h0m27-1h0m-123 5h0m-26 2h0m3 3h0m47-1h0m62-1h0m13 1h0m31 1h0m-78 3h0m-85 2h0m66 1h0m-20 5h0m118 2h0m-107 7h0m-62 2h0m53-1h0m120 3h0m-89 1h0m99 2h0m-199 6h0m218 8h0m17 0h0m-13 1h0m-46 30h0m36 20h0m13-2h0m-10 26h0m-43 12h0m3 23h0"/><path stroke="#f4e055" d="M0 0m215 81h0m9 2h0m-125 9h0m28 0h0m-62 8h0m18 1h0m19 5h0m46 1h0m57-1h0m19 4h0m-184 2h0m190 2h0m10-3h0m-110 9h0m113-1h0m-4 5h0m-34 7h0m-153 4h0m25 5h0m190 4h0m-32 6h0m23 14h0m-36 54h0m-6 20h0m4 1h0m6 17h0"/><path stroke="#f5d753" d="M0 0m74 80h0m30 1h0m116-2h0m-108 6h0m85 1h0m-82 4h0m108-4h0m-151 7h0m21-1h0m29 1h0m-56 4h0m131 0h0m-84 8h0m88-3h0m44 7h0m38 7h0m-36 30h0m36 3h0m-44 5h0m29-4h0m-39 79h0"/><path stroke="#f6cd52" d="M0 0m94 77h0m-8 4h0m35-1h0m17 3h0m4 7h0m25 0h0m-18 3h0m-44 9h0m108 3h0m8-1h0m42 4h0m26 22h0m-58 16h0"/><path stroke="#f7c450" d="M0 0m120 47h0m-19 7h0m49 3h0m7 2h0m-5 7h0m-38 2h0m41 4h0m6 0h0m-31 4h0m-32 6h0m35-1h0m136 48h0"/><path stroke="#f6ba50" d="M0 0m119 37h0m33 4h0m-4 20h0m27 3h0m-24 4h0m-28 4h0m36 0h0"/><path stroke="#f5b150" d="M0 0m158 32h0m-26 2h0m-7 19h0m55 1h0m-24 3h0m23 2h0m-26 30h0"/><path stroke="#f4a74f" d="M0 0m178 22h0m12 8h0m-17 7h0m-63 15h0m73 13h0m-15 2h0m18 1h0m-50 5h0"/><path stroke="#f29e4f" d="M0 0m168 35h0m13 3h0m-3 4h0"/><path stroke="#ec984f" d="M0 0m147 23h0m-17 7h0m38 17h0m35 0h0m-43 6h0m21-2h0m7 1h0m-33 11h0"/></g>
<text x="7" y="429.5" font-size="11" text-anchor="start" fill="#111" font-weight="bold">D</text>
<text x="114.8" y="435.0" font-size="8.8" text-anchor="start" fill="#262626" font-weight="normal" textLength="79.1" lengthAdjust="spacingAndGlyphs" stroke="#262626" stroke-width="0.15">PRMT5 Expression</text>
<line x1="49.3" y1="441.5" x2="49.3" y2="586.4" stroke="#222" stroke-width="0.9"/>
<line x1="46.599999999999994" y1="586.4" x2="49.3" y2="586.4" stroke="#222" stroke-width="0.9"/>
<text x="42.6" y="588.85" font-size="6.9" text-anchor="end" fill="#262626" font-weight="normal" textLength="4.47" lengthAdjust="spacingAndGlyphs" stroke="#262626" stroke-width="0.15">0</text>
<line x1="46.599999999999994" y1="557.85" x2="49.3" y2="557.85" stroke="#222" stroke-width="0.9"/>
<text x="42.6" y="560.3000000000001" font-size="6.9" text-anchor="end" fill="#262626" font-weight="normal" textLength="13.41" lengthAdjust="spacingAndGlyphs" stroke="#262626" stroke-width="0.15">500</text>
<line x1="46.599999999999994" y1="529.3" x2="49.3" y2="529.3" stroke="#222" stroke-width="0.9"/>
<text x="42.6" y="531.75" font-size="6.9" text-anchor="end" fill="#262626" font-weight="normal" textLength="17.88" lengthAdjust="spacingAndGlyphs" stroke="#262626" stroke-width="0.15">1000</text>
<line x1="46.599999999999994" y1="500.75" x2="49.3" y2="500.75" stroke="#222" stroke-width="0.9"/>
<text x="42.6" y="503.2" font-size="6.9" text-anchor="end" fill="#262626" font-weight="normal" textLength="17.88" lengthAdjust="spacingAndGlyphs" stroke="#262626" stroke-width="0.15">1500</text>
<line x1="46.599999999999994" y1="472.2" x2="49.3" y2="472.2" stroke="#222" stroke-width="0.9"/>
<text x="42.6" y="474.65" font-size="6.9" text-anchor="end" fill="#262626" font-weight="normal" textLength="17.88" lengthAdjust="spacingAndGlyphs" stroke="#262626" stroke-width="0.15">2000</text>
<line x1="46.599999999999994" y1="443.65" x2="49.3" y2="443.65" stroke="#222" stroke-width="0.9"/>
<text x="42.6" y="446.09999999999997" font-size="6.9" text-anchor="end" fill="#262626" font-weight="normal" textLength="17.88" lengthAdjust="spacingAndGlyphs" stroke="#262626" stroke-width="0.15">2500</text>
<line x1="49.3" y1="586.4" x2="258.3" y2="586.4" stroke="#222" stroke-width="1.0"/>
<text transform="translate(18.8,513.5) rotate(-90)" font-size="8.6" text-anchor="middle" fill="#262626" font-weight="bold" textLength="10.8" lengthAdjust="spacingAndGlyphs">MFI</text>
<rect x="72.10" y="461.60" width="12.10" height="5.40" fill="#15508e"/>
<rect x="72.10" y="472.20" width="12.10" height="5.40" fill="#2aa5e2"/>
<text x="87" y="467.2" font-size="7.6" text-anchor="start" fill="#262626" font-weight="normal" textLength="47" lengthAdjust="spacingAndGlyphs" stroke="#262626" stroke-width="0.15">Healthy n = 5</text>
<text x="87" y="477.8" font-size="7.6" text-anchor="start" fill="#262626" font-weight="normal" textLength="36.8" lengthAdjust="spacingAndGlyphs" stroke="#262626" stroke-width="0.15">HLH n = 5</text>
<rect x="57.00" y="552.14" width="12.30" height="34.26" fill="#15508e"/>
<rect x="76.90" y="537.87" width="12.50" height="48.53" fill="#2aa5e2"/>
<line x1="73.0" y1="586.4" x2="73.0" y2="588.9" stroke="#222" stroke-width="0.9"/>
<text x="69" y="599.8" font-size="8.1" text-anchor="start" fill="#262626" font-weight="normal" textLength="8.3" lengthAdjust="spacingAndGlyphs" stroke="#262626" stroke-width="0.15">All</text>
<rect x="111.00" y="547.00" width="12.30" height="39.40" fill="#15508e"/>
<rect x="130.90" y="529.30" width="12.50" height="57.10" fill="#2aa5e2"/>
<line x1="127.0" y1="586.4" x2="127.0" y2="588.9" stroke="#222" stroke-width="0.9"/>
<text x="106.4" y="599.8" font-size="8.1" text-anchor="start" fill="#262626" font-weight="normal" textLength="41" lengthAdjust="spacingAndGlyphs" stroke="#262626" stroke-width="0.15">CD4 T cells</text>
<rect x="165.00" y="540.72" width="12.30" height="45.68" fill="#15508e"/>
<rect x="184.90" y="504.18" width="12.50" height="82.22" fill="#2aa5e2"/>
<line x1="181.0" y1="586.4" x2="181.0" y2="588.9" stroke="#222" stroke-width="0.9"/>
<text x="160.4" y="599.8" font-size="8.1" text-anchor="start" fill="#262626" font-weight="normal" textLength="40.8" lengthAdjust="spacingAndGlyphs" stroke="#262626" stroke-width="0.15">CD8 T cells</text>
<rect x="219.00" y="547.57" width="12.30" height="38.83" fill="#15508e"/>
<rect x="238.90" y="487.33" width="12.50" height="99.07" fill="#2aa5e2"/>
<line x1="235.0" y1="586.4" x2="235.0" y2="588.9" stroke="#222" stroke-width="0.9"/>
<text x="227.7" y="599.8" font-size="8.1" text-anchor="start" fill="#262626" font-weight="normal" textLength="14.2" lengthAdjust="spacingAndGlyphs" stroke="#262626" stroke-width="0.15">NKs</text>
<polyline points="62.7,530.6 62.7,520.7 83.3,520.7 83.3,526.5" fill="none" stroke="#3a3a3a" stroke-width="0.85"/>
<text x="73.0" y="519.0" font-size="7" text-anchor="middle" fill="#262626" font-weight="normal" stroke="#262626" stroke-width="0.15">*</text>
<line x1="63" y1="543.8" x2="63" y2="553" stroke="#222" stroke-width="0.9"/>
<line x1="59.8" y1="543.8" x2="66.4" y2="543.8" stroke="#222" stroke-width="0.9"/>
<circle cx="63.1" cy="537.6" r="1.75" fill="#111"/>
<circle cx="59.5" cy="553.5" r="1.75" fill="#111"/>
<circle cx="62.5" cy="554.5" r="1.75" fill="#111"/>
<circle cx="66" cy="553.5" r="1.75" fill="#111"/>
<circle cx="60.5" cy="556" r="1.75" fill="#111"/>
<circle cx="64.5" cy="556.5" r="1.75" fill="#111"/>
<circle cx="78.4" cy="533" r="2.0" fill="#fff" stroke="#111" stroke-width="0.85"/>
<circle cx="81.2" cy="536.8" r="2.0" fill="#fff" stroke="#111" stroke-width="0.85"/>
<circle cx="85" cy="537.2" r="2.0" fill="#fff" stroke="#111" stroke-width="0.85"/>
<circle cx="88.2" cy="537.6" r="2.0" fill="#fff" stroke="#111" stroke-width="0.85"/>
<circle cx="78.4" cy="539.7" r="2.0" fill="#2aa5e2" stroke="#111" stroke-width="0.85"/>
<polyline points="116.6,513.0 116.6,505.6 137.0,505.6 137.0,512.0" fill="none" stroke="#3a3a3a" stroke-width="0.85"/>
<text x="126.8" y="503.6" font-size="7" text-anchor="middle" fill="#262626" font-weight="normal" stroke="#262626" stroke-width="0.15">*</text>
<line x1="117" y1="535.6" x2="117" y2="547" stroke="#222" stroke-width="0.9"/>
<line x1="113.8" y1="535.6" x2="120.4" y2="535.6" stroke="#222" stroke-width="0.9"/>
<circle cx="117.2" cy="527.4" r="1.75" fill="#111"/>
<circle cx="112.8" cy="549.4" r="1.75" fill="#111"/>
<circle cx="116" cy="551" r="1.75" fill="#111"/>
<circle cx="120" cy="549.6" r="1.75" fill="#111"/>
<circle cx="114" cy="552.6" r="1.75" fill="#111"/>
<circle cx="119.2" cy="552.8" r="1.75" fill="#111"/>
<line x1="137" y1="520" x2="137" y2="530" stroke="#222" stroke-width="0.9"/>
<line x1="133.8" y1="522" x2="140.4" y2="522" stroke="#222" stroke-width="0.9"/>
<circle cx="137" cy="517" r="2.0" fill="#fff" stroke="#111" stroke-width="0.85"/>
<circle cx="137" cy="526" r="2.0" fill="#fff" stroke="#111" stroke-width="0.85"/>
<circle cx="133" cy="533.6" r="2.0" fill="#2aa5e2" stroke="#111" stroke-width="0.85"/>
<circle cx="136.6" cy="533.6" r="2.0" fill="#2aa5e2" stroke="#111" stroke-width="0.85"/>
<circle cx="140.4" cy="533.6" r="2.0" fill="#2aa5e2" stroke="#111" stroke-width="0.85"/>
<circle cx="143" cy="533.4" r="2.0" fill="#2aa5e2" stroke="#111" stroke-width="0.85"/>
<polyline points="170.2,517.3 170.2,461.0 190.6,461.0 190.6,470.4" fill="none" stroke="#3a3a3a" stroke-width="0.85"/>
<text x="180.39999999999998" y="459.0" font-size="7" text-anchor="middle" fill="#262626" font-weight="normal" stroke="#262626" stroke-width="0.15">*</text>
<line x1="170.8" y1="531.8" x2="170.8" y2="541" stroke="#222" stroke-width="0.9"/>
<line x1="167.6" y1="531.8" x2="174" y2="531.8" stroke="#222" stroke-width="0.9"/>
<circle cx="170.8" cy="524.4" r="1.75" fill="#111"/>
<circle cx="166.3" cy="541.6" r="1.75" fill="#111"/>
<circle cx="170.8" cy="541.6" r="1.75" fill="#111"/>
<circle cx="176.1" cy="541.6" r="1.75" fill="#111"/>
<circle cx="166.3" cy="549" r="1.75" fill="#111"/>
<circle cx="176.1" cy="549" r="1.75" fill="#111"/>
<circle cx="171" cy="547" r="1.75" fill="#111"/>
<line x1="191.5" y1="483.2" x2="191.5" y2="524" stroke="#222" stroke-width="0.9"/>
<line x1="188.3" y1="483.2" x2="194.7" y2="483.2" stroke="#222" stroke-width="0.9"/>
<circle cx="191.5" cy="475.8" r="2.0" fill="#fff" stroke="#111" stroke-width="0.85"/>
<circle cx="191.5" cy="491" r="2.0" fill="#fff" stroke="#111" stroke-width="0.85"/>
<circle cx="191.5" cy="507" r="2.0" fill="#2aa5e2" stroke="#111" stroke-width="0.85"/>
<circle cx="191.5" cy="515.5" r="2.0" fill="#2aa5e2" stroke="#111" stroke-width="0.85"/>
<circle cx="191.5" cy="524.4" r="2.0" fill="#2aa5e2" stroke="#111" stroke-width="0.85"/>
<polyline points="224.2,537.2 224.2,448.2 245.5,448.2 245.5,454.1" fill="none" stroke="#3a3a3a" stroke-width="0.85"/>
<text x="234.85" y="446.2" font-size="7" text-anchor="middle" fill="#262626" font-weight="normal" stroke="#262626" stroke-width="0.15">**</text>
<line x1="224.8" y1="541" x2="224.8" y2="552" stroke="#222" stroke-width="0.9"/>
<line x1="221.6" y1="541" x2="228" y2="541" stroke="#222" stroke-width="0.9"/>
<circle cx="224.8" cy="537.2" r="1.75" fill="#111"/>
<circle cx="224.8" cy="543" r="1.75" fill="#111"/>
<circle cx="221.2" cy="549" r="1.75" fill="#111"/>
<circle cx="229.5" cy="550" r="1.75" fill="#111"/>
<circle cx="225.6" cy="555.9" r="1.75" fill="#111"/>
<line x1="245.5" y1="461.5" x2="245.5" y2="515" stroke="#222" stroke-width="0.9"/>
<line x1="242.3" y1="461.5" x2="248.7" y2="461.5" stroke="#222" stroke-width="0.9"/>
<line x1="242.3" y1="515" x2="248.7" y2="515" stroke="#222" stroke-width="0.9"/>
<circle cx="240.5" cy="459.5" r="2.0" fill="#fff" stroke="#111" stroke-width="0.85"/>
<circle cx="250.3" cy="463.6" r="2.0" fill="#fff" stroke="#111" stroke-width="0.85"/>
<circle cx="245.5" cy="488.8" r="2.0" fill="#2aa5e2" stroke="#111" stroke-width="0.85"/>
<circle cx="245.5" cy="503" r="2.0" fill="#2aa5e2" stroke="#111" stroke-width="0.85"/>
<circle cx="245.5" cy="519.4" r="2.0" fill="#2aa5e2" stroke="#111" stroke-width="0.85"/>
</svg>
</body></html>
